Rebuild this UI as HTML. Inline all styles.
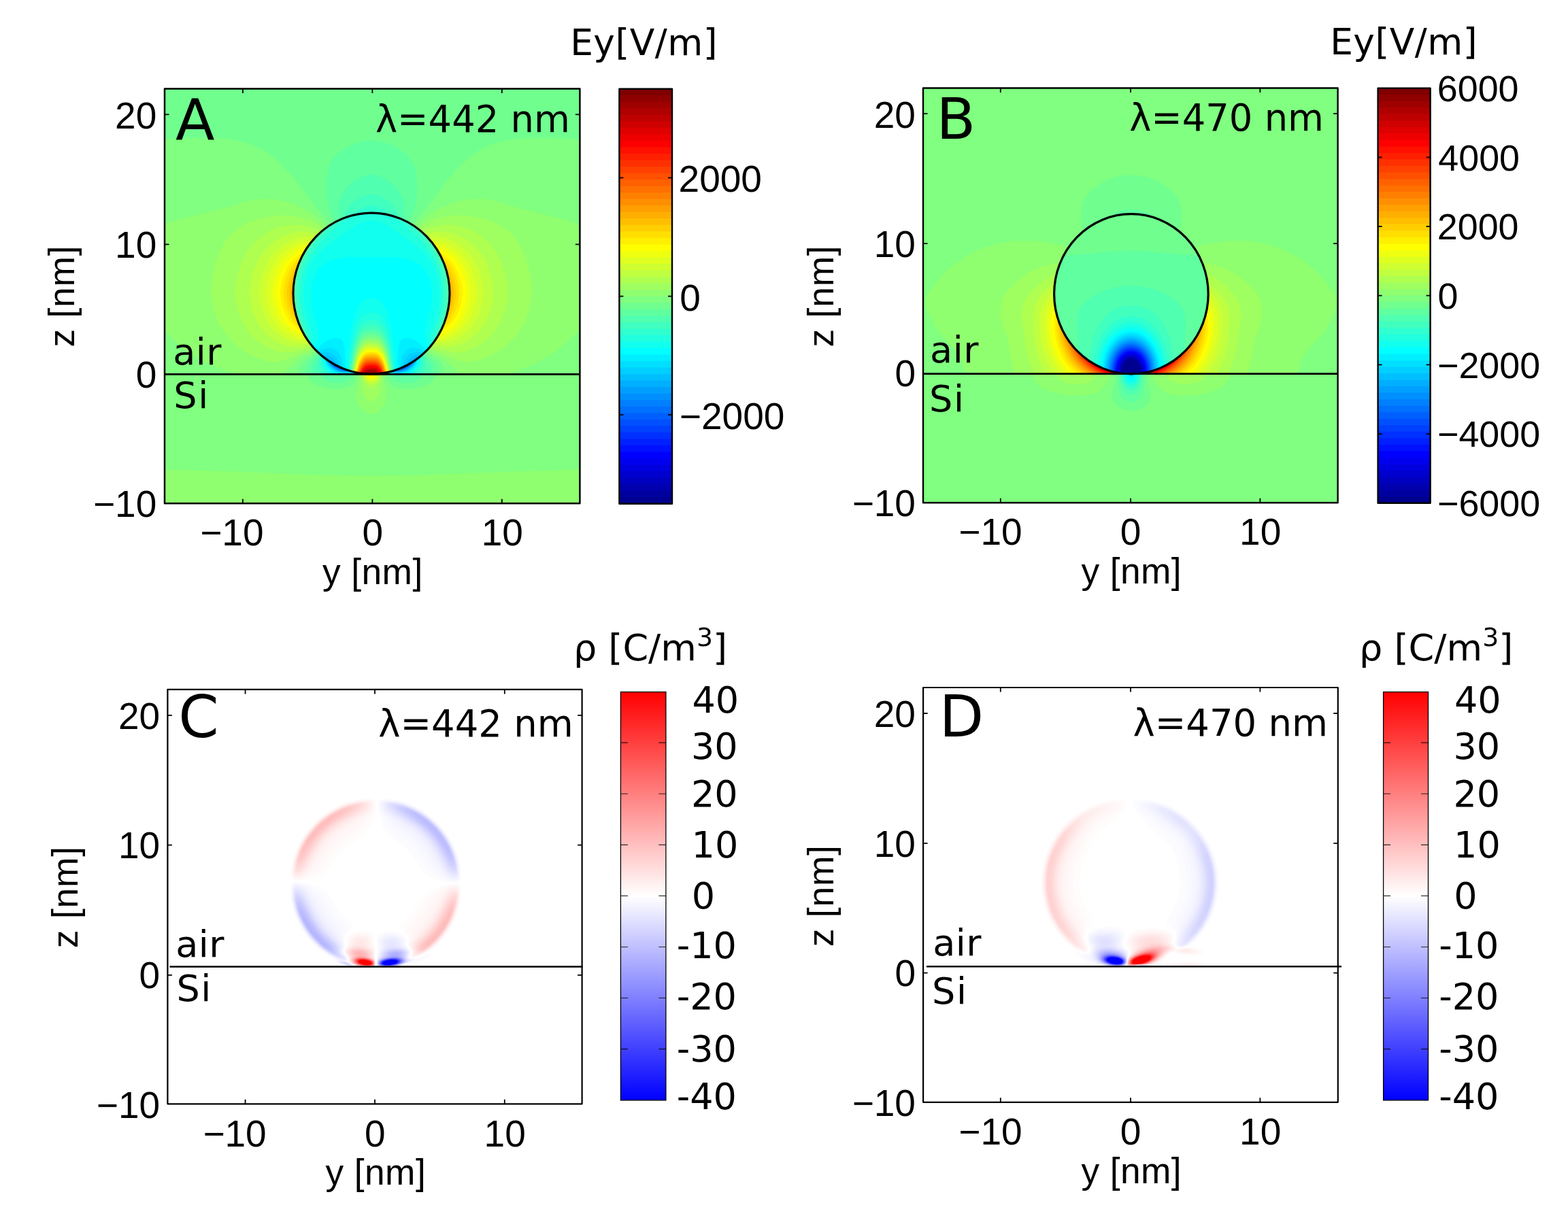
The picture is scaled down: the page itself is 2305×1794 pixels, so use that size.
<!DOCTYPE html>
<html lang="en"><head><meta charset="utf-8"><title>Ey field and charge density maps</title>
<style>html,body{margin:0;padding:0;background:#fff}body{width:2305px;height:1794px;overflow:hidden}svg{display:block}text{fill:#000}</style>
</head><body>
<svg width="2305" height="1794" viewBox="0 0 2305 1794">
<rect width="2305" height="1794" fill="#fff"/>
<g id="panelA">
<clipPath id="clip242"><rect x="242" y="130.5" width="610.4" height="609.7"/></clipPath>
<g clip-path="url(#clip242)" shape-rendering="geometricPrecision">
<rect x="241" y="129.5" width="612.4" height="611.7" fill="#0020ff"/>
<path fill="#0030ff" d="M241 129h613v613h-613z"/>
<path fill="#0040ff" d="M241 129h613v613h-613z"/>
<path fill="#0050ff" d="M241 129h613v613h-613zM491.5 537l4.5 3l5 2v-1h-1l-1 -1h-1l-1 -1.5l-1 0.5l-1 -1h-1l-1 -1zM600.5 537h-1.5l-1 1h-1l-1 1l-1 -0.5l-1 1.5h-1l-1 1h-1v1l5 -2z"/>
<path fill="#0060ff" d="M241 129h613v613h-613zM490 536l3 2.5l4 2.5l4 1.5l5 1l-2 -1.5h-2l-1 -1.5l-1 0.5l-1 -1.5h-1l-1 -1h-1l-1 -1h-1l-1 -1l-1 0.5l-1 -1zM602 536h-1l-1 1l-1 -0.5l-1 1h-1l-1 1h-1l-1 1h-1l-1 1.5l-1 -0.5l-1 1.5h-2l-2 1.5l5 -1l4 -1.5l4 -2.5z"/>
<path fill="#0070ff" d="M241 129h613v613h-613zM489 536l4 3l4 2.5l4 1.5l5 1v-1h-1l-1 -1.5l-2 0.5l-1 -1.5h-1l-1 -1h-1l-1 -1h-1l-1 -1h-1l-1 -1h-1l-1 -1zM603 536l-2 -0.5l-1 1h-1l-1 1h-1l-1 1h-1l-1 1h-1l-1 1h-1l-1 1.5l-2 -0.5l-1 1.5h-1v1l5 -1l4 -1.5l4 -2.5z"/>
<path fill="#0080ff" d="M241 129h613v613h-613zM486.5 534l4.5 4.5l5 3l6 2l7 1v-0.5h-2l-3 -2.5h-2l-1 -1h-1l-1 -1h-1l-1 -1h-1l-1 -1h-1l-1 -1h-1l-1 -1h-1l-2 -2zM605.5 534l-1.5 -0.5l-2 2h-1l-1 1h-1l-1 1h-1l-1 1h-1l-1 1h-1l-1 1h-1l-1 1h-2l-3 2.5h-2v0.5l7 -1l6 -2l5 -3z"/>
<path fill="#008fff" d="M241 129h613v613h-613zM485 533l4.5 5l5.5 4l7 2.5l7 0.5v-1h-2l-3 -2.5h-2l-1 -1h-1l-3 -2h-1l-1 -1h-1l-3 -2h-1l-2 -2h-1l-1 -1zM607 533l-1 -0.5l-1 1h-1l-2 2h-1l-3 2h-1l-1 1h-1l-3 2h-1l-1 1h-2l-3 2.5h-2v1l7 -0.5l7 -2.5l5.5 -4z"/>
<path fill="#009fff" d="M241 129h613v613h-613zM484.5 533l4.5 5.5l7 4.5l8 2.5h8v-0.5h-2l-1 -1.5h-2l-3 -2h-2l-1 -1h-1l-3 -2h-1l-1 -1h-1l-3 -2h-1l-2 -2h-1l-1 -1zM607.5 533l-1.5 -0.5l-1 1h-1l-2 2h-1l-3 2h-1l-1 1h-1l-3 2h-1l-1 1h-2l-3 2h-2l-1 1.5h-2v0.5h8l8 -2.5l7 -4.5z"/>
<path fill="#00afff" d="M241 129h613v613h-613zM482.5 531l2.5 4l2.5 3l3.5 3l4 2.5l8 2.5h9v-1h-2l-1 -1.5h-2l-3 -2h-2l-3 -2.5h-1l-1 -1h-1l-1 -1h-1l-1 -1l-3 -1l-2 -2l-3 -1l-2 -1.5zM609.5 531l-0.5 -0.5l-2 1.5l-3 1l-2 2l-3 1l-1 1h-1l-1 1h-1l-1 1h-1l-3 2.5h-2l-3 2h-2l-1 1.5h-2v1h9l8 -2.5l4 -2.5l3.5 -3l2.5 -3z"/>
<path fill="#00bfff" d="M241 129h613v613h-613zM477 525.5v0.5l1 1h1l1.5 2l3 5l2.5 3.5l4 3.5l4 2.5l5 2l5 1.5h6l6 -1h-3l-1 -1.5h-2l-1 -1h-2l-3 -2h-2l-1 -1.5h-1l-1 -1h-1l-1 -1h-1l-1 -1l-3 -1l-4 -5l-3 -2.5l-4 -2zM615 525.5l-4 1l-4 2l-3 2.5l-4 5l-3 1l-1 1h-1l-1 1h-1l-1 1h-1l-1 1.5h-2l-3 2h-2l-1 1h-2l-1 1.5h-3l6 1h6l5 -1.5l5 -2l4 -2.5l4 -3.5l2.5 -3.5l3 -5l1.5 -2h1l1 -1z"/>
<path fill="#00cfff" d="M241 129h613v613h-613zM473 522v1l1 1h1l3 3.5l1.5 0.5l3 6l3 4l6.5 5.5l6 3l6 1h6l6 -0.5v-1h-3l-1 -1.5h-2l-1 -1h-2l-3 -2.5h-2l-1 -1h-1l-1 -1l-3 -1l-4 -8l-3 -3l-3 -2.5l-6 -2zM619 522l-7 0.5l-6 2l-3 2.5l-3 3l-4 8l-3 1l-1 1h-1l-1 1h-2l-3 2.5h-2l-1 1h-2l-1 1.5h-3v1l6 0.5h6l6 -1l6 -3l6.5 -5.5l3 -4l3 -6l1.5 -0.5l3 -3.5h1l1 -1z"/>
<path fill="#00dfff" d="M241 129h613v613h-613zM470 519.5l4 5h1l3 3l1 0.5l2.5 6l3.5 5l7 5.5l6 2.5l7 1.5h7l6.5 -1.5h-1.5l-1 -1l-3 -0.5l-1 -1h-2l-1 -1l-2 -0.5l-3 -2h-2l-1 -1h-1l-1.5 -6l-2.5 -6l-4 -5l-4 -3l-4 -1.5l-5 -1l-5 0.5zM622 519.5l-4 -1.5l-5 -0.5l-5 1l-4 1.5l-4 3l-4 5l-2.5 6l-1.5 6h-1l-1 1h-2l-3 2l-2 0.5l-1 1h-2l-1 1l-3 0.5l-1 1h-1.5l6.5 1.5h7l7 -1.5l6 -2.5l7 -5.5l3.5 -5l2.5 -6l1 -0.5l3 -3h1z"/>
<path fill="#00efff" d="M241 129h613v613h-613zM467.5 517l6.5 7.5h1l3 3.5l2 6l3.5 5l3.5 3.5l4 3l7 3l6 1h8l7 -1.5v-1h-2l-1 -1.5h-3l-1 -1h-2l-1 -1.5h-2l-3 -2l-1 -9l-2 -8l-3.5 -6l-4.5 -4l-6 -2.5h-6l-7 2zM624.5 517l-6.5 -3.5l-7 -2h-6l-6 2.5l-4.5 4l-3.5 6l-2 8l-1 9l-3 2h-2l-1 1.5h-2l-1 1h-3l-1 1.5h-2v1l7 1.5h8l6 -1l7 -3l4 -3l3.5 -3.5l3.5 -5l2 -6l3 -3.5h1z"/>
<path fill="#00ffff" d="M241 129h613v613h-613zM465 514.5v0.5l9 9.5h1l2 2.5l2 7l3 5.5l3.5 3.5l4.5 3l5 2.5l4.5 1.5h16.5l6 -2h-2l-1 -1h-2l-1 -1.5h-3l-1 -1l-2 -0.5l-1 -1h-2l0.5 -16l-1 -15l-2 -9l-1.5 -2.5l-2 -2l-3 -1l-4 -0.5l-5 0.5l-5 2l-5 2.5l-5 3.5zM627 514.5l-9 -9l-5 -3.5l-5 -2.5l-5 -2l-5 -0.5l-4 0.5l-3 1l-2 2l-1.5 2.5l-2 9l-1 15l0.5 16h-2l-1 1l-2 0.5l-1 1h-3l-1 1.5h-2l-1 1h-2l6 2h16.5l4.5 -1.5l5 -2.5l4.5 -3l3.5 -3.5l3 -5.5l2 -7l2 -2.5h1l9 -9.5z"/>
<path fill="#10ffef" d="M241 129h613v613h-613zM474.5 390l-4.5 4l-3.5 5l-3.5 6l-2 5l-2 7l-1 6.5l-0.5 14.5l1 9l1.5 10l6.5 23l2 9l-0.5 5l-0.5 5l-5 13l11.5 12.5l1 0.5l1 1l1.5 8l1.5 4l2.5 3l5.5 5l7.5 4h26.5l3 -1.5v-0.5h-4l-1 -1l-2 -0.5l-1 -1h-3l-1 -1.5h-2l-0.5 -1l4 -41l4 -24l5 -19l3 -7l3.5 -5.5l3 -3.5l4 -2.5l4 -1.5h7l6 0.5l4 1.5l4 3l3 3.5l3.5 6.5l3 8l5 20l3 21l4 40l-0.5 1h-2l-1 1.5h-3l-1 1l-2 0.5l-1 1h-4v0.5l3 1.5h26.5l5.5 -2.5l5 -4l3.5 -3.5l2.5 -4l1.5 -5l0.5 -5l1 -1l1 -0.5l11.5 -12.5l-5 -13l-0.5 -5l-0.5 -5l1 -7l6 -19l2.5 -11l1.5 -12v-12l-1.5 -10.5l-2.5 -8.5l-3.5 -8l-5 -7l-4 -4l-4 -2.5l-10 -5l-12 -3l-15 -1.5h-59l-14 1l-9 1.5l-8 2.5l-7 3z"/>
<path fill="#20ffdf" d="M241 129h613v613h-613zM534 326l-7 3l-7 4l-31 22l-12 9.5l-8 7.5l-6 7l-6 9.5l-4 8l-3 9.5l-2.5 11l-1 11v12l1.5 11l2 10.5l10 32.5l0.5 7l-1 8l0.5 1l14 15h0.5l1 8l2 6l4 5l6.5 5l2.5 1l13.5 0.5l21.5 -0.5l2 -1h-2.5l-1 -1h-4l-1 -1.5h-2l-1 -1l-3 -0.5l-1 -1h-1l5.5 -37l5 -22l2.5 -7.5l3 -6.5l3 -4.5l4 -4l4 -2l4 -0.5l7 -0.5l5 1l5 2.5l4 4.5l4 7.5l3.5 9l5 22l5.5 38h-1l-1 1l-3 0.5l-1 1h-2l-1 1.5h-4l-1 1h-2.5l2 1h7.5h27.5l6.5 -4l5 -5l2 -3l1.5 -4l1 -9h0.5l14 -15l0.5 -1l-1 -8l0.5 -7l10 -32l2 -10l1 -9l0.5 -11l-0.5 -10l-1.5 -9l-2 -9l-2.5 -7.5l-3 -6.5l-8 -12l-11 -12l-14 -11l-31 -22l-11 -6l-7 -2l-7 -1l-6 0.5z"/>
<path fill="#30ffcf" d="M241 129h613v613h-613zM521.5 316l-11.5 6l-10 7l-11.5 10l-13.5 14l-9 10l-8 11l-6 10.5l-5 11.5l-3 10.5l-2 12.5l-1 12l0.5 13l1.5 10l2 9.5l3 10.5l7 20l2 12l2 2v1l14 15v9l1.5 6l4.5 6l6.5 5l20.5 0.5l26 -0.5h-1l-1 -1h-5l-1 -1l-4 -0.5l-1 -1h-2l-1 -1l-3 -0.5v-1l4.5 -30l4 -17l2.5 -8l3 -7l3 -4.5l4 -4l3 -2l4 -1h8l5 1l4 2l4 4l3.5 5.5l3.5 8l2.5 9l2.5 12l5 32v1l-3 0.5l-1 1h-2l-1 1l-4 0.5l-1 1h-5l-1 1h-1l26 0.5l20.5 -0.5l6.5 -5l4.5 -6l1.5 -6v-9l14 -15v-1l2 -2l2 -12l7 -20l3 -10.5l3 -16.5l1 -18l-2 -18l-4 -15l-4 -9.5l-4 -7.5l-6 -9.5l-7 -9l-10 -11l-12 -11.5l-10 -9l-8.5 -6l-6.5 -4l-6.5 -3h-3.5l-1 -1l-5 -0.5l-1 -1l-14 -0.5l-14 0.5l-1 1l-5 0.5l-1 1z"/>
<path fill="#40ffbf" d="M241 129h613v613h-613zM539 303l-5 2l-5 3l-9 8h-3l-1 1l-2 0.5l-1 1h-2l-1 1h-2l-1 1h-2l-3 2.5h-2l-1 1h-1l-5 3l-11 10l-11 12l-10 12.5l-8 12l-6 12l-4 10.5l-3 11.5l-2 11.5l-0.5 12l0.5 13l2 13.5l3 12.5l8.5 24l1.5 7l2 2v1l4 4v1l13 14l-1.5 10l0.5 6l1 3l2 3l6 5l24 0.5l37 -0.5h-10l-1 -1h-5l-1 -1l-4 -0.5l-1 -1h-2l-1 -1.5h-2l5.5 -33l3.5 -12l3.5 -9l4.5 -7l4 -4l5 -2h6h6l5 2l4 4l4.5 7l3.5 9l3.5 12l5.5 33h-2l-1 1.5h-2l-1 1l-4 0.5l-1 1h-5l-1 1h-10l37 0.5l24 -0.5l6 -5l2 -3l1 -3l0.5 -6l-1.5 -10l13 -14v-1l4 -4v-1l2 -2l11 -35l3.5 -17l1 -17l-1 -17l-3.5 -16l-3 -8.5l-4 -9.5l-5 -9l-5 -7.5l-7 -9.5l-8 -9.5l-8 -8.5l-12 -11l-3 -1l-1 -1h-1l-1 -1h-2l-3 -2.5h-2l-1 -1h-2l-1 -1h-2l-1 -1l-2 -0.5l-1 -1h-3l-8 -7.5l-8 -4.5l-8 -2h-5z"/>
<path fill="#50ffaf" d="M241 129h613v613h-613zM556 287.5l-5 -1l-5 -0.5l-9 1.5l-10 4l-10 7.5l-3.5 4l-2.5 4l-2.5 6l-1.5 7h-2l-3 2.5h-2l-3 2h-1l-3 2h-1l-2 2l-3 1.5l-2 2h-1l-2 2h-1l-8 7l-6 7l-9 12l-7 11l-6 11.5l-4 10.5l-4 15.5l-2 16.5v16l2.5 17l3.5 15l8 22l4 5v1l2 2v1l3.5 4v1l12 13l-4 11l-1 6l0.5 3l1.5 3l4.5 5l29 1l40 -1h-10l-1 -1h-5l-1 -1l-4 -0.5l-1 -1l-2 -0.5l-1 -1h-1l5.5 -30l3 -11l3.5 -8l4 -6.5l4 -3.5l5 -2l6 -0.5l6 0.5l5 2l4 3.5l4 6.5l3.5 8l3 11l5.5 30h-1l-1 1l-2 0.5l-1 1l-4 0.5l-1 1h-5l-1 1h-10l40 1l29 -1l4.5 -5l1.5 -3l0.5 -3l-1 -6l-4 -11l12 -13v-1l3.5 -4v-1l2 -2v-1l4 -5l7 -19l4 -14l2 -12l1 -12v-12.5l-1 -12.5l-3 -13l-3 -10l-5 -11.5l-5 -9.5l-6 -9l-7 -9.5l-8 -9.5l-8 -7h-1l-2 -2h-1l-2 -2l-3 -1.5l-2 -2h-1l-3 -2h-1l-3 -2h-2l-3 -2.5h-2l-3 -11l-4 -7l-6 -5.5l-5 -3.5l-6 -3.5z"/>
<path fill="#60ff9f" d="M241 129h613v613h-613zM534 259l-8 4l-7 4.5l-7 6.5l-7 8.5l-4.5 8.5l-3 11l1 21l-1.5 1h-1l-1 1h-1l-1 1.5h-1l-2 2l-3 1l-2 2h-1l-2 2h-1l-3 3l-1 0.5l-4 4h-1l-12 12v1l-4 4v1l-3 3.5l-7 12.5l-5 11l-4 12.5l-3 15.5l-1.5 18l1.5 18l3 17l3 10l2 3v2l3 5v1l1 1v1l2 2l1 3l4 5v1l1.5 2v1l4 4v1l10.5 11v1l-10 15l-1 4l0.5 5l3 5l33.5 1l46 -1h-10l-1 -1h-5l-1 -1.5h-4l-1 -1l-2 -0.5l-1 -1l5.5 -28l3 -10l3.5 -8l4 -5.5l4 -3.5l5 -1.5h7l6 1l4 2l4 4.5l3 5l3 7.5l3 9.5l5 27l-1 1l-2 0.5l-1 1h-4l-1 1.5h-5l-1 1h-10l46 1l33.5 -1l3 -6l0.5 -3v-3l-2.5 -5l-8.5 -12v-1l10.5 -11v-1l4 -4v-1l1.5 -2v-1l4 -5l1 -3l2 -2v-1l1 -1v-1l3 -5v-2l1 -1l2 -5.5l3 -11.5l2 -11l1.5 -15l-0.5 -15l-2 -14l-4 -15l-4 -10.5l-5 -10.5l-6 -10l-2 -2v-1l-4 -4v-1l-12 -12h-1l-4 -4l-1 -0.5l-3 -3h-1l-2 -2h-1l-2 -2l-3 -1l-2 -2h-1l-1 -1.5h-1l-1 -1h-1l-1.5 -1l1 -20l-1 -5l-1.5 -6l-3 -6.5l-3 -4.5l-4 -4.5l-6 -6l-6 -5l-6 -3.5l-6 -3l-6 -1.5l-6 -0.5l-6 0.5z"/>
<path fill="#70ff8f" d="M241 129h613v613h-613zM533 207.5l-14 4.5l-7 3l-7 4l-6 4.5l-6.5 5.5l-3.5 4.5l-3.5 5.5l-3.5 9l-2 11l-1 12v15l2.5 17l9.5 24l-1 1l-3 1l-2 2.5h-1l-2 2h-1l-3 3h-1l-4 4h-1l-12 12.5v1l-4 4v1l-3 3v1l-4 5l-1 3l-1 1v1l-2 2v1l-2 3v2l-3 5v2l-2 3v2l-1 1v3l-1 1v2l-1 1v3l-1 1v4l-1 1v6l-1 1v30l1 1v5l1 1v4l1 1v3l1 1v3l1 1v2l1 1v2l1 1v2l3 5v2l3 5v1l1 1v1l2 2l1 3l3.5 5v1l2 2v1l4 4v1l9 10l-3.5 4l-9.5 8l-3 4l-2.5 6l0.5 6l0.5 3l23.5 1l-1 2l0.5 2l1 2l3 2.5l7 2.5l10 1.5l10 -0.5l7 -2.5l3 -2.5l1.5 -2l0.5 -3l-0.5 -2l25.5 -0.5v-0.5h-10l-1 -1l-5 -0.5l-1 -1h-4l-1 -1l-2 -0.5v-1l2.5 -15l3 -12l3 -9l3.5 -7.5l4 -5l4 -3l5 -1h8l4 1l4 2l4 4.5l3 5.5l2.5 6.5l3 9l4.5 24v1l-2 0.5l-1 1h-4l-1 1l-5 0.5l-1 1h-10v0.5l25.5 0.5l-0.5 3l1.5 3l2.5 2.5l4 2l5 1.5l5 0.5h6l6 -1l6 -1.5l5 -3l2 -3l0.5 -2l-1 -2l23.5 -1l1 -8l-1.5 -6l-4 -5l-9.5 -8l-3.5 -4l9 -10v-1l4 -4v-1l2 -2v-1l3.5 -5l1 -3l2 -2v-1l1 -1v-1l3 -5v-2l3 -5v-2l1 -1v-2l1 -1v-2l1 -1v-3l1 -1v-3l1 -1v-4l1 -1v-5l1 -1v-30l-1 -1v-6l-1 -1v-4l-1 -1v-3l-1 -1v-2l-1 -1v-3l-1 -1v-2l-2 -3v-2l-3 -5v-2l-2 -3v-1l-2 -2v-1l-1 -1l-1 -3l-4 -5v-1l-3 -3v-1l-4 -4v-1l-12 -12.5h-1l-4 -4h-1l-3 -3h-1l-2 -2h-1l-2 -2.5l-3 -1l-1 -1l10 -25l1.5 -11l0.5 -11v-14l-1.5 -12l-3 -10l-4.5 -9l-5 -6.5l-8 -6.5l-9 -6l-10 -4.5l-10 -3l-11 -2h-9z"/>
<path fill="#80ff80" d="M241 205l25 -1.5l22 -1h21l19 1l16 2l12 2.5l13 4l12 5.5l10 5.5l9 6.5l10 8.5l10 10.5l17 20l25 33.5l10 11.5l9 11.5l3.5 6h-0.5l-2 2h-1l-3 3.5h-1l-4 4h-1l-12.5 12.5v1l-3.5 4v1l-3 3v1l-4 5l-1 3l-1 1v1l-2 2v1l-1 1v1l-1 1v2l-3 5v2l-1 1v1l-1 1v2l-1 1v3l-1 1v2l-1 1v3l-1 1v4l-1 1v6l-1 1v30l1 1v5l1 1v4l1 1v3l1 1v3l1 1v2l1 1v2l1 1v2l3 5v2l3 5l1 3l1.5 2l1 3l4 5v1l2 2v1l4 4v1l7.5 8l-4 3.5l-12.5 7.5l-6 5l-2 3l-2 4l-1 4l-0.5 6l16 1l-0.5 3l0.5 2l2 4l5 4l7 3.5l12 3.5l15 1h7l6 -1.5l5 -1.5l4 -2.5l3 -3l2 -3.5l1 -4v-5l18 -0.5v-0.5h-10l-1 -1l-5 -0.5l-1 -1h-4l-1 -1.5h-1.5l4.5 -22l5 -15l3 -5.5l3 -3.5l4 -2.5l4 -1.5h7l5 0.5l4 2l4 4l3.5 5.5l3 8l3 10l4 20h-1.5l-1 1.5h-4l-1 1l-5 0.5l-1 1h-10v0.5l18 0.5v6l2 5l3 3.5l5 3.5l7 2l9 1l11 -0.5l11 -1.5l10 -3.5l7 -4.5l4 -5l0.5 -3l-0.5 -3l16 -1l-0.5 -6l-1 -4l-2 -4l-2 -3l-6 -5l-12.5 -7.5l-4 -3.5l7.5 -8v-1l4 -4v-1l2 -2v-1l4 -5l1 -3l1.5 -2l1 -3l3 -5v-2l3 -5v-2l1 -1v-2l1 -1v-2l1 -1v-3l1 -1v-3l1 -1v-4l1 -1v-5l1 -1v-30l-1 -1v-6l-1 -1v-4l-1 -1v-3l-1 -1v-2l-1 -1v-3l-1 -1v-2l-2 -3v-2l-3 -5v-2l-2 -3v-1l-2 -2v-1l-1 -1l-1 -3l-4 -5v-1l-3 -3v-1l-3.5 -4v-1l-12.5 -12.5h-1l-4 -4h-1l-3 -3.5h-1l-2 -2h-0.5l7.5 -11.5l15 -17.5l24 -32.5l11 -13.5l11 -12l15 -13.5l14 -10l17 -8l18 -5.5l23 -3l27 -1.5l30 0.5l34 2.5v536.5h-613z"/>
<path fill="#8fff70" d="M241 331l9.5 -5l90 -23l12.5 -4.5l10 -3l11 -2l10 -1h11l10 0.5l10 2l9 2.5l24 10l8 4.5l8 6l8 7l8 9l-2 2h-1l-4 4.5h-1l-12.5 12.5v1l-4 4v1l-3 3v1l-4 5l-1 3l-1 1v1l-1.5 2v1l-2 3v2l-3 5v2l-2 3v2l-1 1v3l-1 1v2l-1 1v3l-1 1v4l-1 1v6l-1 1v30l1 1v5l1 1v4l1 1v3l1 1v3l1 1v2l1 1v2l1 1v2l2.5 5v2l3 5l1 3l2 2l1 3l4 5v1l2 2v1l9.5 11l-5 3l-13.5 6l-6.5 4l-7 6l-11 11.5l-6 4.5h-46h-23l-17 -6l-18 -7l-18.5 -9l-10.5 -6l-10.5 -8l-30.5 -27.5zM671 296.5l13 -3l13 -1h13l14 2l12 3l15.5 5.5l90 23l12.5 6.5v151l-28.5 26.5l-15.5 12l-16 8.5l-15.5 7.5l-16.5 6.5l-16 5.5h-68l-3 -1.5l-4 -3l-11 -11.5l-7 -6l-6.5 -4l-13.5 -6l-5 -3l9.5 -11v-1l2 -2v-1l4 -5l1 -3l2 -2l1 -3l3 -5v-2l2.5 -5v-2l1 -1v-2l1 -1v-2l1 -1v-3l1 -1v-3l1 -1v-4l1 -1v-5l1 -1v-30l-1 -1v-6l-1 -1v-4l-1 -1v-3l-1 -1v-2l-1 -1v-3l-1 -1v-2l-2 -3v-2l-3 -5v-2l-2 -3v-1l-1.5 -2v-1l-1 -1l-1 -3l-4 -5v-1l-3 -3v-1l-4 -4v-1l-12.5 -12.5h-1l-4 -4.5h-1l-2 -2l11 -11.5l7 -6l7 -5l12 -6.5l13 -5.5zM544 499l7 0.5l4 1l4 3l3 3.5l3 6l3.5 9l3 11l2.5 13h-1l-1 1l-4 0.5l-1 1l-5 0.5l-1 1h-10v0.5l14 0.5v13l3.5 12l0.5 6l-1 4l-1.5 6l-2.5 5l-3 4l-3 3.5l-4 2.5l-4 1.5l-4 0.5l-4 -0.5l-4 -1.5l-4 -2.5l-3 -3.5l-3 -4l-2.5 -5l-1.5 -6l-1 -4l0.5 -6l3.5 -12v-13l14 -0.5v-0.5h-10l-1 -1l-5 -0.5l-1 -1l-4 -0.5l-1 -1h-1l5 -23l3 -8l3 -6l3 -4.5l3 -3l4 -2zM241 690.5l88 2.5l144 5.5l73 1l72 -1l146 -5.5l90 -2.5v51.5h-613z"/>
<path fill="#9fff60" d="M433 317.5l13 3l11 4l9 5l10 7l-3 3.5h-1l-12.5 13v1l-4 4v1l-3 3v1l-4 5l-1 3l-1 1v1l-2 2v1l-2 3v2l-3 5v2l-2 3v2l-1 1v3l-0.5 1l-0.5 2l-0.5 1l-0.5 3l-0.5 1v4l-1 1v6l-1 1v30l1 1v5l0.5 1l0.5 4l0.5 1v3l1 1v3l1 1v2l1 1v2l1 1v2l3 5v2l3 5l1 3l2 2l1 3l4 5v1l2 2v1l3.5 4v1l3.5 4l-20.5 7.5l-18 7.5l-7 2.5l-10 1.5l-11 -0.5l-9 -2.5l-12 -4.5l-9 -4.5l-9.5 -6l-9 -7l-7 -7l-6 -7l-7.5 -10l-5.5 -9l-6 -17l-2.5 -12l-1.5 -10v-8l0.5 -10l1.5 -11l4.5 -20l8 -20l4 -7l4.5 -7l6 -7l5 -5l11.5 -7.5l12.5 -6.5l15.5 -5l13 -2.5l12 -1.5l12 -0.5zM654 318.5l11 -1.5l12 -0.5l12 1l13 2l12 3l9.5 3.5l11.5 6l14 9l6.5 7l5 7l5 8l3.5 7l4 11l6 20l1.5 10l1 10v10l-0.5 7l-1.5 10l-3 11l-4 12l-3 6l-8 12l-6 8l-7 7l-8 7l-8.5 6l-9 5l-14 6l-10 3l-11 1l-6 -0.5l-5 -0.5l-7 -2.5l-20 -8.5l-19.5 -7l3.5 -4v-1l3.5 -4v-1l2 -2v-1l4 -5l1 -3l2 -2l1 -3l3 -5v-2l3 -5v-2l1 -1v-2l1 -1v-2l1 -1v-3l1 -1v-3l0.5 -1l0.5 -4l0.5 -1v-5l1 -1v-30l-1 -1v-6l-1 -1v-4l-0.5 -1l-0.5 -3l-0.5 -1l-0.5 -2l-0.5 -1v-3l-1 -1v-2l-2 -3v-2l-3 -5v-2l-2 -3v-1l-2 -2v-1l-1 -1l-1 -3l-4 -5v-1l-3 -3v-1l-4 -4v-1l-12.5 -13h-1l-3 -3.5l8 -6l9.5 -5.5l9.5 -4zM544 502h7l4 1.5l4 2.5l3 4l3 5.5l3 8.5l5 22l-1 1l-4 0.5l-1 1h-5l-1 1.5h-10v0.5l11 0.5v4l-3 13l-1 9l-1.5 5l-2 3l-2.5 3l-3 1.5l-3 0.5l-3 -0.5l-3 -1.5l-2.5 -3l-2 -3l-1.5 -5l-1 -9l-3 -13v-4l11 -0.5v-0.5h-10l-1 -1.5h-5l-1 -1l-4 -0.5l-1 -1l4.5 -21l2.5 -7l3 -6.5l3 -4l3 -3l4 -2z"/>
<path fill="#afff50" d="M447 331.5l13 3.5l11.5 5l-12 13v1l-4 4v1l-3 3v1l-2 2v1l-2 2v1l-2 3v1l-2 2v1l-2 3v2l-3 5v2l-2 3v2l-1 1v3l-1 1v2l-1 1v3l-1 1v4l-1 1v6l-1 1v30l1 1v5l1 1v4l1 1v3l1 1v3l1 1v2l1 1v2l1 1v2l3 5v2l3 5l1 3l2 2l1 3l4 5v1l1.5 2v1l4 4v1l1 1.5l-12 3l-19 4l-9 0.5l-8 -0.5l-7 -2l-8 -3.5l-8 -4.5l-7 -4.5l-7 -6l-6 -6l-4.5 -6l-4.5 -7l-3.5 -7l-4 -10l-2.5 -9l-2 -9l-1 -8v-7l0.5 -9l1.5 -9l2.5 -10l3 -9l3.5 -10l3.5 -7l4.5 -7l5 -6l5.5 -6l7 -6l13 -9l8.5 -4l8 -2.5l8 -1.5l9 -1l9 -0.5zM641 332.5l8 -1.5l9 -0.5l9 0.5l8 1.5l9 2.5l8 3l6 3l7.5 5l7.5 6l6.5 6l5 6l5 7l4 7l3.5 9l3.5 10l2.5 9l2 9l0.5 9l0.5 8l-0.5 7l-1.5 9l-2.5 9l-3 9l-4 9l-4.5 8l-4.5 6l-5.5 6l-6.5 6l-7.5 5.5l-8 4.5l-8 3.5l-7 2.5l-9 1l-9 -0.5l-17 -3l-15 -4l1 -1.5v-1l4 -4v-1l1.5 -2v-1l4 -5l1 -3l2 -2l1 -3l3 -5v-2l3 -5v-2l1 -1v-2l1 -1v-2l1 -1v-3l1 -1v-3l1 -1v-4l1 -1v-5l1 -1v-30l-1 -1v-6l-1 -1v-4l-1 -1v-3l-1 -1v-2l-1 -1v-3l-1 -1v-2l-2 -3v-2l-3 -5v-2l-2 -3v-1l-2 -2v-1l-2 -3v-1l-2 -2v-1l-2 -2v-1l-3 -3v-1l-4 -4v-1l-12 -13l9.5 -4.5zM543 504.5h7l4 1l4 2.5l3 3l3.5 6l3 8l5 21l-0.5 1l-4 0.5l-1 1h-5l-1 1l-10 0.5v0.5l9 0.5l-0.5 5l-2 5l-3.5 5l-4 3.5l-4 1l-4 -1l-4 -3.5l-3.5 -5l-2 -5l-0.5 -5l9 -0.5v-0.5l-10 -0.5l-1 -1h-5l-1 -1l-4 -0.5l-0.5 -1l4.5 -19l2.5 -7l2.5 -5.5l3 -4.5l3 -3l4 -2z"/>
<path fill="#bfff40" d="M456 341.5l11 2.5v1l-8 8l0.5 1l-4 4v1l-3 3v1l-2 2v1l-2 2v1l-2 3v1l-2 2v1l-2 3v2l-1 1v1l-2 3v2l-2 3v2l-1 1v3l-1 1v2l-1 1v3l-1 1v4l-1 1v6l-1 1v30l1 1v5l1 1v4l1 1v3l1 1v3l1 1v2l1 1v2l1 1v2l3 5v2l3 5l1 3l2 2l1 3l2 2v1l1.5 2v1l2 2v1l3 3v0.5l-9 1.5l-10 1h-7l-7 -1l-6 -1.5l-7 -3l-6.5 -3.5l-6 -4l-6 -5l-5 -5l-4 -5l-4 -6l-4 -8l-3 -8l-3 -9l-1.5 -8l-1 -13l0.5 -8l1 -9l4.5 -16l6.5 -16l4 -6l4.5 -6l10.5 -10l6.5 -5l8 -5l6 -3l7 -2.5l7 -1.5l8 -1l8 -0.5zM631 342.5l8 -1.5l8 -0.5l8 0.5l7 1.5l7 2l7 3l13 8l7 5.5l5.5 5l5 6l4 6l3.5 6l3 8l5.5 17l1.5 9l1 8v6l-0.5 8l-1.5 9l-2.5 8l-7 17l-7 11l-4.5 5l-6 5l-6 4.5l-7 4l-7 3l-6 2l-7 1l-8 0.5l-10 -1l-10 -1.5v-0.5l3 -3v-1l2 -2v-1l1.5 -2v-1l2 -2l1 -3l2 -2l1 -3l3 -5v-2l3 -5v-2l1 -1v-2l1 -1v-2l1 -1v-3l1 -1v-3l1 -1v-4l1 -1v-5l1 -1v-30l-1 -1v-6l-1 -1v-4l-1 -1v-3l-1 -1v-2l-1 -1v-3l-1 -1v-2l-1 -1v-1l-1 -1v-2l-3 -5v-2l-2 -3v-1l-2 -2v-1l-2 -3v-1l-4 -5v-1l-3 -3v-1l-4 -4l0.5 -1l-8 -8v-1zM543 507h7l4 1l4 2.5l3 3.5l3 5l3 7.5l2.5 9.5l2.5 11l-4 0.5l-1 1h-5l-1 1l-10 0.5v0.5l7 0.5l-0.5 4l-1 3l-2.5 3.5l-3 2.5l-4 1l-4 -0.5l-3 -1.5l-3 -2.5l-2 -3.5l-1 -3v-3l7 -0.5v-0.5l-10 -0.5l-1 -1h-5l-1 -1l-4 -0.5l4 -18l5 -12l3 -4.5l3 -3l4 -2z"/>
<path fill="#cfff30" d="M463 348.5v0.5l-4 4v1l-4 4v1l-2.5 3v1l-4 5v1l-2 3v1l-2 2v1l-2 3v2l-3 5v2l-1 1v1l-1 1v2l-1 1v3l-1 1v2l-1 1v3l-1 1v4l-1 1v6l-1 1v30l1 1v5l1 1v4l1 1v3l1 1v3l1 1v2l1 1v2l1 1v2l3 5v2l3 5l1 3l2 2l0.5 3l2 2v1l4 5v1.5h-11l-7 -0.5l-6 -1.5l-6 -2l-12 -6.5l-9.5 -8l-4.5 -5l-3.5 -5l-7.5 -15l-4.5 -15l-1.5 -14l1 -14l3.5 -15l6.5 -16l6 -10l9.5 -10l6.5 -5l7 -5l6 -3l6 -2.5l7 -2l7 -1.5h7zM629 348.5l7 -0.5h7l7 1l7 1.5l12 5.5l7 4.5l7 5.5l9 9l4 5l3.5 6l6 15l4 15l1.5 15l-1.5 13l-4 15l-7.5 16l-7.5 10l-9.5 8l-12 7l-6 2.5l-6 1.5l-7 0.5h-12v-1.5l4 -5v-1l2 -2l0.5 -3l2 -2l1 -3l3 -5v-2l3 -5v-2l1 -1v-2l1 -1v-2l1 -1v-3l1 -1v-3l1 -1v-4l1 -1v-5l1 -1v-30l-1 -1v-6l-1 -1v-4l-1 -1v-3l-1 -1v-2l-1 -1v-3l-1 -1v-2l-2 -3v-2l-3 -5v-2l-2 -3v-1l-2 -2v-1l-2 -3v-1l-2 -2v-1l-2 -2v-1l-2.5 -3v-1l-4 -4v-1zM541 509.5h7l5 0.5l4 2l3 3l3 4.5l3.5 7.5l2.5 9l2.5 11l-3.5 0.5l-1 1h-5l-1 1h-10v1.5h5v4l-1.5 3l-2 2l-2.5 1.5l-3 1l-3 -0.5l-3 -1l-2.5 -2l-2 -3l-0.5 -5h5v-1.5h-10l-1 -1h-5l-1 -1l-3.5 -0.5l4 -16l4.5 -11.5l2 -3.5l3 -3.5l3 -2z"/>
<path fill="#dfff20" d="M459 353v1l-4 4v1l-3 3v1l-2 2v1l-1.5 2v1l-2 3v1l-2 2v1l-2 3v2l-3 5v2l-2 3v2l-1 1v3l-1 1v2l-1 1v3l-1 1v4l-1 1v6l-1 1v30l1 1v5l1 1v4l1 1v3l1 1v3l1 1v2l1 1v2l1 1v2l3 5v2l3 5l0.5 3l2 2l1 3l4 5v1l-14 -2l-11 -5l-11 -7l-8.5 -9l-3 -4l-3.5 -6l-6 -15l-3 -14l-0.5 -12l2 -14l5 -15l5 -11l7.5 -10.5l10.5 -9.5l12.5 -8l6 -2.5l6 -1.5l6 -1zM633 353l7 1l6 1l6 1.5l6 2.5l12.5 8l10.5 9.5l7.5 10.5l5 11l5 15l2 14l-0.5 12l-3 14l-6 15l-3.5 6l-3 4l-8.5 9l-11 7l-11 5l-14 2v-1l4 -5l1 -3l2 -2l0.5 -3l3 -5v-2l3 -5v-2l1 -1v-2l1 -1v-2l1 -1v-3l1 -1v-3l1 -1v-4l1 -1v-5l1 -1v-30l-1 -1v-6l-1 -1v-4l-1 -1v-3l-1 -1v-2l-1 -1v-3l-1 -1v-2l-2 -3v-2l-3 -5v-2l-2 -3v-1l-2 -2v-1l-2 -3v-1l-1.5 -2v-1l-2 -2v-1l-3 -3v-1l-4 -4zM542 511.5h7l4 0.5l4 2l3 3l3 4.5l3 7l2.5 8.5l2.5 10l-3 0.5l-1 1h-5l-1 1h-10v1.5h3.5l-0.5 4l-3 3.5l-4 2l-3 -0.5l-2 -0.5l-3.5 -3.5l-1 -2v-3h3.5v-1.5h-10l-1 -1h-5l-1 -1l-3 -0.5l4 -16l5 -11l2 -3l3 -3l3 -1.5z"/>
<path fill="#efff10" d="M455 358.5v0.5l-3 3v1l-2 2v1l-2 2v1l-1 1l-1 3l-2 2v1l-1.5 3v2l-3 5v2l-2 3v2l-1 1v3l-1 1v2l-1 1v3l-1 1v4l-1 1v6l-1 1v30l1 1v5l1 1v4l1 1v3l1 1v3l1 1v2l1 1v2l1 1v2l3 5l-0.5 2l3 5l1 3l2 2v1l1 1l1 3l-9 -3l-11 -5.5l-8.5 -6.5l-7 -8l-5.5 -10l-4.5 -12l-3 -12l-0.5 -11l1.5 -12l3 -12l5 -13l6 -9l8.5 -9l11 -8l10 -5zM637 358.5l10 2.5l10 5l11 8l8.5 9l6 9l5 13l3 12l1.5 12l-0.5 11l-3 12l-4.5 12l-5.5 10l-7 8l-8.5 6.5l-11 5.5l-9 3l1 -3l1 -1v-1l2 -2l1 -3l3 -5l-0.5 -2l3 -5v-2l1 -1v-2l1 -1v-2l1 -1v-3l1 -1v-3l1 -1v-4l1 -1v-5l1 -1v-30l-1 -1v-6l-1 -1v-4l-1 -1v-3l-1 -1v-2l-1 -1v-3l-1 -1v-2l-2 -3v-2l-3 -5v-2l-1.5 -3v-1l-2 -2l-1 -3l-1 -1v-1l-2 -2v-1l-2 -2v-1l-3 -3zM522 547l4 -16l2.5 -6l2.5 -4.5l3 -3.5l3 -2l4 -1.5h5h5l4 1.5l3 2l3 3.5l2.5 4.5l2.5 6l4 16h-2l-1 1.5h-5l-1 1h-10v1.5h1.5v2l-0.5 2l-3 2.5l-3 1l-3 -1l-3 -2.5l-0.5 -2v-2h1.5v-1.5h-10l-1 -1h-5l-1 -1.5z"/>
<path fill="#ffff00" d="M450 364v2l-2 2v1l-1 1l-1 3l-2 2v1l-2 3v2l-3 5l0.5 2l-2 3v2l-1 1v3l-1 1v2l-1 1v3l-1 1v4l-1 1v6l-1 1v30l1 1v5l1 1v4l1 1v3l1 1v3l1 1v2l1 1l-0.5 2l1 1v2l3 5v2l1 1v1l1 1v1l1 1v1l1 1l1 3l-8 -4l-8 -5l-6.5 -6l-4.5 -6l-5.5 -10l-4 -11l-2 -10l-1 -10l1 -10l2.5 -11l4.5 -12l4.5 -8l5.5 -7l7.5 -7l10 -7zM642 364l8 4l10 7l7.5 7l5.5 7l4.5 8l4.5 12l2.5 11l1 10l-1 10l-2 10l-4 11l-5.5 10l-4.5 6l-6.5 6l-8 5l-8 4l1 -3l1 -1v-1l1 -1v-1l1 -1v-1l1 -1v-2l3 -5v-2l1 -1l-0.5 -2l1 -1v-2l1 -1v-3l1 -1v-3l1 -1v-4l1 -1v-5l1 -1v-30l-1 -1v-6l-1 -1v-4l-1 -1v-3l-1 -1v-2l-1 -1v-3l-1 -1v-2l-2 -3l0.5 -2l-3 -5v-2l-2 -3v-1l-2 -2l-1 -3l-1 -1v-1l-2 -2zM522.5 547l4.5 -16l2 -5l3 -5l3 -3l3 -1.5l3 -1l5 -0.5l5 0.5l3 1l3 1.5l3 3l3 5l2 5l4.5 16h-1.5l-1 1.5h-5l-1 1h-10l-1 4.5l-2 2h-2h-2l-2 -2l-1 -4.5h-10l-1 -1h-5l-1 -1.5z"/>
<path fill="#ffef00" d="M447 370l-1 3l-2 2v1l-2 3v2l-3 5v2l-2 3v2l-1 1v3l-1 1l0.5 2l-1 1v3l-1 1v4l-1 1v6l-1 1v30l1 1v5l1 1l-0.5 4l1.5 1l-0.5 3l1 1v3l1 1v2l1 1v2l1 1v2l3 5v2l2 3v1.5l-6 -4l-6 -5l-4.5 -4.5l-4 -6l-5 -10l-3 -9l-1.5 -9l-1 -9l1 -10l2.5 -9l3 -9l4 -9l4 -6l5.5 -6l7 -5.5zM645 370l8 5.5l7 5.5l5.5 6l4 6l4 9l3 9l2.5 9l1 10l-1 9l-1.5 9l-3 9l-5 10l-4 6l-4.5 4.5l-6 5l-6 4v-1.5l2 -3v-2l3 -5v-2l1 -1v-2l1 -1v-2l1 -1v-3l1 -1l-0.5 -3l1.5 -1l-0.5 -4l1 -1v-5l1 -1v-30l-1 -1v-6l-1 -1v-4l-1 -1v-3l-1 -1l0.5 -2l-1 -1v-3l-1 -1v-2l-2 -3v-2l-3 -5v-2l-2 -3v-1l-2 -2zM523 547l4 -14.5l2.5 -5.5l2.5 -4l3 -3l3 -2l3 -0.5l5 -0.5l5 0.5l3 0.5l3 2l3 3l2.5 4l2.5 5.5l4 14.5h-1l-1 1l-5 0.5l-1 1h-10l-1 1.5h-4h-4l-1 -1.5h-10l-1 -1l-5 -0.5l-1 -1z"/>
<path fill="#ffdf00" d="M442 378v3l-3 5v2l-2 3v2l-1 1v3l-1 1v2l-1 1v3l-1 1v4l-1 1v6l-1 1v30l1 1v5l1 1v4l1 1v3l1 1v3l1 1v2l1 1v2l1 1v2l1 1v1l1 1l1 3l-5 -4l-5 -5l-3.5 -5l-2.5 -5l-3.5 -8l-2.5 -8l-1.5 -8l-0.5 -7l0.5 -8l1.5 -8l2.5 -8l3.5 -9l3 -5l4 -5.5l5 -5.5zM650 378l5 4l5 5.5l4 5.5l3 5l3.5 9l2.5 8l1.5 8l0.5 8l-0.5 7l-1.5 8l-2.5 8l-3.5 8l-2.5 5l-3.5 5l-5 5l-5 4l1 -3l1 -1v-1l1 -1v-2l1 -1v-2l1 -1v-2l1 -1v-3l1 -1v-3l1 -1v-4l1 -1v-5l1 -1v-30l-1 -1v-6l-1 -1v-4l-1 -1v-3l-1 -1v-2l-1 -1v-3l-1 -1v-2l-2 -3v-2l-3 -5zM523.5 547l3.5 -13l2.5 -5l2.5 -4l3 -3.5l3 -1.5l3 -1l5 -0.5l5 0.5l3 1l3 1.5l3 3.5l2.5 4l2.5 5l3.5 13l-1.5 1l-5 0.5l-1 1h-10l-1 1.5h-4h-4l-1 -1.5h-10l-1 -1l-5 -0.5z"/>
<path fill="#ffcf00" d="M439 385.5v2.5l-2 3v2l-1 1v3l-1 1v2l-1 1v3l-1 1v4l-1 1v6l-1 1v30l1 1v5l1 1v4l1 1v3l1 1v3l1 1v2l1 1v3l-6 -8l-5.5 -12l-3 -11l-1.5 -11l2 -13l3.5 -13l5.5 -11zM653 385.5l7 8.5l5.5 11l3.5 13l2 13l-1.5 11l-3 11l-5.5 12l-6 8v-3l1 -1v-2l1 -1v-3l1 -1v-3l1 -1v-4l1 -1v-5l1 -1v-30l-1 -1v-6l-1 -1v-4l-1 -1v-3l-1 -1v-2l-1 -1v-3l-1 -1v-2l-2 -3zM524 547l4 -13l2.5 -5l2.5 -4l2 -1.5l3 -2l3 -1h5h5l3 1l3 2l2 1.5l2.5 4l2.5 5l4 13l-1 1l-5 0.5l-1 1h-10l-1 1.5h-4h-4l-1 -1.5h-10l-1 -1l-5 -0.5z"/>
<path fill="#ffbf00" d="M436 394v3l-1 1v2l-1 1v3l-1 1v4l-1 1v6l-1 1v30l1 1v5l1 1v4l1 1v3l1 1v2l-4 -8l-3.5 -9l-2 -9l-0.5 -8l0.5 -9l2.5 -10l4 -11zM656 394l4 7l4 11l2.5 10l0.5 9l-0.5 8l-2 9l-3.5 9l-4 8v-2l1 -1v-3l1 -1v-4l1 -1v-5l1 -1v-30l-1 -1v-6l-1 -1v-4l-1 -1v-3l-1 -1v-2l-1 -1zM524.5 547l4 -12l4.5 -8l2 -2l3 -2l3 -1h5h5l3 1l3 2l2 2l4.5 8l4 12l-0.5 1l-5 0.5l-1 1h-10l-1 1.5h-4h-4l-1 -1.5h-10l-1 -1l-5 -0.5z"/>
<path fill="#ffaf00" d="M432 410.5v5.5l-1 1v30l1 1v3l-3 -10l-1 -10l1 -10zM660 410.5l3 10.5l1 10l-1 10l-3 10v-3l1 -1v-30l-1 -1zM525 548l3 -11l2.5 -5l2.5 -3.5l2 -2l3 -2l3 -0.5l5 -0.5l5 0.5l3 0.5l3 2l2 2l2.5 3.5l2.5 5l3 11l-5 0.5l-1 1h-10l-1 1.5h-4h-4l-1 -1.5h-10l-1 -1z"/>
<path fill="#ff9f00" d="M525.5 548l3.5 -11l4 -7l2 -2l3 -2l3 -0.5l5 -0.5l5 0.5l3 0.5l3 2l2 2l4 7l3.5 11l-4.5 0.5l-1 1h-10l-1 1.5h-4h-4l-1 -1.5h-10l-1 -1z"/>
<path fill="#ff8f00" d="M526 548l3 -10l2.5 -4l2.5 -3.5l2 -2l3 -1.5l7 -0.5l7 0.5l3 1.5l2 2l2.5 3.5l2.5 4l3 10l-4 0.5l-1 1h-10l-1 1h-4h-4l-1 -1h-10l-1 -1z"/>
<path fill="#ff8000" d="M526.5 548l3.5 -10l4 -6l2 -2l3 -1.5l7 -0.5l7 0.5l3 1.5l2 2l4 6l3.5 10h-3.5l-1 1.5h-10l-1 1h-4h-4l-1 -1h-10l-1 -1.5z"/>
<path fill="#ff7000" d="M527 548l3 -8.5l4.5 -6.5l4.5 -3l7 -1l7 1l4.5 3l4.5 6.5l3 8.5h-3l-1 1.5h-10l-1 1h-4h-4l-1 -1h-10l-1 -1.5z"/>
<path fill="#ff6000" d="M527.5 548l3.5 -9l4 -5.5l5 -2.5l6 -0.5l6 0.5l5 2.5l4 5.5l3.5 9h-2.5l-1 1l-10 0.5l-1 1h-4h-4l-1 -1l-10 -0.5l-1 -1z"/>
<path fill="#ff5000" d="M528 548l3 -7.5l4 -5.5l2 -1.5l3 -1l6 -0.5l6 0.5l3 1l2 1.5l4 5.5l3 7.5h-2l-1 1l-10 0.5l-1 1h-4h-4l-1 -1l-10 -0.5l-1 -1z"/>
<path fill="#ff4000" d="M528.5 548l3.5 -8l3.5 -4l4.5 -2.5l6 -0.5l6 0.5l4.5 2.5l3.5 4l3.5 8h-1.5l-1 1l-10 0.5l-1 1h-4h-4l-1 -1l-10 -0.5l-1 -1z"/>
<path fill="#ff3000" d="M529 548l3 -6.5l4 -4.5l4 -2l6 -0.5l6 0.5l4 2l4 4.5l3 6.5h-1l-1 1l-10 0.5l-1 1h-4h-4l-1 -1l-10 -0.5l-1 -1z"/>
<path fill="#ff2000" d="M530 548l2.5 -6l3.5 -4l4 -2l6 -0.5l6 0.5l4 2l3.5 4l2.5 6l-1 1l-10 0.5l-1 1h-4h-4l-1 -1l-10 -0.5z"/>
<path fill="#ff1000" d="M530.5 548l2.5 -5l4 -4.5l4 -1.5l5 -0.5l5 0.5l4 1.5l4 4.5l2.5 5l-0.5 1l-10 0.5l-1 1h-4h-4l-1 -1l-10 -0.5z"/>
<path fill="#ff0000" d="M531 549l2 -5l4 -4l4 -1.5l5 -0.5l5 0.5l4 1.5l4 4l2 5h-10l-1 1.5h-4h-4l-1 -1.5z"/>
<path fill="#ef0000" d="M531.5 549l2.5 -5l3 -3l4 -1.5l5 -0.5l5 0.5l4 1.5l3 3l2.5 5h-9.5l-1 1.5h-4h-4l-1 -1.5z"/>
<path fill="#df0000" d="M532 549l3 -4.5l3 -2.5l3 -1.5h5h5l3 1.5l3 2.5l3 4.5h-9l-1 1.5h-4h-4l-1 -1.5z"/>
<path fill="#cf0000" d="M533 549l2 -3.5l3 -2.5l3 -1l5 -0.5l5 0.5l3 1l3 2.5l2 3.5h-8l-1 1h-4h-4l-1 -1z"/>
<path fill="#bf0000" d="M533.5 549l2.5 -3l3 -2.5l3 -0.5l4 -0.5l4 0.5l3 0.5l3 2.5l2.5 3h-7.5l-1 1h-4h-4l-1 -1z"/>
<path fill="#af0000" d="M534.5 549l2.5 -2.5l2 -1.5l3 -1h4h4l3 1l2 1.5l2.5 2.5h-6.5l-1 1h-4h-4l-1 -1z"/>
<path fill="#9f0000" d="M536 549l2 -2l2 -1l6 -1l6 1l2 1l2 2h-5l-1 1h-4h-4l-1 -1z"/>
<path fill="#8f0000" d="M537 549l4 -2l5 -0.5l5 0.5l4 2h-4l-1 1h-4h-4l-1 -1z"/>
<path fill="#800000" d="M539 549l3 -1l4 -0.5l4 0.5l3 1h-2l-1 1h-4h-4l-1 -1z"/>
</g>
<rect x="910.4" y="130.7" width="77.6" height="610" fill="#800000"/>
<rect x="910.4" y="140.23" width="77.6" height="600.47" fill="#8f0000"/>
<rect x="910.4" y="149.76" width="77.6" height="590.94" fill="#9f0000"/>
<rect x="910.4" y="159.29" width="77.6" height="581.41" fill="#af0000"/>
<rect x="910.4" y="168.83" width="77.6" height="571.88" fill="#bf0000"/>
<rect x="910.4" y="178.36" width="77.6" height="562.34" fill="#cf0000"/>
<rect x="910.4" y="187.89" width="77.6" height="552.81" fill="#df0000"/>
<rect x="910.4" y="197.42" width="77.6" height="543.28" fill="#ef0000"/>
<rect x="910.4" y="206.95" width="77.6" height="533.75" fill="#ff0000"/>
<rect x="910.4" y="216.48" width="77.6" height="524.22" fill="#ff1000"/>
<rect x="910.4" y="226.01" width="77.6" height="514.69" fill="#ff2000"/>
<rect x="910.4" y="235.54" width="77.6" height="505.16" fill="#ff3000"/>
<rect x="910.4" y="245.08" width="77.6" height="495.62" fill="#ff4000"/>
<rect x="910.4" y="254.61" width="77.6" height="486.09" fill="#ff5000"/>
<rect x="910.4" y="264.14" width="77.6" height="476.56" fill="#ff6000"/>
<rect x="910.4" y="273.67" width="77.6" height="467.03" fill="#ff7000"/>
<rect x="910.4" y="283.2" width="77.6" height="457.5" fill="#ff8000"/>
<rect x="910.4" y="292.73" width="77.6" height="447.97" fill="#ff8f00"/>
<rect x="910.4" y="302.26" width="77.6" height="438.44" fill="#ff9f00"/>
<rect x="910.4" y="311.79" width="77.6" height="428.91" fill="#ffaf00"/>
<rect x="910.4" y="321.33" width="77.6" height="419.38" fill="#ffbf00"/>
<rect x="910.4" y="330.86" width="77.6" height="409.84" fill="#ffcf00"/>
<rect x="910.4" y="340.39" width="77.6" height="400.31" fill="#ffdf00"/>
<rect x="910.4" y="349.92" width="77.6" height="390.78" fill="#ffef00"/>
<rect x="910.4" y="359.45" width="77.6" height="381.25" fill="#ffff00"/>
<rect x="910.4" y="368.98" width="77.6" height="371.72" fill="#efff10"/>
<rect x="910.4" y="378.51" width="77.6" height="362.19" fill="#dfff20"/>
<rect x="910.4" y="388.04" width="77.6" height="352.66" fill="#cfff30"/>
<rect x="910.4" y="397.58" width="77.6" height="343.12" fill="#bfff40"/>
<rect x="910.4" y="407.11" width="77.6" height="333.59" fill="#afff50"/>
<rect x="910.4" y="416.64" width="77.6" height="324.06" fill="#9fff60"/>
<rect x="910.4" y="426.17" width="77.6" height="314.53" fill="#8fff70"/>
<rect x="910.4" y="435.7" width="77.6" height="305" fill="#80ff80"/>
<rect x="910.4" y="445.23" width="77.6" height="295.47" fill="#70ff8f"/>
<rect x="910.4" y="454.76" width="77.6" height="285.94" fill="#60ff9f"/>
<rect x="910.4" y="464.29" width="77.6" height="276.41" fill="#50ffaf"/>
<rect x="910.4" y="473.83" width="77.6" height="266.88" fill="#40ffbf"/>
<rect x="910.4" y="483.36" width="77.6" height="257.34" fill="#30ffcf"/>
<rect x="910.4" y="492.89" width="77.6" height="247.81" fill="#20ffdf"/>
<rect x="910.4" y="502.42" width="77.6" height="238.28" fill="#10ffef"/>
<rect x="910.4" y="511.95" width="77.6" height="228.75" fill="#00ffff"/>
<rect x="910.4" y="521.48" width="77.6" height="219.22" fill="#00efff"/>
<rect x="910.4" y="531.01" width="77.6" height="209.69" fill="#00dfff"/>
<rect x="910.4" y="540.54" width="77.6" height="200.16" fill="#00cfff"/>
<rect x="910.4" y="550.08" width="77.6" height="190.62" fill="#00bfff"/>
<rect x="910.4" y="559.61" width="77.6" height="181.09" fill="#00afff"/>
<rect x="910.4" y="569.14" width="77.6" height="171.56" fill="#009fff"/>
<rect x="910.4" y="578.67" width="77.6" height="162.03" fill="#008fff"/>
<rect x="910.4" y="588.2" width="77.6" height="152.5" fill="#0080ff"/>
<rect x="910.4" y="597.73" width="77.6" height="142.97" fill="#0070ff"/>
<rect x="910.4" y="607.26" width="77.6" height="133.44" fill="#0060ff"/>
<rect x="910.4" y="616.79" width="77.6" height="123.91" fill="#0050ff"/>
<rect x="910.4" y="626.33" width="77.6" height="114.38" fill="#0040ff"/>
<rect x="910.4" y="635.86" width="77.6" height="104.84" fill="#0030ff"/>
<rect x="910.4" y="645.39" width="77.6" height="95.31" fill="#0020ff"/>
<rect x="910.4" y="654.92" width="77.6" height="85.78" fill="#0010ff"/>
<rect x="910.4" y="664.45" width="77.6" height="76.25" fill="#0000ff"/>
<rect x="910.4" y="673.98" width="77.6" height="66.72" fill="#0000ef"/>
<rect x="910.4" y="683.51" width="77.6" height="57.19" fill="#0000df"/>
<rect x="910.4" y="693.04" width="77.6" height="47.66" fill="#0000cf"/>
<rect x="910.4" y="702.58" width="77.6" height="38.12" fill="#0000bf"/>
<rect x="910.4" y="712.11" width="77.6" height="28.59" fill="#0000af"/>
<rect x="910.4" y="721.64" width="77.6" height="19.06" fill="#00009f"/>
<rect x="910.4" y="731.17" width="77.6" height="9.53" fill="#00008f"/>
<path d="M910.4 261.3h6M988 261.3h-6M910.4 435.6h6M988 435.6h-6M910.4 609.8h6M988 609.8h-6" stroke="#000" stroke-width="1.8" fill="none"/>
<rect x="910.4" y="130.7" width="77.6" height="610" fill="none" stroke="#000" stroke-width="2.4" stroke-linejoin="round"/>
<text x="997.55" y="282.34" font-size="55" font-family='"Liberation Sans",Arial,Helvetica,sans-serif'>2000</text>
<text x="999.17" y="456.54" font-size="55" font-family='"Liberation Sans",Arial,Helvetica,sans-serif'>0</text>
<text x="998.85" y="630.54" font-size="55" font-family='"Liberation Sans",Arial,Helvetica,sans-serif'>−2000</text>
<path d="M356.9 740.2v-6.5M356.9 130.5v6.5M547.4 740.2v-6.5M547.4 130.5v6.5M737.8 740.2v-6.5M737.8 130.5v6.5M242 168.4h6.5M852.4 168.4h-6.5M242 359.4h6.5M852.4 359.4h-6.5M242 550.1h6.5M852.4 550.1h-6.5" stroke="#000" stroke-width="1.8" fill="none"/>
<rect x="242" y="130.5" width="610.4" height="609.7" fill="none" stroke="#000" stroke-width="2.5" stroke-linejoin="round"/>
<ellipse cx="546" cy="431.6" rx="115" ry="118.5" fill="none" stroke="#000" stroke-width="3.1"/>
<path d="M242 550.3L852.4 550.3" stroke="#000" stroke-width="2.8" fill="none"/>
<text x="258.07" y="206.2" font-size="84" font-family='"DejaVu Sans","Bitstream Vera Sans",Verdana,sans-serif'>A</text>
<text x="551.97" y="194.2" font-size="54.3" font-family='"DejaVu Sans","Bitstream Vera Sans",Verdana,sans-serif'>λ=442 nm</text>
<text x="254.15" y="535.6" font-size="54" font-family='"DejaVu Sans","Bitstream Vera Sans",Verdana,sans-serif' letter-spacing="0.5">air</text>
<text x="255.3" y="600.25" font-size="54" font-family='"DejaVu Sans","Bitstream Vera Sans",Verdana,sans-serif' letter-spacing="1.6">Si</text>
<text x="838.15" y="81.3" font-size="53.4" font-family='"DejaVu Sans","Bitstream Vera Sans",Verdana,sans-serif' letter-spacing="0.5">Ey[V/m]</text>
<text transform="translate(109.2 510.6) rotate(-90)" font-size="53.3" font-family='"Liberation Sans",Arial,Helvetica,sans-serif' letter-spacing="0.8">z [nm]</text>
<text x="474" y="859.4" font-size="53.3" font-family='"Liberation Sans",Arial,Helvetica,sans-serif' letter-spacing="0.42">y [nm]</text>
<text x="169.07" y="188.54" font-size="55" font-family='"Liberation Sans",Arial,Helvetica,sans-serif'>20</text>
<text x="169.07" y="378.54" font-size="55" font-family='"Liberation Sans",Arial,Helvetica,sans-serif'>10</text>
<text x="199.7" y="569.84" font-size="55" font-family='"Liberation Sans",Arial,Helvetica,sans-serif'>0</text>
<text x="136.95" y="760.44" font-size="55" font-family='"Liberation Sans",Arial,Helvetica,sans-serif'>−10</text>
<text x="294.2" y="802" font-size="55" font-family='"Liberation Sans",Arial,Helvetica,sans-serif'>−10</text>
<text x="532.39" y="802" font-size="55" font-family='"Liberation Sans",Arial,Helvetica,sans-serif'>0</text>
<text x="707.67" y="802" font-size="55" font-family='"Liberation Sans",Arial,Helvetica,sans-serif'>10</text>
</g>
<g id="panelB">
<clipPath id="clip1357"><rect x="1357" y="129.5" width="609.6" height="609.7"/></clipPath>
<g clip-path="url(#clip1357)" shape-rendering="geometricPrecision">
<rect x="1356" y="128.5" width="611.6" height="611.7" fill="#00008f"/>
<path fill="#00009f" d="M1356 128h612v613h-612zM1652 535.5l-2.5 6.5l-0.5 7h27l0.5 -1l-0.5 -6l-1.5 -5l-2.5 -4l-4 -3.5l-4 -1.5l-5 1l-4 2.5z"/>
<path fill="#0000af" d="M1356 128h612v613h-612zM1649 539l-1 9l1 1h27l1 -1h1l-0.5 -7l-2.5 -6.5l-4 -5l-5 -2.5l-5 -0.5l-5 2l-4 4.5z"/>
<path fill="#0000bf" d="M1356 128h612v613h-612zM1648 538l-1 5l-0.5 5h1.5l1 1h27l1 -1h2l-0.5 -8l-2.5 -6.5l-4 -5l-5 -3l-3 -0.5h-3l-5 2l-5 5z"/>
<path fill="#0000cf" d="M1356 128h612v613h-612zM1646.5 538l-1 5v5h2.5l1 1h27l1 -1h3.5l-1 -8l-2.5 -7l-4.5 -6l-5.5 -3l-3 -1l-3 0.5l-3 0.5l-3 1.5l-5 5.5z"/>
<path fill="#0000df" d="M1356 128h612v613h-612zM1645.5 538l-1 5v5h3.5l1 1h27l1 -1h4.5l-0.5 -8l-3 -8l-2 -3l-3 -3.5l-3 -2l-3 -1.5l-3 -0.5l-4 0.5l-3 1l-3 1.5l-5 5.5z"/>
<path fill="#0000ef" d="M1356 128h612v613h-612zM1644.5 537l-1 5l-0.5 6h5l1 1h27l1 -1h5.5v-5l-1 -5l-3 -8l-2.5 -3l-3 -3l-6 -3.5l-3 -0.5l-4 0.5l-6 2.5l-3 2.5l-3 3.5z"/>
<path fill="#0000ff" d="M1356 128h612v613h-612zM1643.5 536l-1.5 11l1 1h5l1 1h27l1 -1h6l1 -1l-1.5 -10l-3.5 -8l-5 -6l-3 -2.5l-4 -1.5l-3 -0.5l-4 0.5l-4 1l-3 2l-3 2.5l-2.5 3.5z"/>
<path fill="#0010ff" d="M1356 128h612v613h-612zM1684 539l-1.5 -5l-2 -5l-2.5 -4l-3 -3l-4 -3l-5 -1.5l-4 -0.5l-4 0.5l-4 2l-4 3l-3 3.5l-2.5 5l-2 5l-1 5l-0.5 6h1l1 1h5l1 1h27l1 -1h6l1 -1h1z"/>
<path fill="#0020ff" d="M1356 128h612v613h-612zM1640 547h2l1 1h5l1 1h27l1 -1h6l1 -1h2l-0.5 -6l-1 -6l-2 -5l-3 -5l-3.5 -4l-4 -3l-4 -2l-4 -0.5l-5 0.5l-4 1.5l-4 2.5l-3 3l-3 4l-2.5 5l-2 6z"/>
<path fill="#0030ff" d="M1356 128h612v613h-612zM1638.5 547h3.5l1 1h5l1 1h27l1 -1h6l1 -1h3l-0.5 -7l-1.5 -6l-2 -5l-2.5 -5l-3.5 -4l-4 -3l-4 -2l-5 -1l-5 0.5l-4 1l-4 2.5l-4 4l-3.5 5l-2 5l-2 6z"/>
<path fill="#0040ff" d="M1356 128h612v613h-612zM1637.5 546l0.5 1h4l1 1h5l1 1h27l1 -1h6l1 -1h3l1 -1l-0.5 -7l-1.5 -6l-2.5 -6l-3 -5l-3.5 -4l-5 -3.5l-4 -1.5l-5 -0.5l-5 0.5l-5 2l-4 3l-3.5 4l-3.5 5l-2.5 6l-1.5 6z"/>
<path fill="#0050ff" d="M1356 128h612v613h-612zM1636.5 546l1.5 1h4l1 1h5l1 1h27l1 -1h6l1 -1h3l1 -1h1.5l-1 -7l-1.5 -7l-2.5 -6l-3 -5l-3.5 -4l-5 -3.5l-5 -2l-5 -0.5l-5 0.5l-5 2l-5 3.5l-3.5 4l-3 5l-2.5 6l-2 7z"/>
<path fill="#0060ff" d="M1356 128h612v613h-612zM1635.5 546h1.5l1 1h4l1 1h5l1 1h27l1 -1h6l1 -1h3l1 -1h2.5l-0.5 -7l-1.5 -7l-2.5 -6l-3.5 -6l-4.5 -4.5l-5 -3.5l-5 -2l-5 -1l-5 1l-5.5 2l-4.5 3l-4.5 5l-3.5 5.5l-2.5 6.5l-1.5 7z"/>
<path fill="#0070ff" d="M1356 128h612v613h-612zM1634 546h3l1 1h4l1 1h5l1 1h27l1 -1h6l1 -1h3l1 -1h3l0.5 -1l-0.5 -7l-1.5 -7l-3 -7l-3.5 -5.5l-4 -4.5l-5 -3.5l-5 -2l-6 -1l-6 1l-5 2l-5 3.5l-4.5 5l-3.5 6l-2.5 6l-1.5 7z"/>
<path fill="#0080ff" d="M1356 128h612v613h-612zM1633 545l1 1h3l1 1h4l1 1h5l1 1h27l1 -1h6l1 -1h3l1 -1h3l1 -1h1l-1 -8l-1.5 -7l-3 -7l-4 -6l-4.5 -5l-5 -3.5l-5 -2l-6 -0.5l-6 0.5l-5 2l-5 3.5l-5 5.5l-3.5 5.5l-3 7l-2 7z"/>
<path fill="#008fff" d="M1356 128h612v613h-612zM1631.5 545h1.5l1 1h3l1 1h4l1 1h5l1 1.5h27l1 -1.5h6l1 -1h3l1 -1h3l1 -1h2l-0.5 -8l-2 -8l-3 -7l-4 -6l-4.5 -5l-5 -3.5l-6 -2.5l-6 -1l-6 1l-6 2l-5 4l-5 5l-3.5 6l-3 7l-2 8z"/>
<path fill="#009fff" d="M1356 128h612v613h-612zM1630.5 544l0.5 1h2l1 1h3l1 1h4l1 1l5 0.5l1 1h27l1 -1l6 -0.5l1 -1h3l1 -1h3l1 -1h3l0.5 -1l-1 -8l-2 -8l-3 -7l-4.5 -7l-4.5 -5l-5.5 -3.5l-6 -2.5l-6 -1l-6 1l-6 2l-5.5 4l-5 5l-4 6l-3.5 8l-2 8z"/>
<path fill="#00afff" d="M1356 128h612v613h-612zM1629 544h1l1 1h2l1 1h3l1 1h4l1 1l5 0.5l1 1h27l1 -1l6 -0.5l1 -1h3l1 -1h3l1 -1h3l1 -1h1l-1 -9l-2 -8l-3 -7l-4.5 -7l-4.5 -5l-6 -4l-6 -3l-7 -1l-7 1l-6 2.5l-6 4.5l-4.5 5l-4 6l-3.5 8l-2 8z"/>
<path fill="#00bfff" d="M1356 128h612v613h-612zM1627.5 543l0.5 1h2l1 1h2l1 1h3l1 1h4l1 1l5 0.5l1 1h27l1 -1l6 -0.5l1 -1h3l1 -1h3l1 -1h3l1 -1h2l0.5 -1l-1.5 -9l-2.5 -9l-3 -7l-4.5 -7l-5 -5.5l-6 -4l-6 -2.5l-7 -1l-7 1l-6 2.5l-6 4l-5 5.5l-5 7l-3.5 8l-2 8z"/>
<path fill="#00cfff" d="M1356 128h612v613h-612zM1626 543h1l1 1h2l1 1h2l1 1h3l1 1h4l1 1.5h5l1 1h27l1 -1h6l1 -1.5h3l1 -1h3l1 -1h3l1 -1h2l1 -1h1l-1 -9l-2.5 -9l-4 -9l-4.5 -7l-6 -6l-6 -4l-6 -2l-7 -1l-7 0.5l-7 3l-6 4l-5 5.5l-4.5 7l-4 8l-2.5 9z"/>
<path fill="#00dfff" d="M1356 128h612v613h-612zM1624 542l1 1h2l1 1h2l1 1h2l1 1h3l1 1l4 0.5l1 1h5l1 1h27l1 -1h6l1 -1l3 -0.5l1 -1h3l1 -1h3l1 -1h2l1 -1h2l0.5 -1l-1 -10l-3 -9l-3.5 -8.5l-5 -7.5l-6 -6l-6 -4l-7 -2.5l-7 -1l-7 0.5l-7 3l-6 4l-6 6l-5 7.5l-4 8.5l-2.5 9z"/>
<path fill="#00efff" d="M1356 128h612v613h-612zM1622.5 541l0.5 1h1l1 1h2l1 1h2l1 1h2l1 1h3l1 1l4 0.5l1 1h5l1 1h27l1 -1h6l1 -1l3 -0.5l1 -1h3l1 -1h3l1 -1h2l1 -1h2l1 -1h1l0.5 -1l-1.5 -11l-3 -9l-3.5 -8l-5.5 -8l-5.5 -6l-6.5 -4.5l-7 -3l-8 -1l-8 1l-7 3l-6.5 4.5l-6 6l-4.5 7l-4.5 9l-2.5 10z"/>
<path fill="#00ffff" d="M1356 128h612v613h-612zM1620.5 541h1.5l3 2h2l1 1h2l1 1h2l1 1h3l1 1.5h4l1 1h5l1 1h27l1 -1h6l1 -1h3l1 -1.5h3l1 -1h3l1 -1h2l1 -1h2l3 -2h1.5l-1.5 -10l-3 -11l-4 -9l-5 -8l-7 -7l-7 -4.5l-7 -3l-8 -1l-8 1l-8 3l-7 5l-6 6.5l-5.5 8l-4 9l-2.5 10zM1660 551v3l1 1.5l2 0.5l2 -1l1 -2v-2z"/>
<path fill="#10ffef" d="M1356 128h612v613h-612zM1618 540h1l1 1h2l3 2h2l1 1h2l1 1h2l1 1l3 0.5l1 1h4l1 1h5l1 1h27l1 -1h6l1 -1h3l1 -1l3 -0.5l1 -1h3l1 -1h2l1 -1h2l3 -2h2l1 -1h1l-1.5 -11l-3.5 -11l-4.5 -10l-5 -8l-7 -7l-7.5 -5l-8 -3l-8 -1l-8 1l-8 3l-8 5.5l-6.5 6.5l-5.5 8l-4.5 10l-3 11zM1657 551l0.5 5l1.5 2.5l2 1.5h2l2 -0.5l2 -1.5l1.5 -2l0.5 -5z"/>
<path fill="#20ffdf" d="M1356 128h612v613h-612zM1615.5 538l0.5 1l3 1l1 1h2l3 2h2l1 1h2l1 1h2l1 1l3 0.5l1 1h4l1 1h5l1 1h27l1 -1h6l1 -1h3l1 -1l3 -0.5l1 -1h3l1 -1h2l1 -1h2l3 -2h2l1 -1l3 -1l0.5 -1l-2 -12l-3 -11l-4.5 -10l-6.5 -9l-6.5 -7l-8 -5.5l-8 -3l-9 -1l-9 1l-8 3l-8 5.5l-7 7l-6 9l-4.5 10l-3.5 11zM1654.5 551v4l1.5 3.5l2 2.5l3 2h3l2.5 -1l2.5 -2l1.5 -3l0.5 -3v-3z"/>
<path fill="#30ffcf" d="M1356 128h612v613h-612zM1612 537h1l3 2h1l3 2h2l3 2h2l1 1h2l1 1h2l1 1.5h3l1 1h4l1 1h5l1 1h27l1 -1h6l1 -1h3l1 -1h3l1 -1l3 -0.5l1 -1h2l1 -1h2l3 -2h2l1 -1h1l1 -1h1l1 -1l3 -1l-2 -12l-3.5 -13l-5 -11l-6.5 -9.5l-8 -8l-8 -5.5l-9 -3.5l-9 -1l-9 1l-9 3.5l-8 5l-8 8l-6 9l-5.5 11l-3.5 12zM1652.5 551l0.5 5l1 4l3 4l3 1.5l4 0.5l3 -1l3 -2.5l2 -3.5l1 -4v-4z"/>
<path fill="#40ffbf" d="M1356 128h612v613h-612zM1607.5 534l0.5 1h1l5 3h1l5 3h2l3 2h2l1 1h2l1 1l2 0.5l1 1h3l1 1h4l1 1h5l1 1h27l1 -1h6l1 -1h3l1 -1h3l1 -1l3 -0.5l1 -1h2l1 -1h2l3 -2h2l5 -3h1l5 -3h1l0.5 -1l-2.5 -14l-3.5 -13l-5.5 -12l-7 -11l-8 -8l-9 -6l-10 -4l-10 -1l-10 1l-10 3.5l-9 6l-8 8.5l-7 10l-5.5 12l-4 14zM1650.5 551l0.5 6l1.5 5l3 4l3.5 2.5l4 1l4 -1l3.5 -2.5l3 -4l1.5 -5v-6z"/>
<path fill="#50ffaf" d="M1356 128h612v613h-612zM1600.5 530h0.5l2 2l3 1l2 2h1l5 3h1l5 3h2l3 2h2l1 1h2l1 1.5h2l1 1h3l1 1h4l1 1h5l1 1h27l1 -1h6l1 -1h3l1 -1h3l1 -1h3l1 -1.5h2l1 -1h2l3 -2h2l5 -3h1l5 -3h1l2 -2h1l2 -2h1l1.5 -2l-2.5 -18l-4.5 -16l-6 -14l-7 -11l-8.5 -9l-5 -3.5l-6 -3.5l-6 -2.5l-6 -1.5l-12 -1l-12 1.5l-6 2l-6 2.5l-10 7l-8.5 9l-7.5 12l-5.5 14l-4 16zM1648.5 551v6l1.5 6l3 5l4 4l4 2l4 -0.5l4 -1.5l4 -4l2 -3.5l1.5 -4.5l1 -5l-0.5 -4z"/>
<path fill="#60ff9f" d="M1356 128h612v613h-612zM1587 455l-3 8l-1 10l2 44l7 7h1l3 3h1l3 3h1l2 2l3 1l2 2h1l5 3h1l5 3h2l3 2h2l1 1.5h2l1 1h2l1 1h3l1 1h4l1 1h5l1 1h27l1 -1h6l1 -1h3l1 -1h3l1 -1h3l1 -1h2l1 -1.5h2l3 -2h2l5 -3h1l5 -3h1l5 -4h1l5 -4h1l4 -4h1l5.5 -6l2.5 -43l-1 -9l-2 -8l-5 -8l-8 -8l-10.5 -7l-12.5 -6l-16 -5l-17 -2.5h-17l-16 2.5l-9 2.5l-8 2.5l-8 4l-7.5 4l-5.5 4l-5.5 5l-4.5 5zM1646.5 551v7l1 7l3 7l3.5 5l4 3l4 1l5 -1l4 -2.5l4 -5l3 -6.5l1.5 -8v-7z"/>
<path fill="#70ff8f" d="M1356 128h612v613h-612zM1629.5 319h2.5l1 -1l3 0.5l1 -1h3l1 -1h5l1 -1h7l1 -1h15l1 1h8l1 1h5l1 1h3l1 1l3 -0.5l1 1h2.5l-8.5 -5.5l-8 -3l-8 -2l-9 -1l-9 1l-8 2l-9 3.5zM1564 376l-2 3v1l-1 1v2l-3 5v2l-1 1v2l-1 1v2l-1 1v2l-1 1v3l-1 1v4l-1 1v4l-1 1v8l-1 1v19l1 1v7l1 1v5l1 1v3l1 1v3l1 1v3l1 1v2l1 1v2l2 3v2l1 1v1l3 5v1l3 5v1l2 2l1 3l2 2v1l3 3v1l4 4v1l14 14h1l3 3h1l3 3h1l2 2l3 1l2 2h1l5 3h1l5 3h2l3 2l2 0.5l1 1h2l1 1h2l1 1h3l1 1h4l1 1h5l1 1h27l1 -1h6l1 -1h3l1 -1h3l1 -1h3l1 -1h2l1 -1l2 -0.5l3 -2h2l5 -3h1l5 -3h1l5 -4h1l5 -4h1l4 -4h1l12 -12v-1l4 -4v-1l3 -3v-1l2 -2v-1l2 -2l1 -3l2 -2v-1l2 -3v-1l3 -5v-2l2 -3v-2l1 -1v-2l1 -1v-2l1 -1v-2l1 -1v-3l1 -1v-4l1 -1v-5l1 -1v-9l1 -1v-13l-1 -1v-9l-1 -1v-5l-1 -1v-4l-1 -1v-3l-1 -1v-2l-1 -1v-3l-2 -3v-2l-1 -1v-2l-1 -1v-1l-1 -1v-1l-1 -1v-1l-1 -1l-1 -3l-27 -2l-45 -4l-27 -1.5l-26 1l-48 4.5zM1643.5 551v10l1 13l1.5 6l3 5l5 4l3 1.5l4 1l7 -1l4 -1.5l3 -2l3.5 -5l2 -6l2 -14l-0.5 -11z"/>
<path fill="#80ff80" d="M1356 128h612v613h-612zM1655 257.5l-9 1l-8 2l-8 3l-8 4l-8 5l-7.5 5.5l-7.5 7.5l-4 5.5l-2.5 5l-1.5 5l-2 13v13l3 13l-4 4h-1l-5.5 6v1l-6 6v1l-3 3v1l-3 3l-1 3l-2 2v1l-1 1v1l-2 2l-1 3l-2 3v2l-3 5v2l-1 1v2l-1 1v2l-1 1v2l-1 1v3l-1 1v4l-1 1v4l-1 1l0.5 8l-1 1v19l1 1v7l1 1v5l1 1v3l1 1v3l1 1v3l1 1v2l1 1v2l2 3v2l1 1v1l3 5v1l3 5v1l2 2l1 3l2 2v1l3 3v1l4 4v1l14 14h1l7 6h1l2 2l3 1l2 2h1l5 3h1l5 3h2l3 2.5h2l1 1h2l1 1h2l1 1h3l1 1h4l1 1h5l1 1h27l1 -1h6l1 -1h3l1 -1h3l1 -1h3l1 -1h2l1 -1h2l3 -2.5h2l5 -3h1l5 -3h1l5 -4h1l5 -4h1l4 -4h1l12 -12v-1l4 -4v-1l3 -3v-1l2 -2v-1l2 -2l1 -3l2 -2v-1l2 -3v-1l3 -5v-2l2 -3v-2l1 -1v-2l1 -1v-2l1 -1v-2l1 -1v-3l1 -1v-4l1 -1v-5l1 -1v-9l1 -1v-13l-1 -1l0.5 -9l-1 -1v-5l-1 -1v-4l-1 -1v-3l-1 -1v-2l-1 -1v-3l-2 -3v-2l-1 -1v-2l-3 -5v-1l-2 -3v-1l-1 -1l-1 -3l-2 -2l-1 -3l-2 -2v-1l-2 -2v-1l-4 -4v-1l-15.5 -16l3 -14v-14l-1 -7l-1.5 -6l-2 -5l-3 -5l-7 -8l-8.5 -7l-9 -6l-9 -4.5l-9 -3l-10 -2.5l-9 -0.5zM1640 551l-2 13.5l-3 12.5l-0.5 5l0.5 4l1.5 4l4.5 6l5 4l5 2l6 1.5l7 0.5l6 -0.5l6 -2l5 -2.5l5 -4l4 -6l1.5 -7l-0.5 -5l-3 -13l-2 -13z"/>
<path fill="#8fff70" d="M1360.5 444v-4l1.5 -4l5.5 -10l11 -14l12.5 -13l12 -10l14 -10l15 -8.5l14 -6l14 -4.5l14 -3.5l15 -2l16 -0.5l17 0.5l17 2l17 3l14 4l-1 1.5v1l-1 1v1l-2 2l-1 3l-2 2l-1 3l-1.5 3v2l-3 5v2l-1 1v2l-1 1v2l-1 1v2l-1 1v3l-1 1v4l-1 1v4l-1 1v8l-1 1v19l1 1v7l1 1v5l1 1v3l1.5 1v3l1 1v3l1 1v2l1 1v2l2 3v2l1 1v1l3 5v1l3 5v1l2 2l1 3l2 2v1l3 3v1l4 4v1l14 14h1l7 6h1l2 2l3 1l2 2h1l5 3h1l5 3.5h2l3 2h2l1 1h2l1 1h2l1 1h3l1 1h4l1 1h5l1 1h27l1 -1h6l1 -1h3l1 -1h3l1 -1h3l1 -1h2l1 -1h2l3 -2l2 -0.5l5 -3h1l5 -3h1l5 -4h1l5 -4h1l4 -4h1l12 -12v-1l4 -4v-1l3 -3v-1l2 -2v-1l2 -2l1 -3l2 -2v-1l2 -3v-1l3 -5v-2l2 -3v-2l1 -1v-2l1 -1v-2l1 -1v-2l1 -1v-3l1.5 -1v-4l1 -1v-5l1 -1v-9l1 -1v-13l-1 -1v-9l-1 -1v-5l-1 -1v-4l-1 -1v-3l-1 -1v-2l-1 -1v-3l-2 -3v-2l-1 -1v-2l-3 -5l0.5 -1l-1 -1v-1l-3 -5v-1l-2 -2l-1 -3l-2 -2v-1.5l14 -4l17 -3l17 -2l17 -0.5l16 0.5l15 2l14 3.5l14 4.5l14.5 6.5l14.5 8l13 9l13 11l12.5 13l10.5 14l6 10l1 4l0.5 4l-0.5 6l-2 6l-11.5 25l-7.5 10l-21 22.5l-4.5 5.5l-3.5 6l-4 9l-3.5 16l-99.5 1l-1 6l-3.5 6l-5.5 5l-8 4.5l-10 4l-11 3l-13 2l-13 0.5l-10 -0.5l-9 -1l-7 -2l-6 -3l-6 -4.5l-6 -7l-3.5 -6l-2.5 -7h-60.5l-2 7l-3.5 6l-6 7l-6 4.5l-6 3l-7 2l-9 1l-11 0.5l-13 -0.5l-12 -2l-11 -3l-10 -4l-8 -4.5l-5.5 -5l-3.5 -6l-1 -6l-100 -1l-3.5 -16l-3.5 -9l-8 -11.5l-21 -22.5l-7.5 -10l-11.5 -25l-2 -6z"/>
<path fill="#9fff60" d="M1472.5 443l2 -5l2.5 -4l8 -10l10 -10l12 -9l12 -7l13 -6l13 -3.5l13 -2.5v1l-1 1v2l-1 1v2l-1 1v2l-1 1v2l-1 1v3l-0.5 1v4l-1 1v4l-1 1v8l-1 1v19l1 1v7l1 1v5l1 1v3l1 1v3l1 1v3l1 1v2l1 1v2l2 3v2l1 1v1l3.5 5v1l3 5v1l2 2l1 3l2 2v1l3 3v1l4 4v1l14 14h1l3 3h1l3 3h1l2 2l3 1l2 2h1l5 3h1l5 3.5h2l3 2h2l1 1h2l1 1h2l1 1h3l1 1h4l1 1h5l1 1h27l1 -1h6l1 -1h3l1 -1h3l1 -1h3l1 -1h2l1 -1h2l3 -2h2l5 -3.5h1l5 -3h1l5 -4h1l5 -4h1l4 -4h1l12 -12v-1l4 -4v-1l3 -3v-1l2 -2v-1l2 -2l1 -3l2 -2v-1l2 -3v-1l3.5 -5v-2l2 -3v-2l1 -1v-2l1 -1v-2l1 -1v-2l1 -1v-3l1 -1v-4l1 -1v-5l1 -1v-9l1 -1v-13l-1 -1v-9l-1 -1v-5l-1 -1v-4l-1 -1l0.5 -3l-1 -1v-2l-1 -1v-3l-2 -3v-2l-1 -1v-1.5l17 3l15 5l9 4.5l8 5l7.5 5l7.5 6l11.5 12l5 6l2.5 5l2 5l1 5l1 15l-2 11l-9 26l-5 29l-2.5 10l-4 11l-61 1v3l-1 2l-3 3l-3.5 2l-9 3l-12 1.5l-12 -1.5l-8.5 -3l-3.5 -2l-2.5 -3l-1.5 -3v-2h-104l-0.5 3l-1.5 3l-3 2.5l-4 2l-10 3l-12 0.5l-10 -1l-9 -3.5l-3 -2l-2.5 -2.5l-1 -2l-0.5 -3l-61 -1l-3.5 -11l-3 -11l-5 -29l-8 -23l-2 -8l-1 -6l0.5 -7z"/>
<path fill="#afff50" d="M1505 446l2.5 -6l4 -6l5 -6l6.5 -6.5l7 -6l7 -5l8 -4.5l8 -4v1l-1 1v4l-1 1v4l-1 1l0.5 8l-1 1v19l1 1v7l1 1v5l1 1v3l1 1v3l1 1v3l1 1v2l1 1v2l2 3v2l1 1v1l3 5v1l3 5v1l2 2l1 3l2 2v1l3 3v1l4.5 4v1l14 14h1l3 3h1l3 3h1l2 2l3 1l2 2h1l5 3.5h1l5 3h2l3 2h2l1 1h2l1 1h2l1 1h3l1 1h4l1 1h5l1 1h27l1 -1h6l1 -1h3l1 -1h3l1 -1h3l1 -1h2l1 -1h2l3 -2h2l5 -3h1l5 -3.5h1l5 -4h1l5 -4h1l4 -4h1l12 -12v-1l4.5 -4v-1l3 -3v-1l2 -2v-1l2 -2l1 -3l2 -2v-1l2 -3v-1l3 -5v-2l2 -3v-2l1 -1v-2l1 -1v-2l1 -1v-2l1 -1v-3l1 -1v-4l1 -1v-5l1 -1v-9l1 -1v-13l-1 -1l0.5 -9l-1 -1v-5l-1 -1v-4l-1 -1v-2l11.5 6l10.5 7l10 8.5l8.5 9.5l5 7l3 8l2.5 10v9l-4 25.5l-2 15.5l-2 11l-4.5 16l-6.5 15l-74 1h-155l-55 -1l-4.5 -10l-4 -10l-3 -11l-2 -11l-1.5 -15l-3.5 -19l-1 -9l0.5 -8z"/>
<path fill="#bfff40" d="M1520.5 452l4 -10l5.5 -8l9.5 -10l10.5 -8.5v6.5l-1 1l0.5 19l1 1v7l1 1v5l1 1v3l1 1v3l1 1v3l1 1v2l1 1v2l2 3v2l1 1v1l3 5v1l3 5v1l2 2l1 3l2 2v1l3 3v1l4 4v1l14.5 14.5h1l3 3h1l3 3h1l2 2l3 1l2 2h1l5 3h1l5 3h2l3 2h2l1 1h2l1 1h2l1 1h3l1 1h4l1 1h5l1 1h27l1 -1h6l1 -1h3l1 -1h3l1 -1h3l1 -1h2l1 -1h2l3 -2h2l5 -3h1l5 -3h1l5 -4h1l5 -4h1l4 -4h1l12.5 -12.5v-1l4 -4v-1l3 -3v-1l2 -2v-1l2 -2l1 -3l2 -2v-1l2 -3v-1l3 -5v-2l2 -3v-2l1 -1v-2l1 -1v-2l1 -1v-2l1 -1v-3l1 -1v-4l1 -1v-5l1 -1v-9l1 -1l0.5 -13l-1 -1v-9l10.5 8l9 10l6 9l4.5 11l1.5 8l0.5 10l-2.5 26l-2 12l-2.5 11l-4 11l-4.5 10l-4.5 8l-37 0.5l-166 0.5l-47 -1l-5 -8l-4.5 -11l-4 -12l-3 -12l-1.5 -10l-2 -28l0.5 -9z"/>
<path fill="#cfff30" d="M1530.5 455l2.5 -7l4 -7l5.5 -7l6.5 -7v15l1 1l0.5 7l1 1v5l1 1v3l1 1v3l1 1v3l1 1v2l1 1v2l2 3v2l1 1v1l3 5v1l3 5v1l2 2l1 3l2 2v1l3 3v1l4 4v1l14.5 14.5h1l3 3h1l3 3h1l2 2l3 1l2 2h1l5 3h1l5 3h2l3 2h2l1 1h2l1 1h2l1 1h3l1 1h4l1 1h5l1 1h27l1 -1h6l1 -1h3l1 -1h3l1 -1h3l1 -1h2l1 -1h2l3 -2h2l5 -3h1l5 -3h1l5 -4h1l5 -4h1l4 -4h1l12.5 -12.5v-1l4 -4v-1l3 -3v-1l2 -2v-1l2 -2l1 -3l2 -2v-1l2 -3v-1l3 -5v-2l2 -3v-2l1 -1v-2l1 -1v-2l1 -1v-2l1 -1v-3l1 -1v-4l1 -1v-5l1 -1l0.5 -9l1 -1v-12l7 8l5.5 7l4 8l2.5 7l1 8l0.5 9l-1 18l-1.5 11l-3 14l-5.5 14l-5 10l-6.5 9l-81 1l-98 -0.5l-45 -0.5l-6 -8l-5.5 -10l-5 -13l-3 -12l-2 -13l-1 -20v-10z"/>
<path fill="#dfff20" d="M1537.5 459l1.5 -6l2.5 -5l3.5 -6l4 -5.5v5.5l1 1v7l1 1v5l1.5 1v3l1 1v3l1 1v3l1 1v2l1 1v2l2 3v2l1 1v1l3 5v1l3 5v1l2 2l1 3l2 2v1l3 3v1l4 4v1l14.5 14.5h1l7 6h1l2 2l3 1l2 2h1l5 3h1l5 3h2l3 2h2l1 1h2l1 1h2l1 1h3l1 1h4l1 1h5l1 1h27l1 -1h6l1 -1h3l1 -1h3l1 -1h3l1 -1h2l1 -1h2l3 -2h2l5 -3h1l5 -3h1l5 -4h1l5 -4h1l4 -4h1l12.5 -12.5v-1l4 -4v-1l3 -3v-1l2 -2v-1l2 -2l1 -3l2 -2v-1l2 -3v-1l3 -5v-2l2 -3v-2l1 -1v-2l1 -1v-2l1 -1v-2l1 -1v-3l1 -1v-4l1.5 -1v-5l1 -1v-9l1 -1v-2l4.5 6l3.5 6l2.5 6l1.5 6l1 7v8v13l-1 9l-3.5 15l-6 16l-6.5 11l-8.5 10l-44.5 0.5l-86 0.5l-73 -1l-7 -8l-5 -8l-5.5 -12l-4 -13l-2.5 -12l-1 -11v-16z"/>
<path fill="#efff10" d="M1542 464l3.5 -11l4.5 -9v6l1 1v5l1 1v3l1 1v3l1.5 1v3l1 1v2l1 1v2l2 3v2l1 1v1l3 5v1l3 5v1l2 2l1 3l2 2v1l3 3v1l4 4v1l14.5 14.5h1l7 6h1l2 2l3 1l2 2h1l5 3h1l5 3h2l3 2h2l1 1h2l1 1h2l1 1h3l1 1h4l1 1h5l1 1h27l1 -1h6l1 -1h3l1 -1h3l1 -1h3l1 -1h2l1 -1h2l3 -2h2l5 -3h1l5 -3h1l5 -4h1l5 -4h1l4 -4h1l12.5 -12.5v-1l4 -4v-1l3 -3v-1l2 -2v-1l2 -2l1 -3l2 -2v-1l2 -3v-1l3 -5v-2l2 -3v-2l1 -1v-2l1 -1v-2l1 -1v-2l1.5 -1v-3l1 -1v-4l1 -1v-5l1 -1v-4.5l4.5 8.5l3 11l1 12l-0.5 16l-1.5 8l-2 9l-3 9l-4 9l-3 6l-4 6l-5 6l-5 5l-66.5 0.5h-77l-43.5 -0.5l-8 -8l-5.5 -8l-5 -10l-4.5 -12l-3.5 -12l-1.5 -11l-0.5 -14z"/>
<path fill="#ffff00" d="M1546.5 468l1.5 -9l3 -7.5v4.5l1 1v3l1 1v3l1 1v3l1 1v2l1 1v2l2.5 3v2l1 1v1l3 5v1l3 5v1l2 2l1 3l2 2v1l3 3v1l4 4v1l14.5 14.5h1l7 6h1l2 2l3 1l2 2h1l5 3h1l5 3h2l3 2h2l1 1h2l1 1h2l1 1h3l1 1h4l1 1h5l1 1h27l1 -1h6l1 -1h3l1 -1h3l1 -1h3l1 -1h2l1 -1h2l3 -2h2l5 -3h1l5 -3h1l5 -4h1l5 -4h1l4 -4h1l12.5 -12.5v-1l4 -4v-1l3 -3v-1l2 -2v-1l2 -2l1 -3l2 -2v-1l2 -3v-1l3 -5v-2l2 -3v-2l1.5 -1v-2l1 -1v-2l1 -1v-2l1 -1v-3l1 -1v-4l1 -1v-3l3 8l1.5 8l0.5 9v11l-1.5 9l-2 9l-4 11l-4 9l-4 7l-4 6l-5.5 6l-5.5 5l-60.5 0.5h-70l-42.5 -0.5l-7.5 -7l-6.5 -8l-5.5 -9l-4.5 -11l-4 -12l-2 -12l-1 -12z"/>
<path fill="#ffef00" d="M1549.5 472l1 -7l1.5 -5.5l1 1.5v3l1 1v3l1 1v2l1 1v2l2 3v2l1 1v1l1.5 1v1l2 3v1l3 5v1l2 2l1 3l2 2v1l3 3v1l4 4v1l14.5 14.5h1l3 3h1l3 3h1l2 2l3 1l2 2h1l5 3h1l5 3h2l3 2h2l1 1h2l1 1h2l1 1h3l1 1h4l1 1h5l1 1h27l1 -1h6l1 -1h3l1 -1h3l1 -1h3l1 -1h2l1 -1h2l3 -2h2l5 -3h1l5 -3h1l5 -4h1l5 -4h1l4 -4h1l12.5 -12.5v-1l4 -4v-1l3 -3v-1l2 -2v-1l2 -2l1 -3l2 -2v-1l2 -3v-1l2 -3v-1l1.5 -1v-2l2 -3v-2l1 -1v-2l1 -1v-2l1 -1v-2l1 -1v-3l1 -1l2 11l0.5 12l-1 9l-2 10l-3.5 11l-4.5 10l-4 7l-4.5 7l-6.5 7l-7 6l-105.5 0.5l-56 -0.5l-7.5 -7l-7 -8l-5 -8l-5 -10l-4 -12l-2.5 -11l-1.5 -11z"/>
<path fill="#ffdf00" d="M1553 474l1 -9v3l1 1v2l1 1v2l2 3v2l1 1v1l1 1v1l2 3v1l1 1v1l2.5 3v1l2 2l1 3l2 2v1l3 3v1l4 4v1l14.5 14.5h1l3 3h1l3 3h1l2 2l3 1l2 2h1l5 3h1l5 3h2l3 2h2l1 1h2l1 1h2l1 1h3l1 1h4l1 1h5l1 1h27l1 -1h6l1 -1h3l1 -1h3l1 -1h3l1 -1h2l1 -1h2l3 -2h2l5 -3h1l5 -3h1l5 -4h1l5 -4h1l4 -4h1l12.5 -12.5v-1l4 -4v-1l3 -3v-1l2 -2v-1l2 -2l1 -3l2 -2v-1l2.5 -3v-1l2 -3v-1l1 -1v-2l2 -3v-2l1 -1v-2l1 -1v-2l1 -1v-1.5l1 7.5v8l-1 10l-2.5 11l-3 10l-5 11l-4.5 8l-5.5 7l-6 6l-7 6l-99.5 0.5l-51.5 -0.5l-8.5 -7l-6.5 -7l-5.5 -8l-4.5 -9l-5 -12l-3 -12l-1.5 -11z"/>
<path fill="#ffcf00" d="M1770.5 476l-1 14l-4 15l-6 15l-7 12l-8.5 9.5l-10.5 8.5l-18.5 0.5h-79l-44 -0.5l-7.5 -6l-7 -7l-5.5 -7l-5 -8l-4.5 -11l-4 -11l-2 -11l-1 -10l0.5 -7v2l2 3v2l1 1v1l1 1v1l2 3v1l1 1v1l2 3v1l2 2l1 3l2.5 2v1l3 3v1l4 4v1l14.5 14.5h1l7 6h1l2 2l3 1l2 2h1l5 3h1l5 3h2l3 2h2l1 1h2l1 1h2l1 1h3l1 1h4l1 1h5l1 1h27l1 -1h6l1 -1h3l1 -1h3l1 -1h3l1 -1h2l1 -1h2l3 -2h2l5 -3h1l5 -3h1l5 -4h1l5 -4h1l4 -4h1l12.5 -12.5v-1l4 -4v-1l3 -3v-1l2 -2v-1l2.5 -2l1 -3l2 -2v-1l2 -3v-1l2 -3v-1l1 -1v-2l2 -3v-2l1 -1v-2z"/>
<path fill="#ffbf00" d="M1768 479l-1 8l-1.5 9l-3 9l-3 9l-4 8l-4 7l-5 6l-5.5 6l-11.5 9l-38.5 0.5l-94.5 -0.5l-7.5 -5.5l-7 -6.5l-6 -7l-5 -8l-5.5 -11l-3.5 -11l-3 -11l-1 -10h1v1l1 1v1l1 1v1l1 1v1l1 1v1l2 3v1l2 2l1 3l2 2v1l3.5 3l-0.5 1l4.5 4v1l14.5 14.5h1l7 6h1l2 2l3 1l2 2h1l3 2h1l1 1h1l3 2h1l1 1h2l3 2h2l1 1h2l1 1h2l1 1h3l1 1h4l1 1h5l1 1h27l1 -1h6l1 -1h3l1 -1h3l1 -1h3l1 -1h2l1 -1h2l3 -2h2l1 -1h1l3 -2h1l1 -1h1l3 -2h1l5 -4h1l5 -4h1l4 -4h1l12.5 -12.5v-1l4 -4v-1l3.5 -3v-1l2 -2v-1l2 -2l1 -3l2 -2v-1l2 -3v-1l2 -3v-1l1 -1v-2z"/>
<path fill="#ffaf00" d="M1560.5 484l1.5 2v1l1 1v1l1 1v1l1 1v1l2 2l1 3l2 2v1l3 3v1l4 4v1l15 14.5h1l3 3h1l3 3h1l2 2l3 1l2 2h1l3 2h1l1 1h1l3 2h1l1 1h2l3 2h2l1 1h2l1 1h2l1 1h3l1 1h4l1 1h5l1 1h27l1 -1h6l1 -1h3l1 -1h3l1 -1h3l1 -1h2l1 -1h2l3 -2h2l1 -1h1l3 -2h1l1 -1h1l3 -2h1l5 -4h1l5 -4h1l4 -4h1l13 -12.5l-0.5 -1l4.5 -4v-1l3 -3v-1l2 -2v-1l2 -2l1 -3l2 -2v-1l2 -3v-1h1l-2 10l-3 10l-4.5 10l-4.5 9l-5 7l-6 7l-7 6l-7.5 5l-98.5 0.5l-26.5 -0.5l-8.5 -6l-7 -6l-8 -10l-7.5 -13l-6 -16z"/>
<path fill="#ff9f00" d="M1564 492h1v1l2 2l1 3l2 2v1l3 3v1l4 4v1l15 14.5h1l3 3h1l3 3h1l2 2l3 1l2 2h1l3 2h1l1 1h1l3 2h1l1 1h2l3 2h2l1 1h2l1 1h2l1 1h3l1 1h4l1 1h5l1 1h27l1 -1h6l1 -1h3l1 -1h3l1 -1h3l1 -1h2l1 -1h2l3 -2h2l1 -1h1l3 -2h1l1 -1h1l3 -2h1l5 -4h1l5 -4h1l4 -4h1l13 -12.5v-1l4 -4v-1l3 -3v-1l2 -2v-1l2 -2l1 -3l1 -1h0.5l-5 17l-7.5 15l-8 11l-11 9.5l-8 5.5l-39 0.5l-79 -0.5l-7 -4.5l-7 -5.5l-6 -6l-5.5 -7l-4 -7l-4 -9l-4 -10z"/>
<path fill="#ff8f00" d="M1758.5 497l-5 14l-6 12l-6.5 9l-8 8l-7 5.5l-7.5 4.5l-21.5 0.5l-89.5 -0.5l-7.5 -4.5l-6 -4.5l-5.5 -5l-5 -6l-4.5 -6l-4 -7l-3.5 -9l-3.5 -9h1l1 1v1l3 3v1l4 4v1l15 14.5h1l3 3h1l3 3h1l2 2l3 1l2 2h1l3 2h1l1 1h1l3 2h1l1 1h2l3 2h2l1 1h2l1 1h2l1 1h3l1 1h4l1 1h5l1 1.5h27l1 -1.5h6l1 -1h3l1 -1h3l1 -1h3l1 -1h2l1 -1h2l3 -2h2l1 -1h1l3 -2h1l1 -1h1l3 -2h1l5 -4h1l5 -4h1l4 -4h1l13 -12.5v-1l4 -4v-1l3 -3v-1l2 -2v-1z"/>
<path fill="#ff8000" d="M1571.5 503l1.5 1v1l4 4v1l15 15l1 -0.5l7 6h1l2 2l3 1l2 2h1l3 2h1l1 1h1l3 2h1l1 1h2l3 2h2l1 1h2l1 1h2l1 1h3l1 1h4l1 1.5h5l1 1h27l1 -1h6l1 -1.5h3l1 -1h3l1 -1h3l1 -1h2l1 -1h2l3 -2h2l1 -1h1l3 -2h1l1 -1h1l3 -2h1l5 -4h1l5 -4h1l4 -4l1 0.5l13 -13v-1l4 -4v-1l2.5 -2l-6 14l-6.5 11l-9 9.5l-11 8.5l-7 4l-34 0.5l-70.5 -0.5l-7 -4l-6.5 -4.5l-6 -5.5l-4.5 -5l-4.5 -6l-3.5 -6z"/>
<path fill="#ff7000" d="M1575 508h1l1 1v1l15 15h1l7 5.5h1l2 2l3 1l2 2h1l3 2h1l1 1h1l3 2h1l1 1h2l3 2h2l1 1h2l1 1h2l1 1h3l1 1.5h4l1 1h5l1 1h27l1 -1h6l1 -1h3l1 -1.5h3l1 -1h3l1 -1h2l1 -1h2l3 -2h2l1 -1h1l3 -2h1l1 -1h1l3 -2h1l5 -4h1l5 -4l1 0.5l4 -4h1l13 -13v-1l2 -2h0.5l-6 13l-6.5 9l-9 9l-10 7.5l-7 3.5l-32 0.5l-66.5 -0.5l-12.5 -7.5l-11 -10l-8 -10.5z"/>
<path fill="#ff6000" d="M1578.5 512l13.5 13h1l7 6h1l2 2l3 0.5l2 2h1l3 2h1l1 1h1l3 2h1l1 1h2l3 2h2l1 1h2l1 1.5l2 -0.5l1 1.5h3l1 1h4l1 1h5l1 1h27l1 -1h6l1 -1h3l1 -1h3l1 -1.5l3 0.5l1 -1.5h2l1 -1h2l3 -2h2l1 -1h1l3 -2h1l1 -1h1l3 -2h1l5 -4l1 0.5l5 -4h1l4 -4h1l11 -11h1l-6 11l-8.5 10l-11 9l-12 7l-70.5 0.5l-22.5 -0.5l-9.5 -5l-9 -6.5l-8 -8l-6 -8.5z"/>
<path fill="#ff5000" d="M1582 516h1l9 9h1l7 6h1l2 2l3 1l2 2h1l3 2l1 -0.5l1 1.5l1 -0.5l3 2.5l1 -0.5l1 1.5l2 -0.5l3 2.5h2l1 1h2l1 1h2l1 1h3l1 1h4l1 1h5l1 1h27l1 -1h6l1 -1h3l1 -1h3l1 -1h3l1 -1h2l1 -1h2l3 -2.5l2 0.5l1 -1.5l1 0.5l3 -2.5l1 0.5l1 -1.5l1 0.5l3 -2h1l5 -4h1l5 -4h1l4 -4h1l8 -8h1l-6.5 10l-8.5 9.5l-10 8l-12.5 6.5l-58.5 0.5l-28.5 -0.5l-5.5 -2.5l-10 -6l-9 -7.5l-7 -8z"/>
<path fill="#ff4000" d="M1585 519h1l6 6h1l3 3h1l3 3h1l2 2l3 1l2 2h1l3 2h1l1 1h1l3 2h1l1 1h2l3 2h2l1 1h2l1 1h2l1 1h3l1 1h4l1 1h5l1 1h27l1 -1h6l1 -1h3l1 -1h3l1 -1h3l1 -1h2l1 -1h2l3 -2h2l1 -1h1l3 -2h1l1 -1h1l3 -2h1l5 -4h1l5 -4h1l4 -4h1l5 -5h0.5l-5.5 8.5l-7.5 7.5l-8.5 7l-10 5.5l-5 2.5l-28 0.5l-54 -0.5l-11 -5.5l-10.5 -7.5l-8.5 -8.5z"/>
<path fill="#ff3000" d="M1589 523h1l2 2h1l3 3h1l3 3h1l2 2l3 1l2 2h1l3 2h1l1 1h1l3 2h1l1 1h2l3 2h2l1 1h2l1 1h2l1 1h3l1 1h4l1 1h5l1 1h27l1 -1h6l1 -1h3l1 -1h3l1 -1h3l1 -1h2l1 -1h2l3 -2h2l1 -1h1l3 -2h1l1 -1h1l3 -2h1l5 -4h1l5 -4h1l4 -4h2l-7 8l-8 7l-9 6l-11 5h-60h-16.5l-9.5 -4.5l-7 -4l-7 -5.5l-6.5 -6z"/>
<path fill="#ff2000" d="M1592 525h1l3 3h1l3 3h1l2 2l3 1l2 2h1l3 2h1l1 1h1l3 2h1l1 1h2l3 2h2l1 1h2l1 1h2l1 1h3l1 1h4l1 1h5l1 1h27l1 -1h6l1 -1h3l1 -1h3l1 -1h3l1 -1h2l1 -1h2l3 -2h2l1 -1h1l3 -2h1l1 -1h1l3 -2h1l2 -2h1l2 -2h1l2 -2h1l2 -2h1l3 -3h1l-7 7.5l-8 7l-8 5l-12.5 5.5h-26.5h-45l-11 -5l-9 -5.5l-8 -6.5z"/>
<path fill="#ff1000" d="M1596 528h1l3 3h1l2 2l3 1l2 2h1l3 2h1l1 1h1l3 2h1l1 1h2l3 2h2l1 1h2l1 1h2l1 1h3l1 1h4l1 1h5l1 1h27l1 -1h6l1 -1h3l1 -1h3l1 -1h3l1 -1h2l1 -1h2l3 -2h2l1 -1h1l3 -2h1l1 -1h1l3 -2h1l2 -2h1l2 -2h1l2 -2h1l2 -2h1l-7 7l-8 6l-8 4.5l-10 4l-28 0.5h-39.5l-10.5 -4.5l-8 -4.5l-8 -6z"/>
<path fill="#ff0000" d="M1724.5 532l-10 8l-11.5 6.5l-9.5 3.5h-9.5h-51.5l-8.5 -3l-9 -4.5l-6.5 -4.5l-6.5 -5h2l1 1h1l2 2h1l3 2h1l1 1h1l3 2h1l1 1h2l3 2h2l1 1h2l1 1h2l1 1h3l1 1h4l1 1h5l1 1h27l1 -1h6l1 -1h3l1 -1h3l1 -1h3l1 -1h2l1 -1h2l3 -2h2l1 -1h1l3 -2h1l1 -1h1l3 -2h1l5 -4z"/>
<path fill="#ef0000" d="M1604.5 534h1.5l1 1v1zM1607 536h2l3 2h1l1 1h1l1 1h1l1 1h1l1 1h2l3 2h2l1 1h2l1 1h2l1 1h3l1 1h4l1 1h5l1 1h27l1 -1h6l1 -1h3l1 -1h3l1 -1h3l1 -1h2l1 -1h2l3 -2h2l1 -1h1l1 -1h1l1 -1h1l1 -1h1l3 -2h1.5l-11.5 7.5l-9 4l-7 2.5h-28h-28l-8 -3l-8 -3.5l-6 -3.5z"/>
<path fill="#df0000" d="M1611 538h2l3 2h1l1 1h1l1 1h2l3 2h2l1 1h2l1 1h2l1 1h3l1 1h4l1 1h5l1 1h27l1 -1h6l1 -1h3l1 -1h3l1 -1h3l1 -1h2l1 -1h2l3 -2h2l1 -1h1l1 -1h1l3 -2h1.5l-5.5 3.5l-8 4l-13 4.5h-25h-25l-14 -5l-7 -3.5z"/>
<path fill="#cf0000" d="M1619.5 542h2.5l3 2h2l1 1h2l1 1h2l1 1h3l1 1h4l1 1h5l1 1h27l1 -1h6l1 -1h3l1 -1h3l1 -1h3l1 -1h2l1 -1h2l3 -2h2.5l-10.5 4.5l-11 3.5h-22h-22l-11 -3z"/>
<path fill="#bf0000" d="M1627.5 545h2.5l1 1h2l1 1h3l1 1h4l1 1h5l1 1h27l1 -1h6l1 -1h3l1 -1h3l1 -1h4l-8 2.5l-7 1.5h-36l-9 -2z"/>
<path fill="#af0000" d="M1638 548h4v1zM1684 549v-1h3.5zM1642.5 549h5.5v1zM1677 550v-1h6z"/>
</g>
<rect x="2025.6" y="129.6" width="77" height="610.1" fill="#800000"/>
<rect x="2025.6" y="139.13" width="77" height="600.57" fill="#8f0000"/>
<rect x="2025.6" y="148.67" width="77" height="591.03" fill="#9f0000"/>
<rect x="2025.6" y="158.2" width="77" height="581.5" fill="#af0000"/>
<rect x="2025.6" y="167.73" width="77" height="571.97" fill="#bf0000"/>
<rect x="2025.6" y="177.26" width="77" height="562.44" fill="#cf0000"/>
<rect x="2025.6" y="186.8" width="77" height="552.9" fill="#df0000"/>
<rect x="2025.6" y="196.33" width="77" height="543.37" fill="#ef0000"/>
<rect x="2025.6" y="205.86" width="77" height="533.84" fill="#ff0000"/>
<rect x="2025.6" y="215.4" width="77" height="524.3" fill="#ff1000"/>
<rect x="2025.6" y="224.93" width="77" height="514.77" fill="#ff2000"/>
<rect x="2025.6" y="234.46" width="77" height="505.24" fill="#ff3000"/>
<rect x="2025.6" y="243.99" width="77" height="495.71" fill="#ff4000"/>
<rect x="2025.6" y="253.53" width="77" height="486.17" fill="#ff5000"/>
<rect x="2025.6" y="263.06" width="77" height="476.64" fill="#ff6000"/>
<rect x="2025.6" y="272.59" width="77" height="467.11" fill="#ff7000"/>
<rect x="2025.6" y="282.12" width="77" height="457.58" fill="#ff8000"/>
<rect x="2025.6" y="291.66" width="77" height="448.04" fill="#ff8f00"/>
<rect x="2025.6" y="301.19" width="77" height="438.51" fill="#ff9f00"/>
<rect x="2025.6" y="310.72" width="77" height="428.98" fill="#ffaf00"/>
<rect x="2025.6" y="320.26" width="77" height="419.44" fill="#ffbf00"/>
<rect x="2025.6" y="329.79" width="77" height="409.91" fill="#ffcf00"/>
<rect x="2025.6" y="339.32" width="77" height="400.38" fill="#ffdf00"/>
<rect x="2025.6" y="348.85" width="77" height="390.85" fill="#ffef00"/>
<rect x="2025.6" y="358.39" width="77" height="381.31" fill="#ffff00"/>
<rect x="2025.6" y="367.92" width="77" height="371.78" fill="#efff10"/>
<rect x="2025.6" y="377.45" width="77" height="362.25" fill="#dfff20"/>
<rect x="2025.6" y="386.99" width="77" height="352.71" fill="#cfff30"/>
<rect x="2025.6" y="396.52" width="77" height="343.18" fill="#bfff40"/>
<rect x="2025.6" y="406.05" width="77" height="333.65" fill="#afff50"/>
<rect x="2025.6" y="415.58" width="77" height="324.12" fill="#9fff60"/>
<rect x="2025.6" y="425.12" width="77" height="314.58" fill="#8fff70"/>
<rect x="2025.6" y="434.65" width="77" height="305.05" fill="#80ff80"/>
<rect x="2025.6" y="444.18" width="77" height="295.52" fill="#70ff8f"/>
<rect x="2025.6" y="453.72" width="77" height="285.98" fill="#60ff9f"/>
<rect x="2025.6" y="463.25" width="77" height="276.45" fill="#50ffaf"/>
<rect x="2025.6" y="472.78" width="77" height="266.92" fill="#40ffbf"/>
<rect x="2025.6" y="482.31" width="77" height="257.39" fill="#30ffcf"/>
<rect x="2025.6" y="491.85" width="77" height="247.85" fill="#20ffdf"/>
<rect x="2025.6" y="501.38" width="77" height="238.32" fill="#10ffef"/>
<rect x="2025.6" y="510.91" width="77" height="228.79" fill="#00ffff"/>
<rect x="2025.6" y="520.45" width="77" height="219.25" fill="#00efff"/>
<rect x="2025.6" y="529.98" width="77" height="209.72" fill="#00dfff"/>
<rect x="2025.6" y="539.51" width="77" height="200.19" fill="#00cfff"/>
<rect x="2025.6" y="549.04" width="77" height="190.66" fill="#00bfff"/>
<rect x="2025.6" y="558.58" width="77" height="181.12" fill="#00afff"/>
<rect x="2025.6" y="568.11" width="77" height="171.59" fill="#009fff"/>
<rect x="2025.6" y="577.64" width="77" height="162.06" fill="#008fff"/>
<rect x="2025.6" y="587.18" width="77" height="152.52" fill="#0080ff"/>
<rect x="2025.6" y="596.71" width="77" height="142.99" fill="#0070ff"/>
<rect x="2025.6" y="606.24" width="77" height="133.46" fill="#0060ff"/>
<rect x="2025.6" y="615.77" width="77" height="123.93" fill="#0050ff"/>
<rect x="2025.6" y="625.31" width="77" height="114.39" fill="#0040ff"/>
<rect x="2025.6" y="634.84" width="77" height="104.86" fill="#0030ff"/>
<rect x="2025.6" y="644.37" width="77" height="95.33" fill="#0020ff"/>
<rect x="2025.6" y="653.9" width="77" height="85.8" fill="#0010ff"/>
<rect x="2025.6" y="663.44" width="77" height="76.26" fill="#0000ff"/>
<rect x="2025.6" y="672.97" width="77" height="66.73" fill="#0000ef"/>
<rect x="2025.6" y="682.5" width="77" height="57.2" fill="#0000df"/>
<rect x="2025.6" y="692.04" width="77" height="47.66" fill="#0000cf"/>
<rect x="2025.6" y="701.57" width="77" height="38.13" fill="#0000bf"/>
<rect x="2025.6" y="711.1" width="77" height="28.6" fill="#0000af"/>
<rect x="2025.6" y="720.63" width="77" height="19.07" fill="#00009f"/>
<rect x="2025.6" y="730.17" width="77" height="9.53" fill="#00008f"/>
<path d="M2025.6 231.3h6M2102.6 231.3h-6M2025.6 333h6M2102.6 333h-6M2025.6 434.7h6M2102.6 434.7h-6M2025.6 536.4h6M2102.6 536.4h-6M2025.6 638.1h6M2102.6 638.1h-6" stroke="#000" stroke-width="1.8" fill="none"/>
<rect x="2025.6" y="129.6" width="77" height="610.1" fill="none" stroke="#000" stroke-width="2.4" stroke-linejoin="round"/>
<text x="2112.85" y="149.22" font-size="53.8" font-family='"Liberation Sans",Arial,Helvetica,sans-serif'>6000</text>
<text x="2114.35" y="250.92" font-size="53.8" font-family='"Liberation Sans",Arial,Helvetica,sans-serif'>4000</text>
<text x="2112.85" y="352.12" font-size="53.8" font-family='"Liberation Sans",Arial,Helvetica,sans-serif'>2000</text>
<text x="2113.47" y="453.82" font-size="53.8" font-family='"Liberation Sans",Arial,Helvetica,sans-serif'>0</text>
<text x="2112.97" y="555.52" font-size="53.8" font-family='"Liberation Sans",Arial,Helvetica,sans-serif'>−2000</text>
<text x="2112.97" y="657.22" font-size="53.8" font-family='"Liberation Sans",Arial,Helvetica,sans-serif'>−4000</text>
<text x="2112.97" y="758.92" font-size="53.8" font-family='"Liberation Sans",Arial,Helvetica,sans-serif'>−6000</text>
<path d="M1470.8 739.2v-6.5M1470.8 129.5v6.5M1662 739.2v-6.5M1662 129.5v6.5M1852.4 739.2v-6.5M1852.4 129.5v6.5M1357 167.2h6.5M1966.6 167.2h-6.5M1357 358.1h6.5M1966.6 358.1h-6.5M1357 549.6h6.5M1966.6 549.6h-6.5" stroke="#000" stroke-width="1.8" fill="none"/>
<rect x="1357" y="129.5" width="609.6" height="609.7" fill="none" stroke="#000" stroke-width="2.4" stroke-linejoin="round"/>
<ellipse cx="1662.9" cy="432.3" rx="113.3" ry="117.6" fill="none" stroke="#000" stroke-width="3.2"/>
<path d="M1357 549.7L1966.6 549.7" stroke="#000" stroke-width="2.8" fill="none"/>
<text x="1376.55" y="204.3" font-size="84" font-family='"DejaVu Sans","Bitstream Vera Sans",Verdana,sans-serif'>B</text>
<text x="1660.17" y="192" font-size="54.3" font-family='"DejaVu Sans","Bitstream Vera Sans",Verdana,sans-serif'>λ=470 nm</text>
<text x="1367.05" y="532.6" font-size="54" font-family='"DejaVu Sans","Bitstream Vera Sans",Verdana,sans-serif' letter-spacing="0.5">air</text>
<text x="1366" y="604.65" font-size="54" font-family='"DejaVu Sans","Bitstream Vera Sans",Verdana,sans-serif' letter-spacing="1.6">Si</text>
<text x="1955.15" y="80.3" font-size="53.4" font-family='"DejaVu Sans","Bitstream Vera Sans",Verdana,sans-serif' letter-spacing="0.5">Ey[V/m]</text>
<text transform="translate(1224.5 510.45) rotate(-90)" font-size="53.3" font-family='"Liberation Sans",Arial,Helvetica,sans-serif' letter-spacing="0.8">z [nm]</text>
<text x="1589.4" y="857.8" font-size="53.3" font-family='"Liberation Sans",Arial,Helvetica,sans-serif' letter-spacing="0.42">y [nm]</text>
<text x="1284.78" y="187.79" font-size="55" font-family='"Liberation Sans",Arial,Helvetica,sans-serif'>20</text>
<text x="1284.78" y="377.79" font-size="55" font-family='"Liberation Sans",Arial,Helvetica,sans-serif'>10</text>
<text x="1315.4" y="568.24" font-size="55" font-family='"Liberation Sans",Arial,Helvetica,sans-serif'>0</text>
<text x="1252.65" y="759.24" font-size="55" font-family='"Liberation Sans",Arial,Helvetica,sans-serif'>−10</text>
<text x="1409.3" y="801.2" font-size="55" font-family='"Liberation Sans",Arial,Helvetica,sans-serif'>−10</text>
<text x="1646.69" y="801.2" font-size="55" font-family='"Liberation Sans",Arial,Helvetica,sans-serif'>0</text>
<text x="1822.08" y="801.2" font-size="55" font-family='"Liberation Sans",Arial,Helvetica,sans-serif'>10</text>
</g>
<g id="panelC">
<clipPath id="clip1260"><rect x="246.4" y="1013.9" width="609.2" height="609.4"/></clipPath>
<g clip-path="url(#clip1260)">
<path fill="#fffcfc" d="M551 1176.5l1.5 1.5l0.5 3l-0.5 7l-0.5 6l-1.5 6l-4 11l-4.5 9l-4 5l-4 4l-20.5 14l-9.5 8l-7 8l-12 18l-5 6l-4 3l-5.5 3l-6.5 2l-12 3l-8 1h-9l-3 -0.5l-3 -1.5l-1 -2l-0.5 -4v-11l3 -14l4 -12l6 -13l7 -11l8 -10l8.5 -9l11 -9.5l10 -7l11 -6l12 -5l14 -4l11 -1.5h6h6l4 1zM675 1300.5l1.5 1.5l1 2l1 6v9l-2 11l-3 11l-4 11l-5 10l-5 8l-5 7l-6.5 8l-6 6l-6 5l-8 4.5l-13 6l-7 2l-4 -0.5l-0.5 -1l1 -4l0.5 -3l-1.5 -3l-3.5 -5l-0.5 -2l1 -8v-3l-2.5 -4.5l-9 -9.5l-1 -3l1.5 -3l11.5 -11.5l5 -5.5l5 -7l10 -17l4 -5l4 -3l4 -2.5l5 -2l17 -4.5l6 -1l8 -0.5h4zM514 1374.5l3 -2l5 -2l4 -1.5l6 -0.5h5l5 1l3 1l3 2.5l1.5 2l1 4l-0.5 2v8l1.5 10v10l0.5 2.5l1 -0.5l1 9l-1 1.5l-1 -1l-2 2l-5 0.5l-12 -0.5l-7 -0.5l-3 -1.5l-10 -5.5l-1 -1v-3l-0.5 -3l-4.5 -6l-1 -3l0.5 -3l3.5 -7l-0.5 -6l0.5 -3l1.5 -3zM553 1398.5l0.5 2.5l-0.5 3z"/>
<path fill="#fcfcff" d="M557 1177l2 -1.5l4 -1h10l13 2l13 4l12 5l12 7l11 8l9 8l8.5 9.5l8 11l7 12l5 11l4 13l2.5 12v11l-0.5 4l-1.5 3l-2 1.5l-4 1l-9 -0.5l-8 -1l-11 -3l-7 -2l-5.5 -3l-5 -4l-5 -6l-10.5 -17l-6.5 -8l-8.5 -8l-20.5 -15l-4.5 -4.5l-3.5 -4.5l-4 -9l-5 -17l-1 -6v-7l0.5 -3zM430 1298l2 -0.5l4 -0.5l8 1l6 1l17.5 5l4.5 2l4 2.5l4.5 3.5l4 5l10.5 17.5l5 7l5 6l11 10.5l1.5 3l-0.5 3l-8 9.5l-2 4.5l-0.5 4l1.5 7l-0.5 2l-2 5l-0.5 3l1 3l4 5l1 2l0.5 2v3l2.5 2l7.5 4l1.5 1l-1 0.5h-7l-7 -1l-9 -3l-6 -3l-3 -2.5l-0.5 -2l-1 -1l-15.5 -9.5l-8 -6.5l-7.5 -7l-8 -10l-6 -9l-6 -11l-5 -11l-3 -10l-3 -14l-0.5 -10l0.5 -5l1 -4l0.5 -2zM556 1375l2 -2.5l3 -1.5l4 -1.5l5 -0.5l5 0.5l10 2l5 2l3 2l2.5 2.5l1.5 2l0.5 3v7l1 2l4 5l1.5 3v3l-2 4l1 1.5l4 1l5 -1l18 -6.5h3v1v1l-3 3l-6 4l-16 7.5l-6 1.5l-9 1.5l-19 1.5l-14 -0.5l-5 -1l-1 -1.5l-0.5 -8l1.5 -14l-1.5 -10l0.5 -8zM595 1418h3l4.5 -1l-1.5 -0.5l-3 0.5z"/>
<path fill="#fff9f9" d="M550 1178l1.5 2v2l-0.5 6l-1 5l-3 6.5l-8 11.5l-4 4.5l-5 5l-22 15.5l-10.5 9l-7.5 8.5l-12.5 18.5l-5.5 7l-4 3.5l-5 3l-8.5 4.5l-5.5 2.5l-5 1l-6 0.5h-4l-3 -1.5l-1.5 -2.5l-1 -3v-10l3 -14l4 -13l6 -12l6 -10l9.5 -12l8 -8.5l9 -8l12 -8l11 -6l12 -5l14 -4l11 -1.5l10 0.5l4 1zM674 1301.5l1 1.5l1.5 3l0.5 6v9l-1.5 9l-3 11l-3 8l-4 9l-6 10l-6.5 9l-5.5 7l-6.5 6.5l-6 5l-8 5l-11 5l-7 2.5l-4 -0.5l-1 -0.5v-1l1 -3l0.5 -3l-1.5 -3l-3 -5l-0.5 -2l2 -10l-1 -4l-3.5 -9v-2l1.5 -3l14.5 -16l5 -7l10 -17l3 -4l4 -4l9.5 -6l6.5 -3.5l5 -2l5 -1.5l6 -0.5h4zM514.5 1376l3.5 -2l4 -2l4 -1l5 -0.5l5 0.5l4 0.5l3.5 1.5l2.5 2l1.5 2l1 3l0.5 9l2 9v11l1 5l1 -1.5l0.5 6.5l-0.5 2l-1 -1.5l-0.5 1.5l-1.5 1l-5 0.5h-8l-10 -1l-4 -1l-10 -5.5l-0.5 -1v-3l-1 -3l-4 -6l-1 -3l0.5 -3l4 -7v-6l0.5 -3l1 -2z"/>
<path fill="#f9f9ff" d="M558.5 1178l2.5 -1.5l4 -0.5h9l12 1.5l13 4l11 5l11 6l11 8l11 10l8.5 9.5l8 11l7 12l5 12l3 11l2.5 13l-0.5 10l-1 4l-1.5 2l-3 1h-4l-6 -0.5l-5 -1l-5.5 -2.5l-9 -5l-4.5 -3l-4 -3.5l-5.5 -6.5l-11.5 -18.5l-7 -8.5l-10 -9l-21 -16l-5 -5l-4 -5l-8 -12.5l-3 -6.5l-1 -5v-6v-2zM431 1299.5l3 -1.5l6 0.5l6 1l5 2l8.5 4.5l7.5 5l4 3l4.5 5l15.5 25l5.5 7l9 9l2 3l1 2v2l-3 8l-0.5 3v4l2 7l-0.5 2l-2 6v3l1.5 3l3.5 4l1 2l0.5 2v3l2.5 2l8 4l0.5 1l-4 0.5l-8 -1l-7 -2l-7.5 -3.5l-3 -2l-1 -3l-15.5 -9.5l-9 -7l-8 -7.5l-7.5 -9l-7 -10l-6 -11l-4 -9l-4 -12l-2 -11l-1 -12l1 -8l1 -3zM556 1380l1.5 -3l2.5 -2.5l3 -1.5l4 -1l5 -0.5h5l5 1l5 1.5l5.5 3l2 2l1 2l0.5 2l0.5 7l1 2l4.5 5l1.5 3v3l-2 4l0.5 1l3 1.5l4 0.5l6 -1.5l8 -2.5h1v1l-4 3l-7 3.5l-4 1l-8.5 1.5l-6.5 2l-1 1l1 0.5l7 -0.5l-3 1l-13 1.5l-12 1h-10l-7 -1l-1.5 -1.5l-0.5 -7l2 -16l-1 -10v-4z"/>
<path fill="#fff7f7" d="M549 1179l1 1l0.5 2l-1 7l-2 5l-3.5 5l-7 7l-8 7.5l-25 17.5l-10.5 9l-8 9l-15 22l-7 8l-9.5 8l-6.5 4l-4.5 1.5l-5 0.5h-4l-2 -1l-1.5 -2l-1 -4v-9l2 -12l4 -13l5 -11l7 -12l7.5 -10l10 -10.5l9 -8l11 -8l11 -6l12 -5l14 -4l11 -1.5l10 0.5l4 1zM673 1302.5l1.5 1.5l1 2l1 6l-0.5 8l-1.5 11l-3 10l-3 9l-5 10l-5 8l-6 9l-6 7l-6.5 6.5l-6 5l-8 5l-11 5l-6 2h-2l-2 -0.5l-0.5 -1l1.5 -3v-3l-1 -2.5l-3 -5.5l-0.5 -2l2.5 -11v-10l1.5 -4l14 -16l4.5 -6.5l10.5 -17.5l3.5 -5l5 -5l8 -7l7 -4l4 -1.5l4 -0.5l5 -0.5zM516 1377l3 -2l4 -1.5l4 -1h5h4l4 1l3 1.5l2 2l2 4l0.5 8l3 9v10l1 5l0.5 5l-0.5 2l-1.5 2l-9 0.5l-14 -1l-6 -2l-7.5 -4.5l-0.5 -1l-1 -6l-4 -6l-1 -3l0.5 -3l4.5 -7l1 -8l1 -2zM553 1414l0.5 5l-0.5 1.5l-1 -1.5v-2z"/>
<path fill="#f7f7ff" d="M559.5 1179l2.5 -1.5l3 -0.5l10 -0.5l12 2l13 4l11 5l12 7l9 7l10.5 9.5l9 10l8 11l6 11l5 12l4 13l1.5 11l-0.5 10l-1 3l-1 2l-2.5 1h-4l-5 -0.5l-4.5 -1.5l-3.5 -2l-4.5 -3l-9 -8l-6.5 -8l-14 -21l-7 -8.5l-10 -9.5l-23 -17.5l-7 -6.5l-8 -8.5l-4 -6l-2 -5l-1 -7.5l0.5 -2zM432 1300l2 -0.5h6l5 1.5l4.5 2l5.5 4l7 6l4 4l4 5l16 25.5l5 6l8.5 9.5l2.5 3l1 4v10l3 9l-0.5 3l-1.5 5l0.5 4l5.5 8l1 2l-1 3l11 6v1h-8l-5 -1.5l-7 -2l-5 -2.5l-2 -2v-2l-1 -1l-16 -9.5l-10 -8l-8.5 -8.5l-8.5 -10l-6.5 -10l-5 -10l-5 -12l-3 -10l-2 -12v-9l1 -7l1 -2zM558 1380l2 -2.5l3 -2l3 -1l5 -1h5l5 0.5l5 1.5l3.5 1.5l3 2l2 3l0.5 7l0.5 2l5.5 5.5l1.5 2.5l0.5 3l-2 5v1l1 1l2 1l8 1l-0.5 1l-4.5 2l-13.5 4l-1.5 1v1l-4 1l-7 1l-12 0.5l-13 -1l-1.5 -1.5l-0.5 -7l3 -17l-0.5 -10v-3z"/>
<path fill="#fff5f5" d="M548 1179.5l1 2.5l-1 6l-2 4.5l-3 4l-10 8.5l-30 21l-12 10l-9 10l-17.5 26l-5 6l-5.5 6l-5 4l-6 3l-4 0.5l-4 0.5l-2 -1l-1 -1l-1 -2l-1 -4l0.5 -10l2 -11l5 -14l6 -12l6 -10l8 -10l8.5 -9l10 -8.5l12 -8l12 -6l10 -4l12 -3l12 -1.5l9 0.5l3 0.5zM672 1303l1 1l1.5 2l1 6v8l-1 9l-3 10l-3 9l-4 9l-6 10l-6 9l-6 7l-6.5 7l-6 5l-7 4.5l-10 5l-7 2l-2 0.5l-2 -0.5l-0.5 -0.5l1 -4v-2l-4 -8v-3l3.5 -9l1.5 -8l2 -4l14.5 -17l16.5 -27l10 -12l5.5 -5l5 -3l6 -1l3 -0.5zM517 1378l3 -2l4 -1.5l8 -0.5l4 0.5l4 1l2.5 1.5l2 2l1.5 4l0.5 7l2.5 4.5l1.5 4.5v9l1 6l0.5 3l-0.5 3l-1.5 1.5l-11 0.5l-11 -0.5l-6 -2l-8 -4.5l-0.5 -1l-1 -6l-4.5 -6l-0.5 -3l1 -3l4 -6l1 -2l0.5 -6l1 -2zM553 1415v4.5l-0.5 -1.5z"/>
<path fill="#f5f5ff" d="M560.5 1180l1.5 -1.5l4 -1h10l12 2l12 4l11 4.5l11 6.5l11 8.5l9 8l9.5 11l7 10l6 10l5 12l4 13l1.5 11v9l-0.5 3l-1.5 3l-1 0.5l-2 0.5h-4l-4 -1l-6 -3l-6 -5l-9.5 -11l-14.5 -23l-5 -6.5l-5 -6l-12 -10.5l-29 -22l-10 -9l-3 -4.5l-2 -4.5l-0.5 -5v-2zM432.5 1301l2.5 -0.5l5 0.5l4 1l3.5 2l4 3l4 4l9 11l17.5 28l5 6l9 10l2 3l7 20v3l-1.5 5l0.5 3l1.5 3l3 4l1.5 2.5l0.5 1.5l-1 2v1l11 6l-0.5 1l-6 -0.5l-6 -1l-6 -2l-5 -2.5l-2 -2l1 -2l-1.5 -1l-16.5 -9.5l-10 -7.5l-9 -9l-7.5 -9l-6 -9l-6 -11l-4 -9l-4 -12l-2 -11l-0.5 -10l1 -8l1 -2.5zM560 1380l2 -2l3 -1.5l4 -1.5l4 -0.5l9 1l4 1l3 2l2 1.5l1.5 2l1 2v5l1 2l5.5 5l2 3l0.5 3l-2 6l1.5 1.5l6 2.5l-1 1l-2 1l-12 4l-3 2l-3 1l-8 1h-12l-9 -0.5l-3 -1l-1 -2.5v-6l4.5 -18l-0.5 -7v-2.5z"/>
<path fill="#fff3f3" d="M547 1180l0.5 1v2l-1 5l-2 4l-3.5 4l-10 7.5l-30 19.5l-9 7l-7 7l-9 11l-16.5 26l-8 10l-4.5 3.5l-5 2.5l-6 0.5h-2l-1 -0.5l-1 -2l-1 -4v-9l2.5 -13l4 -12l6 -12l6 -10l7 -9l8.5 -9l11 -10l10 -6.5l11 -6l11 -5l11 -3l13 -2h9l4 1zM672 1304l1.5 2l1 2l0.5 6v8l-1.5 9l-3 10l-3 8l-4 9l-6 10l-5 7l-6.5 8l-6 6.5l-6 5l-8 5l-8 4l-8 3h-2l-1.5 -0.5l0.5 -6l-3.5 -8v-3l6 -14l2.5 -4l11 -13l5 -6.5l5 -8l11 -19.5l4 -6l5 -6l4 -4l5 -3l6 -1h3zM519 1378l6 -2.5l7 -0.5l4 0.5l3 1.5l2 1l2 2l1.5 3l0.5 7l4 6l1 3v9l1.5 6l0.5 3l-0.5 3l-1.5 1.5l-10 0.5l-12 -0.5l-6 -2l-5 -2.5l-3 -2l-0.5 -1l-1 -7l-4 -5l-0.5 -3l1 -3l5.5 -7l0.5 -6l1 -2z"/>
<path fill="#f3f3ff" d="M562 1180l2 -1l4 -1h10l12 2.5l12 4l12 6l10 6l9 7l9 8l8.5 9.5l7 10l6 10l5.5 12l3.5 12l2 12v10l-1 3l-1 2l-1.5 1h-2l-6 -1l-4.5 -2l-5 -4l-4 -5l-5 -7l-16.5 -26.5l-9.5 -11.5l-5.5 -5.5l-7 -5.5l-31 -22l-9 -7.5l-3 -4.5l-1.5 -4l-0.5 -5zM433 1302l2 -0.5l4 0.5l6 2l5 4l7 8l6.5 10l14.5 24.5l6 8l9.5 10.5l3.5 5l6.5 14l0.5 3l-1 6l0.5 3l1.5 3l3 4l2 3v1l-1.5 2l0.5 1l10 5l1.5 1l-0.5 0.5h-5l-6 -1l-6 -2l-5.5 -2.5l-1 -1l-0.5 -1l1.5 -1l-0.5 -1l-15 -8.5l-10 -7l-10.5 -9.5l-10 -12l-6 -9l-5 -9l-5 -11l-3 -10l-2 -10l-1 -11l1 -8l1.5 -3zM561 1381.5l2 -2.5l3 -1.5l7 -1.5l8 0.5l4 1l3 1.5l2 2l1.5 2l1 6l1 2l5.5 5l2.5 3l0.5 3l-1.5 6l1.5 2l4 2l-0.5 1l-4 2l-9 3l-3.5 2l-7 1.5l-7 0.5h-13l-5 -0.5l-2 -1l-1 -3.5l0.5 -5l5 -18l0.5 -2l-0.5 -6l0.5 -3z"/>
<path fill="#fff0f0" d="M545 1180l1 2l-0.5 5l-2 4l-3.5 4l-8 5.5l-22 13.5l-9.5 6l-9 7l-8.5 8l-5 6l-5 7l-16.5 27l-4 5l-3.5 4l-4 3l-4 2l-6 0.5l-2 -1l-1 -2.5l-0.5 -3v-10l3 -13l4 -11l4.5 -10l6.5 -10l8.5 -11l8 -8.5l9 -8l10 -7l10 -6l12 -5l13 -4l10 -1.5h10l3 1zM672 1305.5l2 3.5l0.5 7v7l-2 10l-3 10l-3 8l-4 8l-5 8l-6 9l-6 7l-6.5 6.5l-6 5l-7 5l-9 4l-7 2.5h-2l-1 -0.5l0.5 -5.5l-3 -7l-0.5 -3l1.5 -4l6.5 -11l4 -5l9 -10l6 -8l5 -8.5l11.5 -20.5l6.5 -10l4 -4l5 -3l5 -1h3zM520 1379l5 -2l7 -0.5l6 1.5l2 1l1.5 2l1.5 3l0.5 6l1 2l4 4l1 3v8l2 10v2l-1.5 2.5l-3 0.5h-10l-11 -1l-6 -2.5l-5.5 -3.5l-2 -8l-3.5 -5l-0.5 -3l1 -3l6 -7l1.5 -6.5l1 -1.5z"/>
<path fill="#f0f0ff" d="M563 1180.5l2 -1l3 -1h10l11 2.5l12 3.5l11 5l10 6l11 8.5l9 8l8.5 10l7 10l6 10l5 11l4 13l1.5 11v9l-1 3l-1 2l-1 0.5l-2 0.5l-5 -1l-4 -1.5l-4 -3.5l-3.5 -4l-4.5 -6l-16 -27.5l-9 -11.5l-8 -8l-8.5 -7l-29.5 -19.5l-8 -6.5l-3.5 -4l-2.5 -4l-1 -5zM433 1303l1 -0.5h3l6 2l5 3.5l4.5 5l6 9l11.5 21l5 8l6 8l13 14.5l7.5 12.5l1.5 3l0.5 2l-1 6l0.5 3l1.5 3l3.5 4.5l1.5 2.5l-0.5 1.5l-1.5 1.5l1 1l8.5 4l3 2l-1 0.5h-3l-7 -1l-6 -2l-5 -2.5l-1 -1v-1l2.5 -1l-1 -1l-14.5 -7.5l-12 -8.5l-10 -9l-9.5 -11l-6 -9l-5 -9l-5 -11l-3 -9l-3 -12l-0.5 -9l0.5 -8l1 -3zM562.5 1382l2 -2l2.5 -1.5l6 -1l8 0.5l3 0.5l3 1.5l2.5 3l2 7l2 2l5.5 4.5l2 2.5l0.5 3l-1.5 6l1 1.5l3.5 2.5v1l-3.5 2l-9 3l-3 1.5l-4 1.5l-7 0.5l-9 0.5l-9 -0.5l-4 -0.5l-1 -1l-0.5 -1v-7l2 -5l2 -7l3 -7l-0.5 -7l0.5 -2z"/>
<path fill="#ffeeee" d="M544.5 1181v3l-1 4l-2 3l-3.5 3.5l-7 5l-22 12.5l-9.5 6l-9 7l-8.5 8l-6 7l-5 7l-16 27l-3.5 5l-3.5 4l-3.5 3l-3.5 1.5l-4 1l-3 -0.5l-1.5 -2l-0.5 -3l-0.5 -5l0.5 -5l2.5 -12l4 -11l5 -11l7 -11l7 -9l8.5 -9l10 -9l10 -7l10 -5.5l12 -5l11 -3l12 -2l9 0.5l3 1zM671 1306l1 1l1 2l1 6v8l-1.5 9l-3 10l-3 8l-4 8l-5 9l-6 8l-5.5 7l-7 7l-6 5.5l-6 4l-8 4l-7 2.5l-2 0.5l-2 -0.5v-5l-2.5 -7l-0.5 -2l0.5 -3l2 -3l6.5 -9.5l13 -14.5l6 -8l6 -10l10.5 -20l6 -9l4 -4l3.5 -2.5l4 -1.5zM521.5 1380l4.5 -2h6l5 1.5l3 2.5l1 2l0.5 6l1.5 2l5 4.5l1 2.5l0.5 3v5l2 9v3l-1.5 2l-3 0.5l-9 0.5l-12 -1.5l-7 -2.5l-4 -3l-0.5 -1l-1.5 -7l-3.5 -5l-0.5 -3l1 -3l7 -7l2 -6z"/>
<path fill="#eeeeff" d="M564.5 1181l1.5 -1l4 -1l9 0.5l11 2l12 4l11 5l10 6.5l9 6.5l9 8.5l8.5 9l7 10l6 10l5 11l4 12l2 11v10l-1 3l-1 2l-2.5 0.5l-5 -0.5l-3.5 -2l-3.5 -3l-3.5 -4l-3 -5l-15.5 -27l-5 -7l-5 -6.5l-7.5 -7.5l-10 -8l-10 -7l-20.5 -13l-7 -5l-3 -3.5l-2 -3.5l-1 -4v-2zM433 1304.5l1 -0.5h3l5 1.5l4 2.5l4.5 5l5 8l11.5 21.5l7 11.5l7 9l12 13l8 11l1.5 4l-0.5 6l0.5 3l1.5 3l4 5l1 2l-1 1.5l-3 1.5l11 4.5l3.5 2.5l-3.5 0.5l-6 -1l-7 -2.5l-4 -2l-1 -1.5l1 -0.5l3.5 -1l-15.5 -7.5l-7 -4l-6 -4l-11.5 -10.5l-10 -12l-6 -9l-5.5 -9l-4.5 -11l-3 -9l-2 -10l-1 -10l0.5 -7l1 -3zM564 1383l2 -2l2 -1l6 -1.5l7 0.5l5 2.5l2 2.5l2 6l2 2l6 4l2.5 3l0.5 3l-1.5 6l0.5 1.5l3.5 2.5v1l-3.5 2l-15 5.5l-7 1l-9 0.5l-9 -0.5l-4 -1l-1 -0.5l-0.5 -2v-6l2.5 -5l2 -7l4 -7l0.5 -2l-0.5 -5z"/>
<path fill="#ffebeb" d="M542.5 1181l0.5 1v2l-1 3l-2.5 4l-3.5 3l-7 5l-28 16l-9.5 7l-7.5 6.5l-7 7.5l-7 9l-6 10l-10.5 18l-5.5 8l-3.5 3l-3.5 2l-4 1h-2l-1 -0.5l-1 -2l-0.5 -3.5v-9l3 -12l3.5 -11l5.5 -11l6 -9l7.5 -10l8 -8.5l9 -8l10 -7l10 -6l11 -5l11 -3.5l11 -1.5l9 -0.5l4 1zM671 1307.5l1 1l1 2.5l0.5 5v8l-2 9l-2 8l-3 8l-4 8l-5 9l-6.5 9l-5.5 7l-6.5 6.5l-6 5.5l-7 4.5l-7 3.5l-6 2.5h-3l-1.5 -0.5v-4l-2.5 -8l0.5 -3l1.5 -3l7 -9l13 -14.5l6 -8l6 -10l12 -22.5l5 -7.5l3 -3.5l4 -2.5l4 -1zM523 1381l4 -1.5h4l4 1l3 2l1 2.5l1 5l1.5 2l6 5l1.5 2.5v7.5l1.5 5l1 4l-0.5 3l-1 2l-3 0.5h-8l-13 -1l-6.5 -2.5l-4.5 -3l-0.5 -2l-1 -6l-3.5 -5l-0.5 -3l1.5 -3l8 -7l2 -6z"/>
<path fill="#ebebff" d="M566.5 1181l2 -1l3.5 -0.5l10 0.5l10 2.5l11 4l11 5l9 5.5l10 8l8.5 8l9 10l7 10l5 9l5 11l4 12l1.5 11v8l-0.5 3l-1.5 2l-1 0.5l-3 -0.5l-4 -1l-3 -2l-4 -4l-4.5 -7l-15.5 -27.5l-6 -8.5l-7 -8l-7.5 -7l-9 -7l-27.5 -17.5l-8 -5.5l-3 -3.5l-2 -3.5l-0.5 -4v-1zM434 1305l4 0.5l4 1.5l4 3l3.5 4l4.5 8l12 22.5l6 10l6 7.5l15 16l7 9l1.5 4v9l1.5 3l5 6v1l-0.5 1l-2.5 0.5l-5 -1l-11 -5l-11 -6.5l-7 -5.5l-7 -6.5l-6.5 -7l-7 -9l-5 -8l-5 -9l-4 -10l-3 -10l-2 -10l-0.5 -9l1 -7l1 -2zM554.5 1417l0.5 -5l3 -5l1.5 -6l1.5 -3l4.5 -6v-7l1.5 -2l3 -2l3 -1h4l4 1l2.5 1l2 2l2.5 6l10 7l2.5 3v2l-1.5 6l1 2l2.5 2v1l-3 2l-11.5 4.5l-4 1l-7 1h-16l-5 -1l-1 -1zM498.5 1414l2.5 -1l4 0.5l9 3.5l4 2l1 1l-4 0.5l-6 -1.5l-8 -3l-1.5 -1z"/>
<path fill="#ffe9e9" d="M540.5 1181l1 2l-1 4l-2 3l-3.5 3l-6 4l-19 11l-10 6l-9.5 7l-8 7l-6.5 7l-7 9l-6 9.5l-11 19.5l-5 7l-3 3l-4 2l-4 0.5h-1l-1 -1l-1 -2.5l-0.5 -3l1 -9l2 -10l4 -11l5 -10l6 -10l7 -9l8.5 -9l9 -8l10 -7.5l9 -5l11 -5l11 -3.5l10 -2l9 -0.5l3.5 0.5zM671 1309l1.5 3l0.5 6l-0.5 8l-1.5 9l-2.5 8l-4 9l-4 8l-4 7l-5 7l-5.5 7l-7 7l-6 5.5l-6 4l-7 4l-6 2l-4 0.5l-0.5 -1l-0.5 -4l-2 -7v-2l1.5 -3l6.5 -8l13 -14l7 -9.5l7 -11.5l11.5 -22l4.5 -7l3 -3l3 -2l4 -1.5zM525 1382l4 -1h3l2 1l2 2l1 4l0.5 2l8.5 6.5l2 2.5l1 3l-0.5 5l2 5l0.5 4v4l-1 1l-3 0.5h-7l-13 -1l-7 -2.5l-4.5 -3l-1 -2l-0.5 -6l-4 -6v-3l3 -3.5l8 -5.5l2 -5z"/>
<path fill="#e9e9ff" d="M567 1182l1.5 -1l3.5 -1l9 0.5l10 2l12 4l10 5l10 6l9 7l9 8l7.5 8.5l7.5 10l5.5 10l5 10l4 12l2 10v9l-0.5 3.5l-1 2l-1 0.5h-2l-4 -1l-3 -2l-4 -4l-4.5 -7l-10.5 -19.5l-5 -8l-6 -8.5l-7 -8l-7.5 -7l-9 -7l-9 -6l-18.5 -11l-6.5 -5l-3.5 -3l-2 -3l-1 -3zM434 1306.5h4l3.5 1.5l3.5 3l3.5 4l5 8l10.5 21l7 11.5l7 9l15 15.5l6 7.5l1.5 3.5l0.5 7l0.5 3l1 2l5 6v1l-0.5 0.5l-2 0.5h-2l-7 -2.5l-10 -5l-9 -6l-7 -5.5l-7 -6.5l-6.5 -7.5l-6 -8l-6 -9l-4 -8l-4 -10l-3 -9l-1.5 -10l-0.5 -8l0.5 -6l1 -2.5zM554.5 1417l0.5 -5l3.5 -5l1.5 -6l2 -3l5.5 -6l0.5 -2v-3l0.5 -2l1.5 -1.5l2 -1l5 -1l4.5 1.5l2 2l2.5 5l10 6l2.5 2l1.5 2v2l-1.5 4v2l0.5 1l3 3v1l-3 2l-11 4.5l-4 1l-8 1h-15l-5 -1l-1 -1zM499.5 1414l3.5 -0.5l5 1l10 4.5l0.5 1h-4.5l-7 -1.5l-5.5 -2.5l-1.5 -1z"/>
<path fill="#ffe6e6" d="M539 1181.5l0.5 0.5v1l-0.5 3l-1.5 3l-3.5 3.5l-6 4l-19 10.5l-9.5 6l-10 7l-8.5 7.5l-7 8l-7 9.5l-5 8l-10.5 19l-4.5 6l-3 3.5l-3 2l-3 0.5h-3l-1 -1l-0.5 -3v-9l2 -10l4 -11l5 -10l6 -10l7.5 -10l8 -9l9 -7.5l9 -7l9 -5l10 -5l11 -3.5l10 -2.5l9.5 -0.5l3.5 0.5zM671 1310.5l1.5 3.5l0.5 6l-1 7l-1.5 8l-2 7l-3 8l-4 8l-5 8l-5.5 8l-4.5 6l-6.5 7l-6 5.5l-6 4l-7 4l-6 2.5l-4 0.5l-0.5 -0.5l-0.5 -4l-2 -6v-3l1.5 -3l5.5 -6.5l14 -15l7 -9l7 -11.5l11 -22l5 -7l3 -3.5l3 -1.5l4 -1zM511 1397.5l3 -3l9.5 -5.5l3.5 -4.5l2 -1l2 0.5l1.5 1l1 3l1.5 2l10 6.5l3 3.5l0.5 2l-0.5 5l2 3.5l1 2.5v4l-0.5 3l-0.5 1l-3 0.5h-14l-8 -1.5l-7 -3l-1.5 -1l-1.5 -2l-0.5 -7l-4 -6v-2z"/>
<path fill="#e6e6ff" d="M569 1182l2 -1l3 -0.5l9 0.5l10 2.5l11 4l10 5l10 6l9 7l8 7.5l8 9l6.5 9l6 10l4 9l4 11l2 10l1 9l-0.5 3l-1 3l-1 0.5l-1 0.5l-4 -1l-3.5 -2l-3.5 -3.5l-5 -7.5l-10 -19l-5 -8.5l-6 -8.5l-7 -8l-7.5 -7l-9 -7l-9.5 -6l-18 -11l-6 -4l-3 -3l-2 -3l-1.5 -3zM434 1308l3 -0.5l4 1.5l3.5 3l3.5 4l4.5 8l10.5 21l7 11.5l8 10l15 15l5.5 6.5l1.5 4v6l1 3l1.5 3l4 5v1l-1.5 0.5h-2l-6 -2l-10 -5l-10 -6l-6 -5l-7 -6.5l-6.5 -7l-6 -8l-6 -9l-4 -8l-4 -9l-3 -9l-2 -9l-0.5 -9v-6l1 -3zM554.5 1417l0.5 -5l4 -5l1 -5l1 -2l3 -3l7 -6l0.5 -1l0.5 -4l2 -1.5l3 -0.5l2.5 1l3.5 5l12 6l3 2l1 2l0.5 2l-1.5 4v2l1 2l2 2l0.5 1l-3 2l-11.5 4.5l-4 1l-8 1h-14l-5 -1l-1 -1.5zM500.5 1415l0.5 -1h1l5 0.5l9 3.5l1.5 1l0.5 1h-3l-5 -1l-6 -2z"/>
<path fill="#ffe4e4" d="M538 1182v2l-1 3l-2.5 3l-2.5 2.5l-6 4l-27 15.5l-10 7l-8 7l-7 7.5l-7 9.5l-6 9.5l-10.5 18.5l-4 6l-2.5 2.5l-3 2.5l-3 1l-3 -0.5l-1 -2l-0.5 -2.5l1 -9l2 -10l4 -11l5 -10l6 -9l7 -9l7.5 -8.5l9 -8l10 -7l10 -6l9 -4l11 -3.5l10 -2l8 -0.5l3 0.5zM670 1311.5l1 0.5l1 2l0.5 5l-0.5 7l-1.5 8l-3 9l-3 8l-4 8l-4 7l-5 7l-5.5 7l-6 6.5l-6 5.5l-6 4.5l-6 3.5l-6 2.5l-4 0.5l-1 -1l-2.5 -9v-2l1.5 -3l4 -5l15 -16l7 -9l7 -11l11.5 -22l4.5 -7.5l2 -2.5l3 -2l3 -1.5zM511.5 1398l1.5 -2l4 -2.5l7 -3l4 -1l4 1l9 4l4.5 3.5l2 3v6l2.5 4l0.5 2l0.5 4l-0.5 3l-1.5 1l-3 0.5l-13 -0.5l-7 -0.5l-3 -1l-6 -3.5l-1.5 -2l-0.5 -3v-4l-4 -6z"/>
<path fill="#e4e4ff" d="M571 1182l3 -1h3l9 1l10 2.5l10 4l9 5l10 6l9 7.5l7.5 7l8 9l6.5 9l5.5 10l4 9l4 11l2 10v9l-0.5 3l-1 1.5h-3l-3 -1.5l-3 -2l-2.5 -3l-4 -6l-10.5 -19.5l-5 -8.5l-6 -8.5l-7 -8l-8 -7.5l-9 -7l-27 -16.5l-6 -4.5l-3 -3l-2 -3l-0.5 -3v-1zM434 1309h1h2l3 1l3 2l3.5 4l5 8l11.5 23l7 11l8 10l16 16l4 5l1 3l0.5 6l1 3l1.5 3l3.5 4l0.5 1l-1 1l-4 -0.5l-8 -3l-9 -5l-8 -5l-6 -5l-6.5 -6.5l-5.5 -6l-6.5 -8l-5 -8l-5 -9l-3 -7l-3 -9l-2 -9l-1.5 -9l0.5 -7zM598.5 1400l0.5 2l-1.5 4l0.5 3l2.5 3l0.5 1l-2.5 2l-12.5 5l-10 1.5h-15l-4 -1l-1.5 -0.5l-0.5 -1l-0.5 -3l0.5 -3l1 -2l3.5 -4l1.5 -5l1 -2l4 -4l8 -4.5l3 -0.5h2l9 2.5l7 3l2 1.5zM501 1415l2 -1l4 1l6 2l4.5 2l-0.5 1h-1l-5 -0.5l-7 -2.5z"/>
<path fill="#ffe1e1" d="M536 1182v2l-1 3l-1.5 2l-3 3l-6 4l-18 10l-9.5 6l-9.5 7l-7.5 7l-7 7.5l-7 9l-6 10l-10 17.5l-4 6l-3 3l-3 2l-4 0.5l-1 -1l-0.5 -2.5l-0.5 -3l1 -8l2.5 -10l4 -10l5 -10l5 -8l7 -9l7.5 -8l8 -7l10 -7.5l8 -5l10 -5l11 -4l9 -2l9 -0.5zM670 1312.5l1.5 2.5l0.5 6l-0.5 7l-2 8l-2 7l-3.5 9l-4.5 8l-4 7l-5 7l-5.5 7l-6 6l-6 5.5l-6 4l-6 3.5l-6 2h-3l-2.5 -9v-2l1.5 -3l4 -5l14 -14.5l8 -10l6 -9.5l12.5 -24l4.5 -7l2 -2l3 -2.5l3 -1zM512 1398l2 -2l4 -2.5l4 -1.5l5 -1l5 0.5l9 4l4 2.5l2 3v6l2.5 3l1 3l0.5 4l-0.5 3l-1.5 1l-4 0.5l-15 -0.5l-6 -1.5l-5.5 -2.5l-1.5 -1l-1.5 -2l-0.5 -3v-4l-3.5 -6z"/>
<path fill="#e1e1ff" d="M572 1183l1.5 -1l2.5 -0.5l9 1l10 2l10 4l10 5l9 6l9 7l8 7.5l7 8l7.5 10l6 10l4 9l3.5 11l2 9l0.5 8l-0.5 3l-1 1.5l-2 0.5l-3 -1l-3 -2l-3 -3l-4.5 -7l-9.5 -18l-5 -8l-7 -10l-7 -8l-8 -7l-9 -7l-25.5 -16l-5.5 -4l-5 -5l-1 -3zM434 1310.5l2 -0.5l4 1.5l3 2l3 3.5l4 7l12 23.5l7 11l8 10l16 16l4 4.5l1.5 3l1 9l2 3l3 4v1h-3.5l-7 -2.5l-9 -4.5l-8 -5.5l-6 -4.5l-6.5 -6l-6.5 -7l-5.5 -7l-5 -8l-5 -9l-4 -9l-3 -8l-1.5 -8l-1.5 -8v-7zM598 1400l0.5 2l-1 4v2l2.5 5l-0.5 1l-1.5 1l-11 4.5l-7 1.5l-9 0.5h-9l-5 -1l-2 -1.5l-0.5 -3l0.5 -3l1 -2l4 -4l2 -6l3 -3.5l6 -3.5l4 -1l3 -0.5l7 0.5l5 1.5l4 2l2.5 1.5zM502 1415l2 -0.5l4 0.5l5 2l4 2l-1 0.5l-5 -0.5l-6.5 -2z"/>
<path fill="#ffdede" d="M534 1183v2l-1 2l-1.5 2l-3.5 3l-31.5 19l-9.5 7l-8 7l-7 8l-7 9l-6 10l-9 16l-4 6l-3 3l-2 1.5l-3 1h-2l-1 -2l-0.5 -2.5l1 -8l2 -9l4.5 -11l4.5 -9l6.5 -10l6 -8l7.5 -8l8.5 -7.5l8 -6l8 -5l10 -5l10 -4l10 -2l9 -1l2.5 0.5zM670 1314.5l1 2.5l0.5 6l-1 7l-2 8l-2 7l-4 9l-8 14l-5 7l-6 7l-6 6l-5.5 5l-5 3.5l-6 3l-5 2h-2h-1l-2 -5.5l-0.5 -3v-2l1.5 -2.5l3.5 -4.5l14.5 -15l8 -10l6 -9.5l11.5 -22.5l4.5 -7l3 -3l2 -1.5l3 -1zM513 1398l2 -2l3 -1.5l5 -1.5l4 -0.5l7 1l8 3.5l3.5 3l1 2v5l2.5 3l1 2l1 4l-0.5 4l-1.5 1l-5 0.5l-14 -0.5l-6 -1.5l-5 -2.5l-2.5 -2l-1 -2v-2v-4l-3 -6v-2z"/>
<path fill="#dedeff" d="M574.5 1183l2.5 -0.5h3l8 1l9 2.5l10 4l9 4.5l9 6l8 6.5l7.5 7l7 8l7 9l5.5 9l4 9l3.5 9l2.5 10l1 8v3l-1 2.5l-2 0.5l-3 -0.5l-3 -2l-2 -2.5l-4.5 -7l-9.5 -17.5l-5 -8l-6.5 -9.5l-7 -8l-7.5 -7l-9 -7l-26 -16.5l-6 -4.5l-2 -2l-2 -3l-1 -2zM435 1312h2l3 1l4.5 4l5 8l11.5 23l7 11l9 11l15 15l3.5 4l2 4l1.5 8l1.5 3l2.5 3v1h-3l-7 -2.5l-8 -4l-8 -5l-6 -5l-7 -6.5l-6 -7l-5.5 -7l-5 -7l-4.5 -9l-3.5 -7l-3 -9l-2.5 -10l-1 -8l0.5 -6l0.5 -2zM597.5 1400l0.5 2l-1.5 5l0.5 2l2.5 3v1l-0.5 1l-3.5 2l-9.5 3.5l-4 1l-7 0.5h-14l-4 -0.5l-1.5 -1.5l-0.5 -4l1 -3.5l5 -4.5l1.5 -5l1 -2l2.5 -2l4 -2.5l7 -2l7 0.5l4 0.5l5 2l2.5 1.5zM503 1415h2l4 0.5l7.5 3.5l-2.5 0.5l-5 -1l-5.5 -2.5z"/>
<path fill="#ffdada" d="M531.5 1183v2l-1 2l-3.5 4l-5.5 4l-17.5 10l-9.5 6l-9 7l-7.5 6.5l-7 8l-7 9.5l-15 25l-4 6l-3 3l-2 1l-2 0.5l-2 -0.5l-0.5 -5l1 -8l2.5 -9l4 -10l4.5 -8l5.5 -9l6.5 -8l7.5 -8l8 -7l8 -6l8 -5l9 -4.5l9 -3.5l10 -3l8 -1zM670 1317l1 4l-0.5 5l-1 7l-2 7l-5 13l-8 14l-9.5 13l-6 6l-6 5.5l-5 4l-6 3.5l-5 1.5l-2 0.5l-1 -0.5l-2.5 -6.5v-2l1.5 -3l3 -4l14.5 -15l7.5 -9l7 -11l11.5 -22l4.5 -7l3 -3l2 -1l3 -1zM513.5 1398l2.5 -2l3 -1.5l7 -1.5l7 1l8 3l3.5 3l1 2v4v1l3.5 3l1 1.5l1 4.5l-0.5 4l-1.5 1l-5 0.5l-14 -1l-6 -1l-5 -2.5l-2 -2l-1 -2l-0.5 -2l1 -4l-1 -2l-2.5 -4v-2z"/>
<path fill="#dadaff" d="M576.5 1184l1.5 -1h2l9 1l9 2.5l10 4l9 5l9 6l8 6.5l7 7l7 8l6.5 9l5 8l5 10l3.5 10l2 9l0.5 8l-0.5 2l-1 1.5h-2l-2 -1l-2 -1.5l-3 -3l-4 -6l-9 -16.5l-6 -10l-6 -8.5l-7 -8l-7.5 -7l-9 -7l-29.5 -19l-4.5 -5l-1 -2zM435 1313.5h2l2 0.5l2.5 2l2.5 2.5l4.5 7.5l12.5 24l7 11l9 10.5l17.5 17.5l2 4l1.5 8l3.5 6h-3l-7.5 -3l-8 -4l-7 -5l-6 -4.5l-6 -6l-6 -6.5l-5.5 -7l-5 -8l-4 -7l-4 -9l-3 -8l-2 -8l-1 -8l0.5 -7.5zM596.5 1400l0.5 2l-1 5l0.5 2l2.5 4l-0.5 1l-3.5 2l-9 3.5l-7 1.5l-8 0.5l-8 -0.5l-5 -0.5l-1.5 -0.5l-1 -1l-0.5 -4l1 -3l5.5 -5l1.5 -5l1.5 -2l5.5 -3.5l7 -2h7l8 2l2.5 1.5zM504 1416l1 -0.5l4 0.5l5.5 2l1.5 1l-2 0.5l-6 -1.5z"/>
<path fill="#ffd7d7" d="M529 1184v2l-1 2l-4.5 4l-29.5 18l-9 7l-7.5 7l-7.5 8l-6 8l-6 9l-9 16l-4 6l-4 3.5l-2 1h-2l-1 -1.5v-2l1 -8.5l2.5 -9.5l4 -9l4 -8l6 -9l6.5 -8l6.5 -7l7.5 -7l8 -6l8 -5l9 -5l9 -3.5l9 -2.5l8 -1h2zM669 1318l1 2v6l-1 7l-1.5 7l-5.5 13l-7.5 14l-10 13l-11.5 11l-5 4l-5 3l-5 2h-3l-1.5 -3l-1 -3v-2l1.5 -3l3.5 -4l13.5 -14l8 -10l7 -11l11 -21l4 -6l4 -4l2 -0.5zM514 1399l1.5 -2l2.5 -1.5l4 -1l4 -0.5l7 0.5l4 1.5l4 1.5l2 1.5l1.5 2l0.5 2l-0.5 3l0.5 1l4 3.5l1 1.5l1 4l-0.5 4l-1.5 1h-5l-14 -0.5l-6 -1l-4.5 -2.5l-2.5 -2l-1 -2v-2l0.5 -5l-3 -5z"/>
<path fill="#d7d7ff" d="M579.5 1184h5.5l7 1l9 3l9 4l8 4.5l8 5.5l8 6.5l7 7l6.5 7.5l6 8l5 8l4.5 9l3.5 9l2.5 9l1 8l-1 4l-2 0.5l-2 -1l-2.5 -1.5l-2.5 -3l-4 -6l-9 -16.5l-5 -8.5l-6 -8l-7 -8l-7 -7l-9 -7l-24.5 -16l-5.5 -4l-2.5 -3l-1.5 -2v-2zM435 1315.5h2l2 0.5l3 2l2 2.5l4 6.5l12 23l7 11l9 11l14.5 14l3.5 4l2 4l1 7l2.5 5h-2.5l-8 -3l-7 -4l-7 -5l-6 -5l-6 -6l-10.5 -13l-4.5 -7l-4.5 -8l-6 -14l-2 -8l-1 -7l-0.5 -6zM596 1400.5l0.5 1.5l-1 5l3 6l-0.5 1l-3.5 2l-9.5 3.5l-7 1.5l-9 0.5l-8 -0.5l-4 -1l-1.5 -1l-0.5 -3l1 -3.5l6 -5.5l1.5 -4l1.5 -2.5l2 -1.5l3 -2l7 -2h8l7 2l3 2zM504.5 1416l1.5 -0.5l2.5 0.5l5.5 2l1.5 1h-2.5l-4 -1z"/>
<path fill="#ffd4d4" d="M526 1184l0.5 1l-0.5 2l-3.5 4l-5.5 4l-24.5 15l-8.5 6.5l-7 6.5l-7 7.5l-6.5 8.5l-18.5 29.5l-4 4l-2 0.5h-2l-0.5 -5l1.5 -7l3 -9l4 -9l4.5 -8l5 -8l6 -7l6.5 -7l7 -6.5l7 -5.5l7.5 -5l7.5 -4l9 -4l9 -3l7 -1zM669 1320.5l1 3.5l-0.5 5l-1.5 7l-1.5 6l-5.5 13l-7.5 13l-9.5 12l-11 11l-5 3.5l-5 3l-4 1.5l-3 0.5l-1.5 -2.5l-1 -3l0.5 -2l1 -3l17 -17.5l8 -10l6.5 -10.5l10.5 -19.5l4 -6.5l4 -4l2 -0.5zM514.5 1399l2.5 -2l2 -1l7 -1.5h4l4 1l6.5 2.5l3 3l0.5 2v3l0.5 1l4.5 3.5l1 1.5l0.5 4l-0.5 4l-1 0.5l-5 0.5l-13 -0.5l-6 -1l-5.5 -2.5l-2 -2l-1 -2l-0.5 -2l1 -5l-2 -4l-0.5 -2z"/>
<path fill="#d4d4ff" d="M581.5 1185l1.5 -0.5h3l7.5 1.5l9 3l8.5 4l8 4.5l8 5.5l7 6l7 6.5l6.5 7.5l6 8l4.5 8l4.5 8l3.5 9l2 8l1 8v3l-0.5 1h-2.5l-2 -1l-4 -4l-17 -29l-6 -8.5l-7 -8l-7 -7l-8.5 -6.5l-28 -19l-4 -4l-1 -2zM436 1317l2 0.5l2 1l2 1.5l3 4l15 28l9 13l7 8l13.5 13l3.5 4l2 4l1.5 7l1 3v1l-4.5 -1l-5 -2l-7 -4l-6 -4l-6 -5.5l-5.5 -5.5l-11 -13l-5 -8l-4 -7l-3 -7l-3 -8l-2 -8l-1 -7l0.5 -6zM595.5 1401l-0.5 6l3 6l-0.5 1l-3 2l-9.5 3.5l-7 1.5h-9h-8l-4 -1l-1.5 -1l-0.5 -3l1 -3.5l2 -2l5 -3.5l2.5 -6l4.5 -3l7 -2h8l7 1.5l2 1.5zM505.5 1416h2l6.5 2l-1 1l-3 -1l-3.5 -1z"/>
<path fill="#ffd1d1" d="M523.5 1185v1l-0.5 2l-4 4l-28 18l-8 6l-7.5 7l-6.5 7l-6 8l-18 28.5l-4 3.5l-3 0.5l-0.5 -3.5l1.5 -8l3 -9l3 -6.5l4 -7.5l5 -7.5l6 -7.5l6.5 -7l6.5 -6.5l7 -5.5l7.5 -5l7.5 -4l8.5 -4l9 -3l6.5 -1.5zM668 1322.5l1 1.5v5l-1 6l-2 7l-5 12l-8 14l-9 11.5l-10.5 10.5l-5 4l-5 3l-4.5 1.5h-2l-1.5 -1.5l-0.5 -3v-2l1.5 -3l14.5 -15l7 -8.5l8.5 -12.5l13.5 -24.5l4 -4.5l2 -1.5zM515.5 1399l1.5 -1.5l2 -1l3 -1l4 -0.5l7 1l4 1l3 1.5l2 1.5l1 2v4l0.5 1l5.5 4l1 1.5l0.5 4.5l-0.5 3l-2 1h-5l-12 -0.5l-6 -1l-5 -2.5l-2.5 -2l-1 -2v-2l1.5 -5l-3 -5z"/>
<path fill="#d1d1ff" d="M584 1186l2 -0.5h2l7 1.5l6.5 2l9 4l8.5 5l7 4.5l7 6l7 6.5l6 7l6 7.5l5 8l4 7.5l3 7l3 9l1.5 8l-0.5 5h-2l-2 -1l-4 -4l-16.5 -28l-6.5 -9l-6 -7l-7 -6.5l-8 -6.5l-27.5 -19l-3.5 -4zM436 1319.5h2l2 1l4 4l4 6.5l11 21l9.5 14l7.5 8.5l13 12.5l3 3.5l2 3.5l2 9l-1 1l-4 -1l-6 -3l-6 -3.5l-5.5 -4.5l-11.5 -11l-9.5 -12l-8 -13l-6 -14l-2 -7l-1 -7l-0.5 -6zM595 1401l-0.5 6l3 6v1l-3.5 2l-9 3.5l-7 1l-9 0.5h-8l-3 -0.5l-2 -1.5l-0.5 -3l0.5 -3l2 -2l5.5 -4l2.5 -5.5l1.5 -1.5l2.5 -1.5l7 -2l7 -0.5l7 2l2 1zM507.5 1417l0.5 -0.5l2 0.5l3 1h-2z"/>
<path fill="#ffcece" d="M520.5 1186v1l-1 2l-3 3l-26.5 17.5l-8 6.5l-7 6.5l-6 6.5l-6.5 8l-17.5 27.5l-3 3l-3 0.5l-0.5 -1v-2l1.5 -8l2 -6l4 -9l4 -7l5 -7.5l6 -7.5l5.5 -6l13 -11l7 -5l7 -4l8.5 -4l8.5 -3l6.5 -1.5zM668 1325l0.5 3l-0.5 4.5l-3 11.5l-6 13l-7 12l-9 11l-10 10l-9 6l-4 2h-2l-1.5 -2l-0.5 -2v-2l2 -3l15 -16l8 -10l6.5 -10l9.5 -17.5l4 -6l4 -4l2 -1zM516.5 1399l1.5 -1.5l3 -1l6 -1l7 1l5.5 2.5l1.5 1l1 2v4l1 1l5 3l1.5 2l1 4l-0.5 4l-1 0.5l-4 0.5l-14 -0.5l-6 -1l-5 -2.5l-2 -2l-1 -2v-2l1.5 -5l-2.5 -5z"/>
<path fill="#ceceff" d="M587 1187l1 -0.5h2l7.5 1.5l8 3l7.5 3.5l7 4.5l7 5l7 6l6.5 6l5.5 6.5l6 8l5 7.5l4 8l4 9.5l2 7.5l1 6l-1 2.5l-3 -0.5l-4 -4.5l-16 -26.5l-6 -8l-6 -7l-7 -7l-8 -6.5l-26 -18.5l-3 -3zM436 1322l1 -1l2 0.5l4 3.5l4 6.5l11 20.5l7 11l9 10.5l14 13.5l3 3.5l2 4.5l1.5 7l-0.5 1l-3 -0.5l-5 -2.5l-5.5 -3l-5.5 -4l-11 -10l-10 -12l-8 -13l-6 -13l-2.5 -7l-1.5 -8l-0.5 -5zM594 1401v6l3.5 6l-0.5 1l-3 2l-9 3.5l-7 1l-17 0.5l-3 -0.5l-2 -1.5l-0.5 -3l0.5 -3l2 -2l6.5 -4l2 -5l2.5 -2l2 -1l6 -2l7 -0.5l6 1.5l2 1z"/>
<path fill="#ffcaca" d="M517 1187v1l-1 2l-3 3l-25 17l-7 5.5l-7 6.5l-6.5 7l-5.5 7l-16 24.5l-4 4l-2 0.5l-0.5 -1v-2l1.5 -7l3 -8l3 -6l4 -7l5 -7l11 -13l6.5 -6l6.5 -5l12.5 -8l6 -3l7.5 -3l7 -2zM667 1327.5l0.5 2.5l-0.5 4l-3 11.5l-5 11l-7 11.5l-9 11.5l-9.5 9.5l-8.5 6.5l-4 1.5h-2l-1.5 -2v-2l0.5 -2l1 -2l14 -14.5l6.5 -7.5l8 -12l12.5 -22l4 -4.5zM517 1399.5l1 -1l2 -1l6 -1.5l7 1l5.5 2l1.5 1l1 2v3l1 2l6 3.5l1.5 1.5l1 4l-0.5 4l-1 0.5l-4 0.5l-13 -0.5l-7 -1l-4.5 -2.5l-2.5 -2l-1 -2l0.5 -3l1.5 -4l-2 -4z"/>
<path fill="#cacaff" d="M590 1188l3 -0.5l6 1.5l8 3l7.5 4l6.5 4l7 5l7 6l6 6l6 7l5 7l8 13.5l4 9.5l2 6.5l1 6.5v1l-1 1l-3 -1.5l-3 -3l-15.5 -25.5l-6 -8l-5.5 -6.5l-6.5 -6.5l-7.5 -6l-24.5 -18l-3 -3zM437 1323.5l3 1l4 4l14.5 25.5l8.5 13l7 8l12.5 12l3.5 4l2 5l1 5l-1 1l-3.5 -1l-5.5 -3l-10 -7l-11 -10.5l-9 -11.5l-7.5 -12l-5.5 -13l-2 -6.5l-1.5 -6.5v-5zM593 1401l0.5 2l-0.5 3l4 7l-0.5 1l-3 2l-8.5 3.5l-8 1h-16l-3.5 -0.5l-1.5 -1.5l-0.5 -3.5l1.5 -3l8 -5l1 -1l1.5 -4l3.5 -2.5l6 -2l7 -0.5l6 1.5l2 1z"/>
<path fill="#ffc7c7" d="M513 1189l-1 2l-3 3l-22 15.5l-7 5.5l-6.5 6l-6.5 7l-5.5 7l-15.5 23l-3 3l-2 0.5l-0.5 -2.5l1.5 -5.5l3 -7.5l3 -6l4 -6.5l5 -7.5l9.5 -11l11.5 -10l7 -5l6.5 -4l5.5 -3l7.5 -3l7.5 -2zM666 1330.5l0.5 1.5v4l-3.5 11l-5 11l-7 11l-8 10l-10 10l-8 6l-3 1h-2l-0.5 -1l-0.5 -2l0.5 -2l1 -2l13.5 -14.5l6.5 -7.5l7 -10l12.5 -21.5l3 -4zM517.5 1400l2.5 -2l6 -1.5l6 0.5l5 2l2 1.5l1 1.5l0.5 4l2.5 2l5 2.5l1.5 1.5l1 4l-0.5 3.5l-1 1l-4 0.5l-13 -0.5l-6 -1l-5.5 -2.5l-2 -2l-1 -3v-2l2.5 -4l-0.5 -1l-1.5 -3z"/>
<path fill="#c7c7ff" d="M594 1189h3l6.5 2l6.5 3l7.5 4l12.5 9l11 10.5l10 12.5l8 13.5l3 6.5l3 8.5l1 6.5l-1 1l-2 -1l-3 -3l-15 -24l-5.5 -7l-6 -7l-6.5 -6.5l-7 -6l-22 -16.5l-3 -3l-1 -2zM438 1326h1l2 1l3 3.5l14 24.5l8 12l7 8l16 16l1 2l1 3v4.5h-1l-2 -0.5l-4 -1.5l-5.5 -3.5l-5 -4l-10.5 -10l-9 -11l-7 -11.5l-6 -12.5l-2 -6l-2 -8v-5zM596.5 1413l-0.5 1l-1 1l-5 2.5l-6 2l-6 1l-10 0.5l-8 -0.5l-3 -1l-0.5 -0.5l-1 -2l0.5 -3l1 -1.5l2 -2l6.5 -3.5l1 -1l1.5 -3l1.5 -2l4 -2l5.5 -1.5l7 0.5l3 0.5l2.5 1.5l1 2v4z"/>
<path fill="#ffc4c4" d="M508 1190l0.5 1l-0.5 1l-3 3l-21 15l-12 11l-10.5 12l-14.5 21l-3 3l-1 0.5l-1 -0.5l2 -7.5l6 -12l7 -10.5l10 -11.5l9 -8.5l11 -8l11.5 -6l5 -2zM665 1333.5l0.5 1.5l-0.5 4l-3 9.5l-5 10.5l-7 11l-7 8.5l-8 8.5l-8 6l-4 2h-1.5l-0.5 -1l-0.5 -2l1.5 -3l13 -14l6 -7l7.5 -11l11.5 -19l3 -3.5zM518.5 1400l1 -1l2 -1l5.5 -1l6 1l4 1.5l2 2.5l0.5 4l8.5 5l1.5 1l1 4l-0.5 3.5l-1 1l-3 0.5l-13 -0.5l-7 -1l-5 -2.5l-2.5 -2l-1 -3l0.5 -2l2.5 -4v-1l-2 -3z"/>
<path fill="#c4c4ff" d="M598 1191l2 -0.5l4.5 1.5l6.5 3l7 4l11 8l11 10l10 12l8 13l4 9l2 6l0.5 4l-0.5 1.5l-2 -1l-3 -3.5l-14.5 -22l-10.5 -13l-12 -11.5l-20.5 -15.5l-3 -3zM438 1329l1 -0.5l2 1l3 3.5l13.5 23l8.5 12.5l6.5 7.5l15 15l1.5 2.5l1 2.5l-0.5 3l-0.5 0.5l-2.5 -0.5l-4 -2l-10 -7l-9.5 -9.5l-8 -10l-7 -10.5l-6 -12.5l-3.5 -10.5l-0.5 -5zM596 1413v1l-1 1l-5 2.5l-6 2l-6 1l-10 0.5l-8 -0.5l-3 -1l-1.5 -2.5l0.5 -2.5l1 -2l3 -2l6.5 -3.5l1 -1l1.5 -3l1.5 -2l3.5 -1.5l5 -1.5l6 0.5l3 0.5l2.5 1l1.5 2l-0.5 4l4 5z"/>
<path fill="#ffc1c1" d="M502.5 1193l-1 2l-2.5 2l-17 13l-11 10l-9.5 11l-12.5 17.5l-2 2l-2 1.5v-2l1 -3.5l6 -11.5l7 -10l8 -9l10 -9l8 -6l10.5 -6l5 -2zM664 1338v2.5l-1 4l-3 7.5l-6 11l-6 9l-7 8l-8 8l-7 5l-2 0.5l-1 -0.5v-2l1.5 -3l17 -19l7 -10l10.5 -17l3 -3.5zM520 1400l1 -1l2 -1l4 -0.5l5 1l4.5 1.5l1.5 2l0.5 3l0.5 1l10 6l1.5 3l-0.5 4.5l-1 1h-3h-13l-7 -1l-5 -2.5l-2 -2l-1.5 -3l0.5 -2l3 -4v-1l-1.5 -3z"/>
<path fill="#c1c1ff" d="M603 1193h1.5l5.5 2l12 7l9 7l9 8.5l8 9.5l7 10.5l6 12.5l2 7.5l-1 0.5l-1 -1l-2 -1.5l-14.5 -21.5l-9.5 -12l-10 -9.5l-19.5 -15.5l-2 -2zM439 1332h1l2 1l3 3.5l12.5 21.5l8 11l6.5 7.5l14 14.5l2 4v3h-2l-3 -1l-4.5 -3l-5.5 -4l-9 -9l-9 -11l-7 -11l-5 -10l-2 -5.5l-2 -7zM596 1413l-0.5 1l-1 1l-4.5 2l-6 2.5l-6 1l-10 0.5l-8 -0.5l-3 -1l-1 -2.5l0.5 -3l1.5 -2l9 -5l1.5 -1l2 -4l1.5 -1l3 -1.5l4 -1l7 0.5l4 1.5l1 1.5v4l4 5z"/>
<path fill="#ffbebe" d="M493 1198l-2.5 3l-12.5 10l-8.5 8l-6 7l-10.5 13.5l-3 3l-0.5 -0.5l0.5 -2l4 -7l5 -7l7 -8l6 -6l7 -6l9 -6l4 -2zM661.5 1344v1l-0.5 3l-3 7l-4 7l-6 9l-7 8.5l-6.5 6.5l-6.5 5h-2l0.5 -2l1 -2l15 -17l6 -8l9.5 -15l2 -2.5zM521 1400l2 -1l4 -0.5h4l4 1.5l2 2v3l1 1l9 4.5l2 1.5l1 3v4.5l-1 0.5l-3 0.5h-12l-7 -1l-6 -2.5l-2 -2l-1 -3l0.5 -2l3.5 -4v-1l-1.5 -3v-1z"/>
<path fill="#bebeff" d="M610 1196.5l2 0.5l4 2l9 6l8.5 7l7.5 7.5l7 8.5l6 9l5 10l1 3v1.5l-2 -1l-2 -2.5l-10.5 -15l-8 -10l-9.5 -9.5l-16 -13.5l-2.5 -3zM440 1335.5h1l1 0.5l3 3l12.5 21l7.5 10l6 7l13.5 14l1.5 3v3h-1l-4 -2l-8.5 -6l-8.5 -8.5l-8 -9.5l-6 -9l-5 -9.5l-4 -10.5l-1 -4zM595.5 1413v1l-1 1l-4 2l-6.5 2.5l-6 1l-10 0.5l-8 -0.5l-3 -1l-1 -2.5l0.5 -3l1.5 -2l10 -5l1 -1l3 -4l1 -1l3 -1l4 -1l5 0.5l2.5 0.5l1.5 1l1 1l0.5 4l3.5 4z"/>
<path fill="#ffbaba" d="M655 1357v1.5l-2 3.5l-6 9l-8 9.5l-5 4.5h-0.5l12 -15zM522 1401l1 -1l4 -1l4 0.5l4 1.5l0.5 1l0.5 3l1 1l10 4.5l2 1.5l1 3v4l-1 1l-3 0.5h-12l-7 -1l-5.5 -2.5l-2 -2l-1.5 -3l1 -2.5l4 -3.5v-1l-1 -3z"/>
<path fill="#babaff" d="M623.5 1206h1.5l5 4l10 9.5l7 8.5l4 6l1.5 3l-0.5 0.5l-14 -17.5zM442 1340l2 1l2 2.5l10.5 16.5l7 10l6 7l12.5 13l2 3l-0.5 2h-1.5l-2 -1l-8 -6l-8 -8l-6 -7l-7 -10l-5 -9.5l-4 -10zM595 1413v1l-1 1l-4 2l-6 2l-6 1.5l-10 0.5l-8 -0.5l-3 -1.5l-1 -2l0.5 -3l2.5 -2.5l9.5 -4.5l1.5 -1l3 -4l1.5 -1l5.5 -1.5l5 0.5l3 1l1 1l0.5 4l4 4z"/>
<path fill="#ffb7b7" d="M518.5 1411l1.5 -2l4.5 -4l-1.5 -3l0.5 -1l2.5 -1.5l5 0.5l2 1l1 1l0.5 3l1.5 1l10 4.5l3 2l1 2.5v4l-1 1l-6 0.5h-9l-7 -1l-3.5 -1.5l-3 -2l-1.5 -2z"/>
<path fill="#b7b7ff" d="M445 1346.5l3 3l9.5 14.5l5 7l16.5 18l1 2v1.5l-3 -1.5l-6.5 -5l-6.5 -7l-6 -7l-5 -7l-5 -8.5l-3 -7l-0.5 -2.5zM595 1413l-0.5 1l-0.5 1l-5 2.5l-6 2l-6 1l-10 0.5l-7 -0.5l-3 -1.5l-1 -2l0.5 -3l2.5 -2.5l12 -5.5l2.5 -3l1.5 -1.5l5 -1h4l3 1l1 1.5l0.5 3l4.5 3.5z"/>
<path fill="#ffb4b4" d="M519 1411l2 -2.5l5 -3.5v-1l-1 -2l0.5 -1l2.5 -0.5l2 0.5l2 1l1 3l11 4.5l4.5 2.5l1.5 2.5v4l-1 1.5l-5 0.5h-9l-7 -1l-4.5 -1.5l-3 -2l-1.5 -2z"/>
<path fill="#b4b4ff" d="M594.5 1413l-1 2l-4 2l-6.5 2.5l-6 1h-10l-7 -0.5l-3 -1l-0.5 -2l0.5 -3l2 -2l11 -5l3.5 -2l2.5 -3l4 -1h3.5l2.5 1l2 4l5 4z"/>
<path fill="#ffafaf" d="M519 1411l2 -2.5l4 -2l3 -1h3l10 3l7 3l1.5 2.5l0.5 4.5l-1 1.5l-5 0.5h-9l-7 -1l-4 -1.5l-3 -2l-1.5 -2z"/>
<path fill="#afafff" d="M594.5 1413l-1 2l-4 2l-6.5 2.5l-6 1h-9h-7l-3.5 -1.5l-1 -2l0.5 -3l2 -2l14 -6l4 -3l3 -1l4 0.5l3 3.5l5.5 4z"/>
<path fill="#ffa9a9" d="M519.5 1412v-1l1.5 -2l3 -1.5l4 -1h5l10 3l5 2.5l1.5 2l0.5 4l-1 1.5l-4 1h-9l-7 -1l-4 -1l-3 -2l-2.5 -2.5z"/>
<path fill="#a9a9ff" d="M594 1413l-1 2l-4 2l-6 2l-6 1.5h-9l-7 -0.5l-3.5 -1l-1 -2l1 -3l2.5 -2.5l5 -2l14 -4.5l4 0.5l7 3l3 2.5z"/>
<path fill="#ffa3a3" d="M519.5 1412l1.5 -2l4 -2.5l5 -0.5l5 0.5l7 2l6 2.5l1.5 2l0.5 4l-1 1.5l-4 1h-8l-7 -1l-4 -1l-3 -1.5l-2.5 -2z"/>
<path fill="#a3a3ff" d="M593.5 1413l-1 2l-3.5 2l-7 2.5l-5 0.5l-9 0.5l-7 -0.5l-3 -1l-1 -2l0.5 -3l3.5 -2.5l8 -3l9 -2h5l6 2l3 2z"/>
<path fill="#ff9c9c" d="M520 1412l0.5 -1l1.5 -1.5l5 -2h5l5 1l7 2l4 2l1 1l0.5 1.5v3l-0.5 1.5l-4 1h-8l-7 -1l-4 -1l-3 -1.5l-2.5 -3z"/>
<path fill="#9c9cff" d="M593 1413l-1 2l-3.5 2l-6.5 2l-5 1l-9 0.5l-7 -0.5l-3 -1l-1 -2l1 -3l3 -2.5l9 -3l7 -1.5h6l5 1.5l3 1.5z"/>
<path fill="#ff9696" d="M520.5 1412l1.5 -2l4 -2h5l6 0.5l7 2l4 2l1.5 2.5v3l-0.5 1l-1 0.5l-3 0.5l-8 0.5l-7 -1l-4.5 -1.5l-3 -2l-1.5 -2z"/>
<path fill="#9696ff" d="M557.5 1417v-2l0.5 -1l3 -2l7 -2.5l9 -2h5l5 1l4 2.5l1.5 2l-1 2l-3.5 2l-6 2l-5 1l-8 0.5l-7.5 -0.5l-3 -1z"/>
<path fill="#ff8f8f" d="M521 1412l1.5 -2l3.5 -1.5l5 -0.5l5 0.5l7 2l5 2.5l1.5 2v3l-0.5 1l-1 0.5l-4 0.5h-7l-7 -0.5l-4 -1.5l-3.5 -2l-1.5 -2z"/>
<path fill="#8f8fff" d="M592 1413l-1 2l-3.5 2l-5.5 2l-5 1l-8 0.5l-7 -0.5l-3 -1l-1.5 -2l0.5 -2l0.5 -1l3.5 -2.5l7 -2l8 -1.5h5l5 1l3 1.5z"/>
<path fill="#ff8989" d="M521 1412l2 -2l4 -1.5h5l6 0.5l5 1.5l5 2.5l1 2l0.5 3l-1.5 1.5l-4 0.5h-7l-7 -1l-3.5 -1l-3.5 -2l-1.5 -2z"/>
<path fill="#8989ff" d="M557.5 1417l0.5 -2l0.5 -1l2.5 -1.5l5 -2l9 -2l6 -0.5l5 1l4 2l1.5 2l-1 2l-3 2l-5.5 2l-5 1l-7 0.5l-7 -0.5l-4 -1z"/>
<path fill="#ff8383" d="M521.5 1412l2.5 -2l4 -1l5 -0.5l5 1l6 1.5l3.5 2l1.5 2v3l-1 1.5l-4 0.5h-7l-6 -0.5l-4.5 -1.5l-3 -2l-1.5 -2z"/>
<path fill="#8383ff" d="M558 1417l0.5 -2l2.5 -2.5l6 -2.5l8 -1.5h6l5 0.5l3.5 2l1.5 2l-1 2l-3 2l-5 2l-5 0.5l-7 0.5h-7l-3.5 -1z"/>
<path fill="#ff7c7c" d="M522 1412l2 -2l3 -1h5l6 0.5l6 2l3 1.5l2 2v3l-1 1l-4.5 1h-6.5l-6 -1l-4 -1l-3.5 -2l-1.5 -2z"/>
<path fill="#7c7cff" d="M590.5 1413l-0.5 2l-3.5 2l-4.5 1.5l-5 1l-7 0.5h-7l-3.5 -1l-1.5 -2v-1l1 -1.5l3 -2.5l5 -1.5l8 -1.5l6 -0.5l5 1l3 1.5z"/>
<path fill="#ff7676" d="M522 1413l1 -2l3 -1.5l4 -0.5l6 0.5l5 1l5 2l2 1.5l1 1.5v1.5l-1 2l-3 1h-6l-6 -0.5l-4 -1l-3.5 -1.5l-2.5 -2z"/>
<path fill="#7676ff" d="M590 1413l-0.5 2l-3 2l-4.5 1.5l-5 1l-7 0.5l-7 -0.5l-3 -0.5l-1 -1l-0.5 -1l0.5 -2.5l3 -2l5 -2l7 -1.5h6l5 0.5l3.5 1.5z"/>
<path fill="#ff7070" d="M522.5 1413l1 -2l3.5 -1.5l4 -0.5l5 0.5l5 1l5 2l2 1.5l1 3l-1.5 2l-2.5 0.5l-6 0.5l-6 -0.5l-4 -1l-3 -1.5l-2.5 -2z"/>
<path fill="#7070ff" d="M558.5 1417l0.5 -2l3 -2.5l6 -2l6 -1l6 -0.5l5 0.5l3 1.5l1.5 2l-0.5 2l-3 2l-4 1.5l-5 1l-8 0.5l-6 -0.5l-2.5 -0.5l-1.5 -1z"/>
<path fill="#ff6969" d="M523 1413l1 -2l3 -1l4 -0.5l5 0.5l6 1l4 2l2.5 2l0.5 2l-0.5 1l-1 1l-2.5 0.5l-6 0.5l-6 -0.5l-4 -1l-3 -1.5l-2.5 -2z"/>
<path fill="#6969ff" d="M559 1417l0.5 -2l2.5 -2l6 -2.5l6 -1l5 -0.5l5 0.5l3.5 1.5l2 2l-1 2l-3 2l-4.5 1.5l-4 1l-7 0.5l-6 -0.5l-3 -0.5l-1.5 -1z"/>
<path fill="#ff6363" d="M523 1413l0.5 -1l1 -1l2.5 -1l4 -0.5l5 0.5l6 1.5l4 1.5l2 2l0.5 2v1l-1.5 1l-2 0.5l-6 0.5l-6 -1l-6.5 -2l-2.5 -2z"/>
<path fill="#6363ff" d="M559 1417l0.5 -2l2.5 -2l5 -2l7 -1.5h5l5 0.5l3 1l2 2l-0.5 2l-3 2l-8.5 2.5l-7 0.5l-6 -0.5l-3 -0.5l-1.5 -1z"/>
<path fill="#ff5c5c" d="M523.5 1413l0.5 -1l1 -1l3 -1l4 -0.5l5 0.5l5 1.5l3.5 1.5l2.5 2l0.5 2l-0.5 1l-1 1l-3 0.5h-5l-6 -0.5l-4 -1l-3 -1.5l-2 -1.5z"/>
<path fill="#5c5cff" d="M559.5 1417l0.5 -2l3 -2.5l6 -2l5 -0.5l5 -0.5l5 0.5l3 1.5l1.5 1.5l-0.5 2l-1 1l-4.5 2l-5.5 1l-7 1l-6 -0.5l-3 -1z"/>
<path fill="#ff5656" d="M524 1413l1 -1.5l3 -1.5h4l5 0.5l5 1l3.5 1.5l2 2l0.5 2l-1 1.5l-3 1h-5l-6 -0.5l-3.5 -1l-3.5 -1.5l-1.5 -1.5z"/>
<path fill="#5656ff" d="M588 1413l-0.5 2l-1 1l-4.5 2l-5 1l-7 0.5h-6l-3 -1l-1.5 -1.5l0.5 -2l2.5 -2l4.5 -1.5l6 -1.5h5h5l3 1z"/>
<path fill="#ff5050" d="M524 1413l1 -1.5l3 -1l4 -0.5l5 0.5l4 1l4 1.5l2.5 2l0.5 2l-1 1.5l-3 1h-5l-5.5 -0.5l-6.5 -2l-2 -2z"/>
<path fill="#5050ff" d="M588 1413l-0.5 2l-1.5 1l-4.5 2l-4.5 1l-6 0.5h-6l-3 -0.5l-1.5 -1l-0.5 -1l0.5 -2l2.5 -2l4 -1.5l6 -1l5 -0.5l5 0.5l3 1z"/>
<path fill="#ff4949" d="M524.5 1413l1.5 -1.5l3 -1l4 -0.5l4 0.5l4 1l4 1.5l2.5 2l0.5 2l-1 1l-3 1.5h-5l-5 -0.5l-4 -1l-3 -1.5l-2 -1.5z"/>
<path fill="#4949ff" d="M560 1417l0.5 -2l2.5 -2l4 -1.5l6 -1l5 -0.5l5 0.5l3 1l1.5 1.5v1l-0.5 1l-1 1l-5 2l-4 1l-6 0.5h-6l-3 -1l-1 -0.5z"/>
<path fill="#ff4343" d="M525 1413l1 -1.5l3 -1h4l4 0.5l4 0.5l4 2l2 1.5l0.5 2l-0.5 1l-3 1l-5 0.5l-4.5 -0.5l-4 -1l-3.5 -1.5l-1.5 -1.5z"/>
<path fill="#4343ff" d="M560.5 1417l0.5 -2l2 -1.5l4 -1.5l6 -1.5l5 -0.5l4 0.5l3 1l2 1.5v1l-0.5 1l-1 1l-4.5 2l-4.5 1l-5.5 0.5h-6l-3 -1z"/>
<path fill="#ff3d3d" d="M525 1413l1 -1l3 -1l4 -0.5l4 0.5l4 1l4 1.5l2 1.5l0.5 2l-1 1l-2.5 1l-5 0.5l-5 -0.5l-3.5 -1l-3.5 -2l-1.5 -1z"/>
<path fill="#3d3dff" d="M560.5 1417l0.5 -2l3 -2l5 -1.5l5 -1h5l4.5 0.5l2 1l1 1l0.5 1l-2 2l-2 1l-8 2l-6 0.5l-5 -0.5l-2.5 -1z"/>
<path fill="#ff3636" d="M525.5 1413l1.5 -1.5l3 -0.5l4 -0.5l4 0.5l4 1.5l3 1l1.5 1.5l0.5 2l-0.5 1l-2.5 1l-5 0.5l-5 -1l-4 -1l-3 -1.5l-1.5 -2z"/>
<path fill="#3636ff" d="M561 1417l0.5 -2l2.5 -2l5 -1.5l5 -1h5l4 0.5l2.5 1l0.5 1l0.5 1l-1.5 2l-2 1l-8 2l-6 0.5l-4.5 -0.5l-3 -1z"/>
<path fill="#ff3030" d="M526 1413l1 -1l3 -1h4l4 0.5l4 1l3 1.5l1.5 1l0.5 2l-1 1l-3 1h-5l-4 -0.5l-4 -1l-2.5 -1.5l-2 -2z"/>
<path fill="#3030ff" d="M561 1417v-1l0.5 -1l2.5 -1.5l5 -2l5 -0.5l5 -0.5l4 1l2 0.5l1 1v1l-1.5 2l-2 1l-8 2h-9.5l-3 -1z"/>
<path fill="#ff2929" d="M526 1413l1 -1l3 -1h4l4 0.5l4 1l3 1.5l1 1l0.5 2l-0.5 1l-3.5 1h-4.5l-4 -0.5l-4 -1l-2.5 -1.5l-1.5 -2z"/>
<path fill="#2929ff" d="M585.5 1414l-1.5 2l-2 1l-8 2h-8.5l-3 -1l-1 -1v-1l0.5 -1l2 -1.5l4 -1.5l5 -1h5h4l2.5 1l1 1z"/>
<path fill="#ff2323" d="M526.5 1413l1.5 -1l3 -1l7 0.5l4 1l2.5 1.5l1.5 1.5l0.5 1.5l-1.5 1l-3 1l-8 -0.5l-3 -1l-3 -1.5l-1.5 -2z"/>
<path fill="#2323ff" d="M585.5 1414l-1.5 2l-2 1l-8 2h-8l-3.5 -1l-0.5 -1l-0.5 -1l0.5 -1l2 -1.5l4 -1l5 -1l5 -0.5l4 0.5l2 0.5l1 1z"/>
<path fill="#ff1d1d" d="M526.5 1414l0.5 -1l2 -1.5l4 -0.5l4 0.5l4 1l3.5 1.5l1.5 1.5v1.5l-1 1l-2 0.5h-7l-6 -1.5l-2 -1z"/>
<path fill="#1d1dff" d="M562 1417v-1l0.5 -1l1.5 -1l4 -1.5l5 -1l5 -0.5l4 0.5l2 1l1 1.5l-1.5 2l-2 1l-6.5 1.5l-8 0.5l-4 -1z"/>
<path fill="#ff1616" d="M527 1414v-1l1 -0.5l2 -1h7l4 1l3 1.5l2 2v1l-1 1l-3 0.5h-7l-5 -1.5l-2.5 -2z"/>
<path fill="#1616ff" d="M562 1416l1 -1l3 -2l8 -1.5h4l4 0.5l2.5 1v1l-1.5 2l-2 1l-3 1l-5 1h-4l-4 -0.5l-2 -1l-0.5 -0.5z"/>
<path fill="#ff1010" d="M527 1414l0.5 -1l2.5 -1l3 -0.5l4 0.5l4 1l3 1l1 1l0.5 1v1l-1 1l-2.5 0.5h-7l-5 -2l-2.5 -1.5z"/>
<path fill="#1010ff" d="M562.5 1416l0.5 -1l3 -1.5l8 -2h7l3 1.5l0.5 1l-0.5 1l-1 1l-2 1l-8 1.5l-4 0.5l-4 -0.5l-2 -1z"/>
<path fill="#ff0a0a" d="M527.5 1414l0.5 -1l2 -1l3 -0.5l4 0.5l6.5 2l1.5 1.5l0.5 1.5l-1.5 1l-2 0.5l-7 -0.5l-5 -1.5l-2 -1.5z"/>
<path fill="#0a0aff" d="M563 1416l0.5 -1l2.5 -1.5l8 -2l7 0.5l2.5 1l0.5 1l-0.5 1l-1 1l-2 1l-7.5 1.5h-4l-4 -0.5l-2 -1z"/>
<path fill="#ff0303" d="M528 1414l0.5 -1l2 -1h6.5l6 2l2 2v1l-1.5 1l-2.5 0.5l-6 -0.5l-5.5 -2z"/>
<path fill="#0303ff" d="M563 1416l1 -1l3 -1.5l7 -1.5h6.5l2.5 1l0.5 1v1l-1.5 1l-2 1l-7 1.5h-4l-4 -0.5l-1.5 -1z"/>
<path fill="#ff0000" d="M528 1414l0.5 -1l2.5 -1h5l6 1.5l2.5 1.5l0.5 1l-0.5 1l-1.5 1l-6 0.5l-5.5 -1.5l-2 -1z"/>
<path fill="#0000ff" d="M583 1414v1l-1 1l-2.5 1l-6.5 1.5h-4l-4 -0.5l-1.5 -1v-1l0.5 -1l3 -1.5l7 -1.5h6l2.5 1z"/>
</g>
<linearGradient id="bwr912" x1="0" y1="0" x2="0" y2="1"><stop offset="0" stop-color="#ff0000"/><stop offset="0.5" stop-color="#ffffff"/><stop offset="1" stop-color="#0000ff"/></linearGradient>
<rect x="912.4" y="1017.5" width="66.5" height="600.4" fill="url(#bwr912)" stroke="#000" stroke-width="1.3"/>
<path d="M912.4 1092.17h10.5M978.9 1092.17h-10.5M912.4 1167.25h10.5M978.9 1167.25h-10.5M912.4 1242.33h10.5M978.9 1242.33h-10.5M912.4 1317.4h10.5M978.9 1317.4h-10.5M912.4 1392.47h10.5M978.9 1392.47h-10.5M912.4 1467.55h10.5M978.9 1467.55h-10.5M912.4 1542.62h10.5M978.9 1542.62h-10.5" stroke="#000" stroke-width="1.1" fill="none" opacity="0.8"/>
<text x="1017.38" y="1048.39" font-size="54" font-family='"DejaVu Sans","Bitstream Vera Sans",Verdana,sans-serif'>40</text>
<text x="1015.88" y="1115.89" font-size="54" font-family='"DejaVu Sans","Bitstream Vera Sans",Verdana,sans-serif'>30</text>
<text x="1016" y="1186.29" font-size="54" font-family='"DejaVu Sans","Bitstream Vera Sans",Verdana,sans-serif'>20</text>
<text x="1016.62" y="1261.49" font-size="54" font-family='"DejaVu Sans","Bitstream Vera Sans",Verdana,sans-serif'>10</text>
<text x="1016.8" y="1335.69" font-size="54" font-family='"DejaVu Sans","Bitstream Vera Sans",Verdana,sans-serif'>0</text>
<text x="994.67" y="1408.99" font-size="54" font-family='"DejaVu Sans","Bitstream Vera Sans",Verdana,sans-serif'>-10</text>
<text x="994.67" y="1483.69" font-size="54" font-family='"DejaVu Sans","Bitstream Vera Sans",Verdana,sans-serif'>-20</text>
<text x="994.67" y="1560.69" font-size="54" font-family='"DejaVu Sans","Bitstream Vera Sans",Verdana,sans-serif'>-30</text>
<text x="994.67" y="1631.29" font-size="54" font-family='"DejaVu Sans","Bitstream Vera Sans",Verdana,sans-serif'>-40</text>
<path d="M360.6 1623.3v-6.5M360.6 1013.9v6.5M551 1623.3v-6.5M551 1013.9v6.5M741.8 1623.3v-6.5M741.8 1013.9v6.5M246.4 1051.9h6.5M855.6 1051.9h-6.5M246.4 1242.7h6.5M855.6 1242.7h-6.5M246.4 1433.8h6.5M855.6 1433.8h-6.5" stroke="#000" stroke-width="1.8" fill="none"/>
<rect x="246.4" y="1013.9" width="609.2" height="609.4" fill="none" stroke="#000" stroke-width="2.2" stroke-linejoin="round"/>
<path d="M249.5 1421.5L856.6 1421.5" stroke="#000" stroke-width="2.6" fill="none"/>
<text x="262.25" y="1083.65" font-size="85" font-family='"DejaVu Sans","Bitstream Vera Sans",Verdana,sans-serif'>C</text>
<text x="556.37" y="1083" font-size="54.4" font-family='"DejaVu Sans","Bitstream Vera Sans",Verdana,sans-serif'>λ=442 nm</text>
<text x="258.25" y="1407.2" font-size="54" font-family='"DejaVu Sans","Bitstream Vera Sans",Verdana,sans-serif' letter-spacing="0.5">air</text>
<text x="259.4" y="1472.05" font-size="54" font-family='"DejaVu Sans","Bitstream Vera Sans",Verdana,sans-serif' letter-spacing="1.6">Si</text>
<text x="842.92" y="970.8" font-size="54" font-family='"DejaVu Sans","Bitstream Vera Sans",Verdana,sans-serif'>ρ [C/m<tspan dy="-21.06" font-size="37.8">3</tspan><tspan dy="21.06">]</tspan></text>
<text transform="translate(113.6 1394.15) rotate(-90)" font-size="53.3" font-family='"Liberation Sans",Arial,Helvetica,sans-serif' letter-spacing="0.8">z [nm]</text>
<text x="478.5" y="1742.1" font-size="53.3" font-family='"Liberation Sans",Arial,Helvetica,sans-serif' letter-spacing="0.42">y [nm]</text>
<text x="173.97" y="1072.44" font-size="55" font-family='"Liberation Sans",Arial,Helvetica,sans-serif'>20</text>
<text x="173.97" y="1262.14" font-size="55" font-family='"Liberation Sans",Arial,Helvetica,sans-serif'>10</text>
<text x="204.6" y="1452.94" font-size="55" font-family='"Liberation Sans",Arial,Helvetica,sans-serif'>0</text>
<text x="141.85" y="1643.84" font-size="55" font-family='"Liberation Sans",Arial,Helvetica,sans-serif'>−10</text>
<text x="298.4" y="1686.1" font-size="55" font-family='"Liberation Sans",Arial,Helvetica,sans-serif'>−10</text>
<text x="535.99" y="1686.1" font-size="55" font-family='"Liberation Sans",Arial,Helvetica,sans-serif'>0</text>
<text x="711.58" y="1686.1" font-size="55" font-family='"Liberation Sans",Arial,Helvetica,sans-serif'>10</text>
</g>
<g id="panelD">
<clipPath id="clip2368"><rect x="1357.1" y="1011" width="609.7" height="609.8"/></clipPath>
<g clip-path="url(#clip2368)">
<path fill="#fffcfc" d="M1650 1176.5l3.5 1.5l1.5 2l-0.5 6l-2 5l-2.5 4l-4 4l-9 8l-15.5 12l-4 4l-3.5 4l-5 8.5l-13 26.5l-4 9.5l-2.5 8.5l-2 8l-0.5 9l0.5 9l1.5 9l2 7l3 8l4 8l7 12l1.5 5l-0.5 2l-1 2l-8 9.5l-1.5 2.5l-1 3v3l0.5 4l5 12l-0.5 6l-0.5 1l-2 1l-5 -0.5l-8 -3l-7 -4l-8 -6.5l-6.5 -6l-7.5 -8l-5.5 -8l-5 -9l-4 -8l-4 -10l-3 -10l-2 -10l-1 -9l-0.5 -11l0.5 -10l1 -10l2 -10l3 -10l4 -10l4 -8l5 -9l5 -7l7.5 -9l6 -6l7 -6.5l10 -7l8 -5l10 -5l10 -4l10 -3l10 -2l10 -1zM1654.5 1421l1.5 -2.5l2 -9.5l2 -5l0.5 -3l-0.5 -4l-4 -5l-1.5 -3l0.5 -4l1.5 -5l3.5 -6l4 -3.5l6 -3l8 -2l10 -1h10l10 1l8 2l5 2.5l3 3l1 4l-0.5 7v3l2.5 4l3.5 3l3.5 0.5l15 -2.5h5l12.5 4l4 2l1.5 2v1l-0.5 1l-1.5 1l-3 1l-7 1l-9 0.5l-17 -0.5l-3 -1.5l-4 -3l-2 -0.5l-3.5 1l-3 2l-7.5 9l-5 4.5l-3 1.5l-5 0.5h-16l-9.5 0.5l-1 1l1.5 0.5l8.5 0.5l-2.5 1l-6 0.5h-13l-4 -0.5zM1712 1418l4 -1.5l8 -1l12 -1h13l20 1.5l7 1.5l1.5 0.5v1l-3 1l-6.5 0.5l-28 1l-22 -1l-6 -1.5z"/>
<path fill="#fcfcff" d="M1670 1176.5l6 -1h8l9 1l9 2l9 3l10 4l9 5l8 5l8 6.5l6 5l6.5 7l7 8l5 7l6 9l4 8l4 10l3 9l2 8l2 11l0.5 8v10l-0.5 9l-2 11l-2 9l-3 10l-4 9l-4 8l-5 8l-6 8l-8 9l-6.5 5.5l-4.5 2.5l-7 2l-5.5 0.5l-3 -0.5l-2.5 -2l-1.5 -2l-0.5 -3l2 -10l-1 -5l-2.5 -4l-8.5 -7l-1.5 -3l-0.5 -2l1 -3l8.5 -14l5 -11l3.5 -10l2 -10l0.5 -10l-1 -11l-3 -15l-4 -15l-3 -6.5l-4 -5.5l-23 -20.5l-26.5 -29.5l-3.5 -6l-1 -6l0.5 -3l1.5 -1.5zM1581 1402l0.5 -1l1.5 -0.5l10 2h4l3 -0.5l1 -1l1 -5l0.5 -3l-1 -3l-4 -8v-5l1 -3l2.5 -3l3 -2.5l4 -2l6 -2l6 -1l7 -1h8l7 1l6 1.5l4 2.5l2 2.5l0.5 2v3l-2.5 10l-0.5 4l1.5 3l5.5 6l1 2v2l-2.5 13l-1.5 4l-1.5 1.5l-2 1l-10 0.5l-14 -0.5l-11 -1l-7 -1.5l-10 -3.5l-10 -5l-6 -4.5l-2 -2zM1672 1420l0.5 -1l10.5 -0.5l11 0.5l0.5 1l-4.5 0.5h-15z"/>
<path fill="#fff9f9" d="M1646 1178.5l3 1.5l0.5 1v2l-1.5 4l-3 4l-7 6l-17 10l-5.5 4l-6.5 6l-5 6l-5 9l-13 28l-4 10l-2.5 8l-1.5 9l-1 9l0.5 9l1.5 10l2 8l3 8.5l4 9l6.5 12.5l1.5 5v4l-3 9v6l1.5 6l4 8l0.5 4l-0.5 3l-0.5 1.5l-2 0.5l-4 -0.5l-6 -2l-7 -4l-8 -6l-8 -7.5l-6 -7l-6.5 -9l-5.5 -9l-3.5 -8l-4 -10l-3 -10l-2 -11l-1 -8l-0.5 -9l0.5 -10l1 -9l2 -10l3 -11l3 -8l4 -9l4.5 -8l5.5 -8l5.5 -7l7 -7.5l8 -7l8 -6l10 -6l10 -5l9 -4l10 -3l9 -2l9 -0.5zM1655.5 1421l2.5 -12l2.5 -6l1 -3l-1 -4l-3.5 -5l-0.5 -2v-4l1 -4l3.5 -5l4 -3.5l6 -2.5l8 -2l10 -1.5h10l9 1l8 2l4.5 2.5l2.5 3l0.5 3l-0.5 6l0.5 3l2.5 4l4 3.5l3 0.5l13 -2h5l4 0.5l7 3l3 1.5l1.5 2l-0.5 1l-1.5 1l-3.5 1l-6 1h-9l-11 -0.5l-3 -1l-4 -3h-3l-3 0.5l-3 2l-10 10l-5 4l-4 2l-5 0.5l-23 0.5l-1 1l1 0.5l7 0.5l-5 1h-14l-3 -0.5zM1718 1419v-1l7 -1.5l9 -1l11 -0.5l11 0.5l9 1l7 1.5v1l-4 1l-5 0.5l-18 0.5l-18 -0.5l-5 -0.5z"/>
<path fill="#f9f9ff" d="M1675 1178.5l6 -1l8 0.5l10 1.5l8 2l10 4l8 4l9 5l7 5l8 7l7.5 7.5l7 8l6 8l5 8l4 7l4 9l3 8l2 8l2 11l1 9v10v9l-1.5 11l-2.5 10l-2 7l-4 10l-3.5 8l-5.5 9l-5 7l-6.5 8l-8 7.5l-5 3.5l-5 2l-5 1h-4l-3 -1.5l-2 -2.5l-0.5 -4l2.5 -9v-4l-0.5 -4l-3 -6l-0.5 -3v-2l1 -3l8 -15.5l5 -11.5l3 -11l1.5 -10l0.5 -10l-1 -11l-3 -15l-4.5 -19l-2 -5l-2.5 -4.5l-6 -7.5l-30.5 -26l-15.5 -12.5l-4.5 -4.5l-2.5 -4l-1.5 -5l0.5 -2zM1601 1373.5l4 -3l5 -2.5l6 -1.5l8 -1h8l7 0.5l6 2l4 2l2 2.5l1 3.5l-2 11l0.5 3l1.5 3l5.5 5l1.5 3v3l-2 11l-2 4.5l-1 1l-3 1l-5 0.5l-14 -0.5l-13 -1.5l-6 -1l-6 -2.5l-10 -5l-5 -3.5l-2 -2v-1l1 -1l8 -0.5l2 -1l1 -1.5l1 -6v-3l-3.5 -8l-1 -4l0.5 -3.5zM1672.5 1420l0.5 -1l4 -0.5l15.5 0.5v1l-5.5 0.5h-10z"/>
<path fill="#fff7f7" d="M1640 1180l3 1l0.5 2l-1 3l-2.5 3.5l-6 4.5l-16.5 10l-7 5l-6.5 6l-6 8l-7 11.5l-10 20l-5 12l-3.5 12.5l-1.5 9l-0.5 10l0.5 10l1.5 10l2.5 8.5l3 8.5l12 24l1 5l0.5 10l0.5 5l1.5 4l3.5 7l1 3v3l-1 3l-2 0.5l-3 -0.5l-6 -2l-7 -4.5l-8 -6l-7 -6.5l-5 -6l-5.5 -7l-5 -8l-5.5 -10l-3.5 -9l-3 -10l-2 -9l-1.5 -10l-1 -10l0.5 -10l1 -10l1 -8l3 -11l3 -8l3 -8l5 -9l5 -8l6 -8l6.5 -7l6 -5.5l7 -6l9 -6l9 -5l11 -5l9 -3.5l9 -2l8 -1zM1655.5 1420l3 -11l2.5 -6l1 -4l-0.5 -3l-3 -6l-0.5 -2v-3l1 -3l3 -4.5l4 -3.5l6 -2.5l7 -2l9 -1l10 -0.5l8 1l8 1.5l4 2l3 2.5l1 3v7l1 3l2 3l5 4.5h3l11 -2h5l4 1l4.5 1.5l3.5 2l1 1v1l-0.5 1l-3.5 1l-6 1h-8l-9 -0.5l-3 -1.5l-3 -2.5l-1 -0.5l-2 0.5l-4.5 1.5l-3.5 2l-11 10.5l-6 4l-3 1.5l-4 0.5l-22 0.5l-1 1l1 0.5l5 0.5l-5 0.5h-13l-3 -0.5zM1722 1419v-1l6 -1.5l17 -1l17 1l6 1.5v1l-8 1.5h-15h-15z"/>
<path fill="#f7f7ff" d="M1679 1180l5 -1l8 0.5l8 1.5l9 2.5l10 4l8 4l8 5l7 5l7 6l7.5 7.5l6 7l6.5 9l5.5 8l4 8l4 9l3 9l3 16l1 10l0.5 10l-0.5 8l-1 9l-2 9l-3 10l-3 8l-4 9l-6 10l-5 7l-7 8l-7.5 7.5l-5 3.5l-5 2l-5 1l-3 -0.5l-3.5 -2.5l-1 -2v-2l3.5 -13v-10l0.5 -4l2 -5l7.5 -14.5l3.5 -8.5l3.5 -11.5l2 -11l0.5 -11.5l-0.5 -11l-2 -12l-5 -20l-2 -6l-2.5 -6l-2.5 -4l-3.5 -5l-10 -9l-41.5 -32.5l-3 -3.5l-2 -4v-3zM1602 1374.5l3 -2.5l5 -2l6 -2l7 -0.5h8l7 0.5l5 1.5l4 2.5l2 2.5l1 3.5l-1.5 10v2l2.5 3l6 5.5l1 1.5l0.5 2l-2 13l-1.5 4.5l-2 1l-7 1h-12l-12 -1l-5 -1l-5 -2l-9 -4.5l-6 -4l-1.5 -2l0.5 -1l4 -1.5l2 -1.5l0.5 -1l2 -8l-0.5 -3l-3.5 -7l-0.5 -3v-3zM1672.5 1420l0.5 -1l4 -0.5l14.5 0.5l-0.5 1l-5 0.5h-9z"/>
<path fill="#fff5f5" d="M1635 1182l1.5 1v1l-0.5 2l-2 3l-5 4l-14 9l-8 6l-7 7l-7 9l-9 15l-8 15.5l-5 12.5l-3.5 13l-1.5 10l-0.5 9l0.5 9l2 10l2 9l4 10.5l4 8.5l9 17l4 17l5.5 12l0.5 3l-1 3l-2 0.5h-2l-6 -2.5l-7 -4l-8 -6.5l-7 -6.5l-7 -8l-4.5 -7l-5 -8l-4 -8l-3.5 -8l-2.5 -9l-2.5 -11l-1.5 -9l-0.5 -9v-9l0.5 -9l2 -11l2 -9l3 -9l4 -9l4 -8l5 -8l5.5 -7l6 -7l6 -6l7 -5.5l7 -5l8 -5l10 -5l10 -4l9 -2.5l7 -1zM1719.5 1376l1 3l0.5 5l0.5 3l2 3l4 4l0.5 2l-0.5 1l-6.5 2.5l-3.5 2.5l-8.5 8l-4 3.5l-5 3l-4.5 1.5l-23.5 1l-1.5 1l1.5 0.5l3.5 0.5l-1.5 0.5h-13h-3l-2 -1.5l2.5 -11l3.5 -7l1 -4l-0.5 -3l-3 -6v-4l2 -5l4.5 -4l5 -2.5l7 -2.5l9 -1l9 -0.5l8 0.5l7 1l5 2zM1730.5 1398l0.5 -1l2.5 -1l8.5 -1.5l5 -0.5l4 0.5l4 1.5l3 2l1 1l-0.5 1l-3.5 1.5l-6 1h-7l-5 -0.5l-3 -1l-2 -1zM1725 1419l0.5 -1l4.5 -1l15 -1l15 1l4.5 1l0.5 1l-7 1l-13 0.5l-13 -0.5z"/>
<path fill="#f5f5ff" d="M1684 1181l5 -0.5l8 1l8 1.5l8 3l8 3l8 4.5l8 5.5l7 5l7.5 7l7.5 8l6.5 8l5 7l5 9l4 8l3 8l3 9l2 9l1 9l0.5 9v9l-0.5 9l-2 10l-2 9l-3 9l-4 9l-4 8l-5 8l-5.5 7l-7 8l-6.5 6l-4.5 3l-5 2l-4 0.5l-3 -0.5l-1.5 -1l-1.5 -2l-0.5 -3l3.5 -12l2.5 -12l2.5 -5l7 -13l4 -9l3.5 -11l2.5 -10l1 -12v-12l-2 -13l-3 -13.5l-3 -10.5l-3 -8l-3.5 -7l-4.5 -6l-5 -5.5l-6.5 -5.5l-33.5 -25l-5.5 -5l-3 -3l-1.5 -3v-3zM1603 1376l3 -2.5l5 -2.5l6 -1.5l6 -0.5h7l6 0.5l5 1.5l4 2.5l2.5 2.5l0.5 3v3l-1 6l0.5 3l2 2l6.5 5l1.5 2l0.5 2v2l-1 10l-2 5l-3 2l-7 0.5h-10l-12 -1l-5 -1.5l-5 -1.5l-7 -4l-5 -3.5l-1.5 -2v-1l4 -4l2 -10l-0.5 -3l-3 -5l-0.5 -3v-3zM1673 1420v-1h3h15l-1 1l-4 0.5h-9z"/>
<path fill="#fff3f3" d="M1627 1184l2 1l-0.5 2l-1 2l-4.5 4l-13 9l-7 6l-8 9.5l-8 11l-9 15.5l-7 14l-4 11l-3 13l-1 9l-0.5 10l1 9l1.5 10l3 10l3 8l5 10.5l9.5 16.5l5 16l4.5 10l0.5 3l-0.5 3l-1 0.5h-2l-6 -2l-6 -3.5l-7 -5.5l-7 -6.5l-6.5 -7l-5 -7l-5 -8l-4 -7l-4 -9l-3 -9l-2 -8l-2 -9l-1 -10v-9v-9l1.5 -9l1.5 -9l2.5 -8l2.5 -8l4 -9l3.5 -7l5.5 -8l5 -7l6.5 -7l7 -7l6 -4.5l7 -5l9 -5l9.5 -4.5l8.5 -3l7 -2zM1718 1377l1 2l0.5 5l1 3l6.5 8v1l-1.5 1l-5.5 3l-3 2l-9 8.5l-4 3l-5 3l-4.5 1.5l-23 1l-1 1l1.5 1h2l-13 0.5l-4 -0.5l-1 -1l2.5 -11l4 -7l1.5 -5v-3l-3 -6l0.5 -4l2 -4l3.5 -3l5 -2.5l6 -2l8 -1.5l9 -0.5l8 0.5l7 1.5l5 2zM1732 1398l1 -1l2.5 -1l5.5 -1l5 -0.5l6 1.5l3.5 2l0.5 1l-0.5 1l-3.5 1l-11 0.5l-6 -1l-2 -1zM1728 1419l0.5 -1l4.5 -1l12 -0.5l12 0.5l4.5 1l0.5 1l-8 1h-9h-9z"/>
<path fill="#f3f3ff" d="M1689 1182h5l8 1.5l8 2l8 3l8 4l7 4.5l7 5l7 6l7 6.5l6.5 7.5l6.5 8l4.5 7l4 7l4 8l3 8l3 10l2 10l1 8v9v9l-1 9l-2 10l-2 8l-3 9l-4 9l-4 7l-5 8l-5 7l-7.5 8l-6.5 6l-4.5 3l-5 1.5l-4 0.5l-2.5 -1l-1.5 -2l-0.5 -3l7 -22l13.5 -26l3 -8l3 -10l2 -12.5l0.5 -11.5l-1 -12l-2.5 -13l-3 -11.5l-4 -11.5l-4 -9l-4 -6l-5 -6l-6.5 -6l-32 -24l-6 -5l-2.5 -3l-1.5 -3l-0.5 -3zM1604 1377l3 -2.5l4 -2l5 -1.5l6 -1h6l6 1l5 1l4 2l2 2l1.5 3v3l-1 7l0.5 2l2 2l7 5l2 2l0.5 2l0.5 3l-1 9l-2 5l-3 1.5l-6 1h-9l-12 -1l-5 -1l-5 -2l-6 -3l-4.5 -3.5l-2 -2l-0.5 -2l2 -3l1 -5l1.5 -6l-0.5 -3l-2.5 -5l-1 -3l0.5 -3zM1673 1420l0.5 -1h2.5h14l-0.5 1l-4.5 0.5h-8z"/>
<path fill="#fff0f0" d="M1619 1187.5l0.5 0.5v1l-2 3l-13.5 12l-9 10l-8 11l-8 12.5l-7 13l-5 11.5l-4 13l-2 10.5l-0.5 9.5v10l1.5 11l2 9l3 9l3 7.5l4 8l10 17l5.5 15.5l4 8l1 3l-0.5 3l-2 0.5l-5 -1.5l-6 -3l-7 -5l-7 -6.5l-6 -6.5l-5.5 -7l-5 -8l-4 -7l-4 -9l-3 -8l-2 -8l-2 -9l-1 -9l-0.5 -9l0.5 -17l2 -10l2 -8l3 -9l3 -8l4 -8l5 -8l9.5 -12l6 -6.5l6 -5l7 -5.5l7 -4.5l9 -4.5l9.5 -4l6.5 -2zM1726 1395l-0.5 1l-1 1l-8.5 5l-11 10.5l-5 3l-4 2l-5 0.5l-19.5 1l-1.5 1l1 0.5l2 0.5l-3 0.5h-9l-3 -0.5l-1.5 -1l2 -11l4.5 -7l2 -6v-3l-2.5 -6l1 -4l1 -2l2.5 -2.5l3 -2l4 -1.5l9 -2.5l10 -1l10 0.5l8 2l3 1.5l2 2l1 1.5l2 7zM1733.5 1398l1 -1l2.5 -1l8 -1l4 1l3 1l1 1v1l-1 1l-3 0.5l-8 0.5l-5.5 -1l-1.5 -1zM1731 1419l0.5 -1l2.5 -0.5l11 -0.5l11 0.5l2.5 0.5l0.5 1l-14 1z"/>
<path fill="#f0f0ff" d="M1693 1184l5 -0.5l7 1.5l8 2.5l8 3l7 4l8 5l6 4.5l7 6.5l7 7l6.5 7.5l5 7l5.5 8l3.5 7l4 9l2.5 8l2.5 8l1.5 8l1 9v9v9l-2.5 17l-2 8l-3 9l-4 9l-4 7l-4 7l-6 8l-6.5 7.5l-7 6.5l-5 3.5l-5 2h-3l-2 -0.5l-2 -2l-0.5 -3l1 -4l7 -17l9.5 -17.5l4 -8.5l3 -8l3 -10l2 -11l1 -12l-1 -12l-2 -12l-4 -15l-4 -11.5l-4 -9l-4 -6.5l-5.5 -6l-6 -6l-29 -22l-6 -5l-2.5 -3l-1.5 -3l-0.5 -2zM1606 1377l3 -2l4 -2l5 -1l6 -0.5h6l5 1l4 1.5l3 1.5l2 2.5l0.5 2l0.5 3l-1 6l0.5 2l2 2l8.5 6l2 3l0.5 3l-0.5 8l-0.5 3l-1.5 3l-3 1.5l-7 1l-19 -1l-5 -1l-5 -2l-5 -2.5l-4 -3l-2 -2l-1 -2l1 -4.5l0.5 -3.5l2 -7l-0.5 -3l-2.5 -5l-0.5 -3l0.5 -3zM1673.5 1420v-1h2.5h13.5l-1 1l-3.5 0.5h-7z"/>
<path fill="#ffeeee" d="M1606 1192.5l1.5 0.5l-1 3l-12.5 16l-8 11l-9 14.5l-7 12.5l-5 11.5l-3 9l-2 9.5l-1.5 11l-0.5 9l1 10l1.5 9l2.5 10l3 8l4 9l11.5 20l3 6l8 19v2v2l-1.5 0.5l-4 -1l-6 -3.5l-7 -5l-6.5 -6l-6 -6l-5.5 -7l-8.5 -14l-6 -14l-3 -9l-2 -8l-2 -16v-17l2 -15l2 -8l3 -9l3 -8l4 -8l5 -8l4 -6l10.5 -11.5l6 -5.5l6 -4.5l7 -4.5l7 -4l7.5 -3zM1724.5 1394v1v1l-8.5 5.5l-12 11l-7.5 4.5l-5.5 1l-19.5 1l-1.5 1l1.5 1h-10.5l-3 -0.5l-1.5 -0.5l0.5 -3l2 -8l4.5 -7l3 -7v-3l-2 -5l0.5 -3.5l1.5 -2.5l2.5 -2l5.5 -3l8.5 -2l9 -1h9l8 1.5l3 1.5l2 2l3.5 8zM1735.5 1398l1 -1l1.5 -0.5l5 -1l4 0.5l2 1l1 1v1l-2 1l-6 0.5l-5 -1l-1 -0.5zM1734 1419l1 -1l10 -0.5l10 0.5l1 1l-11 0.5z"/>
<path fill="#eeeeff" d="M1699 1185.5l5 0.5l7 1.5l8 3l7 3.5l7 4.5l6.5 4.5l6.5 5.5l6.5 6.5l6.5 7l6.5 8l5 7l4 7l4 8l3 8l4 15l1.5 8l0.5 9v9l-0.5 8l-1 8l-1.5 9l-3 10l-3 8l-4 9l-4 7l-5 7l-5.5 7l-6 6.5l-7 6.5l-4 2.5l-4.5 1.5h-3l-2 -2l-0.5 -2l0.5 -3l7.5 -18l10 -18l4 -8.5l4 -10.5l3 -11l1.5 -10l0.5 -10l-0.5 -10l-1.5 -10l-3 -12.5l-5 -15.5l-4 -9.5l-5 -8.5l-4.5 -6l-6 -6l-25.5 -20l-7 -6l-4 -5v-3zM1607.5 1378l2.5 -2l4 -1.5l5 -1.5l5 -0.5l5 0.5l5 0.5l4 1.5l2.5 2l1.5 2l1 2v2l-1 6l0.5 2l2 2l9.5 5.5l2.5 3.5l0.5 3v8l-1 3l-1.5 3l-2.5 1.5l-7 0.5l-18 -0.5l-5 -1l-5 -2l-5 -2.5l-4 -3l-2 -3l-0.5 -2l0.5 -7l3 -8l-0.5 -2l-3 -7l0.5 -3zM1673.5 1420v-1h1.5h14l-1 1l-4 0.5h-6z"/>
<path fill="#ffebeb" d="M1598 1197.5l0.5 0.5v1l-1.5 4l-21 33l-6 10.5l-4 8.5l-4 10l-2.5 9l-2 9l-1 10v10l1 9l1.5 9l3 10l3 8l4 8.5l11.5 19.5l3.5 7l6.5 17l0.5 2l-0.5 1h-1.5l-4 -1.5l-6 -3.5l-6 -4.5l-6 -5.5l-9.5 -11l-9 -14l-6 -14l-5 -16l-2 -15l-0.5 -16l1.5 -16l4 -15l5 -14l8 -14l9.5 -12.5l11 -11l6 -4.5l7 -4l8 -4zM1723.5 1394v1v1l-7.5 5l-10 9.5l-4 3l-6.5 3.5l-5.5 1l-19 1l-1.5 1v1h-9.5l-3 -1v-3l2 -8l5 -7l4.5 -8v-2l-2 -6l0.5 -2.5l1 -1.5l2 -2l5.5 -3l7.5 -2l9 -1h8l7 1.5l3 1.5l2.5 2l4 7zM1737.5 1398l1.5 -1l3 -0.5l4 0.5l1 1l-1 1l-4 0.5l-3.5 -0.5zM1738 1419l1.5 -1h5.5h5.5l1.5 1z"/>
<path fill="#ebebff" d="M1704 1187.5l4.5 0.5l6.5 2l7.5 3l7 4l7.5 5l6 5l13 12.5l11 13.5l4.5 7l4 7l3 7l3 8l4 16l1 8l0.5 9l-0.5 16l-1 8l-2 9l-5 15l-4 9l-4 7l-9 13l-6.5 7l-7 6.5l-5 3.5l-4 1.5l-3 -0.5l-1.5 -1l-0.5 -2l1 -4l7 -16l10 -17.5l4 -8l4 -10.5l3 -10.5l2 -10.5l0.5 -10l-0.5 -10l-1 -10l-3 -13.5l-5 -15.5l-4.5 -11l-4.5 -8.5l-4 -5.5l-6 -6l-23.5 -19l-6.5 -6l-2.5 -3l-1 -2v-2zM1608.5 1379l2.5 -2l4 -1.5l4 -1l5 -0.5h5l4 1l3 1l3 2l1.5 2l0.5 2l-1 7l1 2l2 2l10 5.5l2 2l1.5 2.5l0.5 3l-0.5 7l-0.5 3.5l-1.5 2.5l-2.5 1.5l-4 0.5h-11l-9 -0.5l-5 -1l-4 -1.5l-5 -2.5l-3.5 -2.5l-3 -3l-1 -3l0.5 -7l3.5 -8l-0.5 -2l-2.5 -7v-2zM1674 1419h14.5l-1.5 1l-7 0.5l-6 -0.5z"/>
<path fill="#ffe9e9" d="M1592 1201.5l0.5 0.5v2l-2 5l-18.5 31l-5 9.5l-4 8.5l-3 9l-2.5 10l-1.5 9l-1 9v8l1 9l2 10l2 8l3 8l4 9l12.5 21l3.5 7.5l5.5 14.5v2l-1.5 0.5l-4 -1.5l-6 -4l-6 -5l-5 -4.5l-9.5 -11.5l-8 -13l-6 -14l-4 -14l-2.5 -15l-1 -15l1.5 -15l3 -14l5 -14l7 -14l9 -13l10.5 -11l6 -5l6 -4l6 -3zM1722.5 1394v1l-0.5 1l-7 5.5l-10 9.5l-5 3.5l-5 2.5l-5 1l-19 1l-3 2h-7l-3.5 -1l-0.5 -3l2 -8l11.5 -16v-2l-1.5 -5v-2l2 -3l5 -3l7 -2l8 -1h8l6 1.5l3 1l2 1.5l4 6l7 7z"/>
<path fill="#e9e9ff" d="M1710 1190l5.5 1l7 3l7.5 4l6 4l12 10l13 14.5l9.5 12.5l7 13l5 14l3 15l1.5 16l-0.5 9l-1 8l-3 16l-5 14l-7 14l-5 8l-5 6l-6.5 7l-6 5.5l-5 3.5l-4 1.5h-2l-1 -1.5l-0.5 -2l1.5 -4l6 -14l10 -17.5l4 -8l4 -10l3 -9.5l2 -10l1 -10v-10l-1 -10l-3 -14l-4 -14l-5 -13.5l-4.5 -9.5l-4.5 -6.5l-5.5 -5.5l-21.5 -18l-5.5 -5l-2.5 -3l-1 -2v-1zM1611 1379l2 -1.5l3 -1l8 -1.5l8 1l3 1.5l2 1.5l2 3v2l-1 5l1 2l2.5 2l10.5 5.5l2.5 2.5l1.5 2l0.5 4v6l-0.5 3l-1.5 3l-2.5 1.5l-4 0.5h-11l-8 -0.5l-9 -2l-4.5 -2.5l-4.5 -3l-2 -2l-1 -2l-0.5 -7l0.5 -3l4 -7v-2l-2.5 -5v-2v-2zM1674 1419h14l-1.5 1l-6.5 0.5l-5.5 -0.5z"/>
<path fill="#ffe6e6" d="M1587 1204.5l0.5 0.5l0.5 2l-1.5 5l-18.5 32.5l-4 8.5l-4 9.5l-3 9.5l-1.5 8l-1.5 9v8v8l1 9l2 9.5l2.5 8.5l2.5 7l4 9l12.5 21l3.5 7l4 12v2l-1 0.5l-4 -1.5l-4 -2.5l-6 -5l-5 -5l-9 -11l-8 -12.5l-6 -14l-4.5 -14l-2 -14l-1 -14l1 -15l3 -14l4 -13l6.5 -14l8.5 -13l9.5 -10.5l10.5 -8.5l5 -3zM1721.5 1394v2l-6.5 5l-10 9.5l-6 4l-4.5 2.5l-5 1l-18.5 1l-3 1.5h-9l-1.5 -0.5l-0.5 -1l1 -6l1.5 -4l12 -15l1 -2v-2l-1.5 -4l1 -3l2 -2.5l4 -2l6 -1.5l8 -1l7 0.5l5 1l4 2.5l4 5l7 6z"/>
<path fill="#e6e6ff" d="M1716 1193l4 1l6.5 3l7 4l5 4l12.5 11.5l13 14.5l8 12l6.5 13l4 13l3 15l1 16l-1.5 15l-3.5 16l-5 14l-7 14l-4.5 6.5l-5 6.5l-5 5.5l-6 5.5l-5 4l-4 1.5h-2l-0.5 -1.5v-2l1 -4l6 -13l9.5 -16l4 -8l4 -10l2.5 -9l2.5 -10l1 -10v-10l-0.5 -10l-2.5 -13.5l-4 -14.5l-5 -14.5l-5 -11l-4 -6.5l-5 -5.5l-18.5 -15.5l-5 -5l-3 -4v-1zM1613 1380l4 -2.5l7 -1l7 1l4.5 2.5l1.5 3l-1 6l1 2l2.5 2l11.5 5.5l3 2.5l1.5 2l1 4v6l-0.5 3l-1.5 3l-3.5 1.5l-4 0.5h-10l-8 -1l-5 -0.5l-4 -1.5l-5 -2.5l-3 -2.5l-3 -4l-1 -7l1 -3.5l4 -5.5l1 -2l-0.5 -2l-2 -5v-2zM1674.5 1419h13l-2 1l-5.5 0.5l-5 -0.5z"/>
<path fill="#ffe4e4" d="M1583 1208l1 1v1l-1 5l-17 30.5l-4 8.5l-4 10l-2 8l-2 9l-1 8l-0.5 9l0.5 9l1 8l2 9l2 8l3 8l4 9l15 26l3 9l0.5 4l-0.5 0.5l-3 -1l-5 -3.5l-5 -4l-5 -5l-8.5 -11l-7.5 -12l-5.5 -13l-4 -13l-2.5 -14l-1 -14l1 -14l2.5 -14l4 -14l5.5 -12l7 -11.5l9 -11l10 -9l5 -3.5zM1720.5 1394v2l-6.5 5.5l-9 8.5l-5 4l-6 3l-5.5 1l-18 1l-2.5 1.5l-2 0.5l-7 -0.5l-1 -0.5l-0.5 -1l-0.5 -2l1 -3.5l1.5 -4.5l7.5 -9l7.5 -8l0.5 -2l-1.5 -4l0.5 -2l2 -2.5l4 -2l5 -1.5l6 -1l6 0.5l5 1l3 1.5l5 5l8.5 6z"/>
<path fill="#e4e4ff" d="M1724 1197.5l4 1.5l5 3l9 7l16 16l10 12.5l6.5 10.5l5 12l4 13l2 14l0.5 15l-1.5 15l-3 14l-5.5 14l-7 14l-8.5 12l-5.5 6l-5 4.5l-6 4.5l-3 1.5l-1.5 -0.5v-2l1.5 -6l5 -11l12 -22l4 -9l3.5 -10l2 -10l1.5 -9.5l0.5 -9.5l-0.5 -10l-2 -13l-3.5 -14l-6 -19l-5 -12l-3.5 -6l-4 -5l-19.5 -17l-2 -3l-0.5 -1zM1615 1381l3 -2l6 -1l6 1l3 2l1 1l0.5 2l-1.5 5l1.5 2l3 2l12.5 5.5l3 2l2 2.5l1 4l0.5 5l-0.5 4l-2 3l-3 1.5l-4 0.5h-9l-8 -1l-5 -0.5l-4 -1.5l-5 -2.5l-3.5 -2.5l-2 -2l-1 -2l-0.5 -7l1.5 -4l5.5 -7v-2l-2 -5v-2zM1674.5 1419h12.5l-2 1l-5 0.5l-5 -0.5z"/>
<path fill="#ffe1e1" d="M1579 1211l1 0.5l0.5 1.5l-1 5l-16 30l-4 9l-3 9l-2.5 8l-1.5 8l-1 8v9l0.5 9l1 8l1.5 8l2.5 8l3 8.5l4 8.5l14.5 26l2.5 8v2l-1 1l-3 -1.5l-4 -3l-9 -8.5l-8 -10l-7 -12l-5 -12l-4 -13l-2.5 -13l-1 -14l0.5 -13l2.5 -14l3.5 -13l5 -12l7 -12l7 -9.5l9 -9l4 -3zM1720 1394l-0.5 2l-5.5 5l-9 9l-5 3.5l-6 3.5l-6 1l-17.5 1l-2.5 1l-2 0.5h-6l-1.5 -0.5l-1 -1v-2l0.5 -4l2 -4.5l8 -9l8 -7.5l1.5 -3l-1 -3v-2l2 -2l3.5 -2l4 -1l5 -0.5h5l4 1l3 1.5l4.5 4l8.5 5l2.5 2z"/>
<path fill="#e1e1ff" d="M1754 1223l7 6.5l7 9l6 10l4.5 10.5l3.5 11l2.5 12l1 12v12l-1.5 12l-3 12l-4 12l-5 11l-7 11l-7 9l-8 7.5l-4 3l-3 2l-1 -0.5v-2l2 -7l3.5 -8l11 -20l6 -14l4 -14l2 -15v-15l-2.5 -15l-4.5 -19l-9.5 -30l-0.5 -2zM1617.5 1382l2.5 -1.5l3 -0.5h3l3 1l1.5 1l0.5 2l-1.5 5l0.5 1l3 2l16 6.5l4 3l2.5 3.5l1 6l-0.5 5l-2 3l-3 1l-5 1l-10 -0.5l-8 -0.5l-4 -1l-4 -1.5l-4 -2l-3 -2.5l-1.5 -2l-1 -2l-1 -7l1 -3l1.5 -2l5.5 -5l2 -2v-1l-2.5 -4v-2zM1675 1419h11.5l-2 1h-4.5h-4.5z"/>
<path fill="#ffdede" d="M1575 1215.5l1 0.5v1l-1 5l-14 28l-3.5 9l-3 8l-3.5 16l-0.5 8l-0.5 8l0.5 9l1 8l4 16l3 9l4 8l13.5 25l1.5 5v2l-0.5 1.5l-2 -0.5l-4 -3l-9 -9l-8 -11.5l-6 -11l-5 -12l-3 -10.5l-2.5 -13l-0.5 -13l0.5 -13l2 -12l3.5 -13l4 -10.5l6 -11.5l7 -10l8 -9l4 -3zM1719 1394v1l-1.5 2l-12 12l-5.5 4l-6 3.5l-6 1.5l-18 1l-3 1.5h-2l-6.5 -0.5l-1 -1v-2l1 -4l1.5 -4.5l9 -9.5l10.5 -8l1.5 -3l0.5 -4l2.5 -2l3 -1l4 -0.5l6 0.5l7 4l10 4.5l3.5 2.5z"/>
<path fill="#dedeff" d="M1761 1232.5l2 1l3 3.5l6 9l5 10l3 9l3 11l1.5 11l0.5 11l-0.5 12l-1.5 10l-3 12l-4 11l-4 8.5l-6 10.5l-7 9l-7 7l-4 3l-2 1l-0.5 -1v-2l2.5 -7l11.5 -23l6 -14l4 -13l2 -13l0.5 -13l-1 -13l-3 -15l-7 -28l-1 -5l0.5 -2zM1610.5 1401l1.5 -2.5l3 -3l4 -2.5l4 -1l4 -0.5l10 3l11 4l5 3.5l2 3l1 3.5l0.5 4.5l-1 3l-1 2l-1.5 1.5l-5 1h-14l-7 -1l-4 -1l-7 -3.5l-4 -4l-1.5 -4l-0.5 -4zM1675 1419h11l-2.5 1h-3.5h-4z"/>
<path fill="#ffdada" d="M1571 1220l0.5 2l-1 4l-12 26l-5.5 16l-3.5 16l-1 15l1.5 16l3.5 16l3 8l3.5 9l12.5 24l1 4v2l-0.5 0.5l-2 -1l-4 -3.5l-8 -9l-6 -9l-6 -12l-4 -10.5l-3 -11l-2 -12.5l-0.5 -11l0.5 -12l1.5 -11l2.5 -10.5l4 -11.5l5 -10.5l7 -11l8 -9.5l3 -2.5zM1717.5 1394l0.5 1l-1.5 2l-11.5 12l-6 4.5l-6 3l-6 1.5l-17 1l-5 1.5l-5 -0.5l-2 -1l-0.5 -2l1 -5l2.5 -4.5l10 -9.5l12 -8l6 -5l2 -0.5h3l13 3l7 3l2 1.5z"/>
<path fill="#dadaff" d="M1765 1239.5h1l3 3.5l5 8l4 9l3 9.5l2 9.5l1 10l0.5 10l-0.5 11l-1.5 11l-2.5 9.5l-4 11.5l-4 8.5l-5 8.5l-6 8.5l-7 7.5l-3 2l-1 0.5l-0.5 -2.5l1.5 -5l11.5 -23l5 -13l3 -12l2 -12l1 -12l-1 -13l-2 -13l-6 -25l-0.5 -5zM1611.5 1401l1 -2l2.5 -2.5l4 -2l4 -1h7l11 3l8 3l4 3.5l2 3l1 3.5v3.5l-0.5 3l-1 2l-1.5 1.5l-5 1h-13l-7 -1l-4 -1l-7.5 -3.5l-4 -4l-1 -4l-0.5 -4zM1675.5 1419h10l-2.5 1h-6z"/>
<path fill="#ffd7d7" d="M1566 1225.5l0.5 0.5l0.5 1l-1 4l-10.5 24l-5 16l-2.5 15l-1 14l1.5 15l3 14l6 17l10.5 22l1 4l-1 1l-5 -4.5l-6 -7.5l-6 -10l-5 -10.5l-3 -8.5l-3 -12.5l-1.5 -9.5l-0.5 -10l0.5 -11l1.5 -12l2 -9.5l3 -9.5l5 -11.5l5 -8.5l6 -8l3 -3zM1716.5 1394l0.5 1l-1.5 2l-10 11l-5.5 4.5l-7 4l-6 1.5l-17 1l-2 1l-4 0.5l-5 -1l-1.5 -1.5l1.5 -7l1 -2l3 -3l6 -5.5l5 -3.5l9 -5.5l6 -3l4 -1l3 -0.5l9 1l8 3l2 1z"/>
<path fill="#d7d7ff" d="M1769 1246l3 3.5l4 7.5l3 8l3 11.5l1.5 8.5l0.5 10v8l-1 9l-1 7.5l-2 9l-3 9l-4 9.5l-4 7.5l-5 8l-5 6l-4 3.5l-0.5 -1l-0.5 -1l1 -3.5l9.5 -20.5l5 -13l3 -12l1.5 -11l1 -10l-0.5 -11l-2 -14l-4.5 -23v-5zM1612 1401l2 -2.5l3 -2l4 -1.5l3 -1l8 0.5l11 3l6 3l4.5 3.5l1.5 3l1 3v3l-0.5 3l-1 2l-1.5 1.5l-6 1h-13l-6 -1l-4 -1l-7 -3.5l-4 -4l-0.5 -2l-1 -4zM1676 1419h8.5l-4.5 1l-3 -0.5z"/>
<path fill="#ffd4d4" d="M1560 1233.5l1 0.5l-0.5 4l-8 20l-4 15l-2.5 12l-0.5 14l1 13l2 13l5 16l7.5 19l1 3l-1 1l-4 -5l-4 -6l-4 -7.5l-4 -10l-3 -10l-2 -9.5l-1 -8.5l-0.5 -8.5l0.5 -10.5l1 -8.5l2 -10l2 -7l3 -8l4 -8.5l5 -8.5zM1715.5 1394v1l-0.5 2l-10 11l-5 4.5l-8 4.5l-5 1l-17.5 1l-2.5 1l-3 0.5l-4 -0.5l-1.5 -1l-0.5 -1l1 -7l1.5 -2l2.5 -3l11 -8.5l7 -4l6 -3l8 -2h8l8 2l2.5 1.5z"/>
<path fill="#d4d4ff" d="M1773 1254l2 3l3 7.5l2 6.5l2 9.5l1.5 13.5l-0.5 14l-2 13.5l-2 8l-3 9l-3 7l-4 7.5l-5 7.5l-3 3l-0.5 -1.5l0.5 -2l7.5 -19l3.5 -10l2.5 -11l1.5 -9l0.5 -9v-10l-1 -11l-3.5 -22v-4zM1612.5 1402l1 -2l2.5 -2l3 -2l4 -1h8l10 2.5l7 3l3 2l2 2l2 3l1 2.5l-0.5 5l-0.5 2l-2 2l-5 1.5h-12l-7 -1l-4 -1l-6 -2.5l-4.5 -4l-2 -4v-4zM1676 1419h8l-4 1h-2z"/>
<path fill="#ffd1d1" d="M1552 1249l-1 5l-3.5 12l-2 9l-2 11l-0.5 9l0.5 10l1 10l2 12l3.5 13.5l0.5 2.5l-0.5 1l-4 -8.5l-4 -14l-2 -13l-0.5 -13.5l0.5 -7.5l1 -8l2 -9.5l2 -7l3 -7.5l3 -6zM1714.5 1394v1l-0.5 2l-9 11l-6 5l-7 3.5l-5 1.5l-17.5 1l-5.5 1h-4l-1.5 -1l-0.5 -1l1 -6l1 -2.5l2 -2l11 -9l5 -3l7 -3l9 -3h8l8 1.5l3 1.5z"/>
<path fill="#d1d1ff" d="M1777 1268.5l1 0.5l2 6.5l2 12.5l0.5 10l-0.5 10l-1 8l-2 9.5l-3 10l-4 8.5l-0.5 -1l5 -22l2 -15l0.5 -15l-2 -18.5zM1613.5 1402l1 -2l2.5 -2l3 -1.5l3 -0.5l7 -0.5l10 2l7 3l5 3.5l2 2.5l1.5 2.5l0.5 3l-0.5 3l-0.5 2l-2 2l-5 1.5h-12l-10 -1.5l-6.5 -3l-4.5 -4l-1.5 -2l-0.5 -5zM1676.5 1419h7l-3.5 0.5z"/>
<path fill="#ffcece" d="M1713.5 1394v1l-0.5 2l-7.5 10l-6.5 5.5l-7 4l-5 1l-18 1.5l-5 1l-4 -0.5l-2 -1.5l1 -6l1 -2l2 -2.5l10 -7.5l10 -5.5l9 -3.5l9 -1l8 1l3 1z"/>
<path fill="#ceceff" d="M1614 1403l1 -2.5l2 -1.5l3 -1.5l3 -1h8l9 1.5l7 2.5l5 4l2 2.5l1.5 3l0.5 3l-0.5 2l-1 2l-1.5 2l-5 1l-11 0.5l-7 -1l-4 -1l-6 -2.5l-4.5 -4l-2 -4zM1677 1419h6l-3 0.5z"/>
<path fill="#ffcaca" d="M1712.5 1395l-1 3l-4 6l-3.5 4l-5 4.5l-8 4l-5 1.5l-17 1l-5 1l-4 -0.5l-2 -1.5v-2l1 -4l1 -2l2 -2l11 -8.5l10 -5l9 -3l9 -1l4 0.5l4 1l2 1z"/>
<path fill="#cacaff" d="M1614.5 1403l1 -2l2.5 -2l5 -2h8l9 1.5l7 2.5l5 4l2 2.5l1.5 2.5v3v2l-1 2l-1.5 2l-5 1h-11l-10 -1l-6.5 -3l-3 -2l-2 -2l-1 -2l-0.5 -2z"/>
<path fill="#ffc7c7" d="M1711.5 1395v2l-5 8l-2.5 3l-6 5l-7 3.5l-5 1l-17.5 1.5l-4.5 1l-4 -0.5l-1.5 -1.5v-2l1 -4l2.5 -4l10 -7.5l10 -5l9 -3l9 -1.5l4 0.5l4 1l2 0.5z"/>
<path fill="#c7c7ff" d="M1615 1404l0.5 -2l2 -2l2.5 -1.5l3 -1l7 -0.5l9 1.5l8 3l5 4l2 2l1 2.5l0.5 2v3l-1 2l-1.5 1.5l-4 1.5h-11l-6 -0.5l-5 -1l-7 -3l-4 -3.5l-1.5 -3z"/>
<path fill="#ffc4c4" d="M1710.5 1395v2l-1 2l-5 8l-5.5 5l-8 4.5l-5 1l-17 1.5l-5 1l-4 -1l-1.5 -1v-2l1 -4l2.5 -4l9 -6.5l9 -5l9 -3l9 -1.5l8 0.5l3 1z"/>
<path fill="#c4c4ff" d="M1615.5 1404l1 -2l2 -2l5.5 -2l7 -0.5l9 2l7 2.5l5 3.5l3 4.5l0.5 2v3l-1 2l-1.5 1.5l-4 1.5h-10l-11 -1l-6 -2.5l-5 -3.5l-1 -2l-1 -2v-3z"/>
<path fill="#ffc1c1" d="M1709.5 1395l0.5 2l-1 2l-2.5 5l-2.5 3l-5.5 5l-7.5 4.5l-5 1l-22 2h-3l-2.5 -1.5v-2l1 -4l2.5 -3.5l8 -6l9 -5l9 -3.5l9 -1.5h8l3 1z"/>
<path fill="#c1c1ff" d="M1615.5 1405l1 -2l2 -2l4.5 -2l7 -1l9 1.5l8 3l5 3.5l2 2.5l1 2l0.5 2.5l-0.5 2l-0.5 2l-1.5 1.5l-4 1.5h-10l-11 -1.5l-6 -2l-4.5 -3.5l-1.5 -2l-0.5 -2z"/>
<path fill="#ffbebe" d="M1709 1396v2l-1.5 3l-3.5 6l-6 5l-7 4l-5 1.5l-21 2h-4l-2 -1.5l-0.5 -2l1 -3l0.5 -2l2 -2.5l9 -6.5l9 -4.5l9 -3l9 -1.5l7 0.5l3 1z"/>
<path fill="#bebeff" d="M1616 1405l1 -2l2 -2l5 -2l7 -0.5l8 1.5l7 2.5l6 4l2 2l1 2.5v4l-2 3.5l-4 1.5h-10l-10 -1l-6 -2.5l-5 -3.5l-1.5 -2l-0.5 -2z"/>
<path fill="#ffbaba" d="M1708 1396v2l-0.5 2l-2 4l-2 3l-5.5 5l-8 4.5l-5 1l-21 2l-3 -0.5l-2 -1l-0.5 -2l1 -3l0.5 -2l2 -2.5l7 -5l10 -5l10 -4l8 -1h7l3 1.5z"/>
<path fill="#babaff" d="M1616.5 1406l0.5 -2l2 -2l4 -2l7 -1l8 1l8 2.5l6 4l2 2.5l1 2v4l-2 3l-4 1.5l-10 0.5l-10 -1l-6 -2.5l-5 -3.5l-1.5 -3z"/>
<path fill="#ffb7b7" d="M1707 1396l0.5 2l-1 3l-3.5 6l-5.5 5l-6.5 4l-3 1l-3 0.5l-20 2l-4 -0.5l-2 -1v-2l0.5 -3l1 -2l1.5 -2l6 -4.5l11 -6l9 -3l8 -1.5h7l3 1z"/>
<path fill="#b7b7ff" d="M1617 1406l1 -2.5l1.5 -1.5l4.5 -2l6 -0.5l8 1l7 2l4 2.5l3 2l2 2l1 2v4l-2 3l-1.5 1l-2.5 0.5l-10 0.5l-9 -1l-7 -2.5l-4.5 -3.5l-2 -3z"/>
<path fill="#ffb4b4" d="M1706.5 1397v2l-1 3l-2.5 5l-5.5 5l-7.5 4l-6 1.5l-19 1.5h-4l-2 -1v-2l0.5 -3l2.5 -4l6 -4.5l10 -5l10 -4l8 -1h7l2 1z"/>
<path fill="#b4b4ff" d="M1617 1406l1.5 -2l1.5 -1.5l4 -2l6 -1l8 1l8 3l6 3.5l2.5 4l0.5 4l-2 3l-4 1.5l-10 0.5l-9 -1l-6 -2.5l-5 -3.5l-2 -3z"/>
<path fill="#ffafaf" d="M1705.5 1397l0.5 2l-0.5 2l-1 3l-2 3l-4.5 4.5l-7 4l-3.5 1.5l-2.5 0.5l-20 1.5h-4l-1.5 -1l-0.5 -2l0.5 -3l2.5 -4l7 -4.5l9 -5l9 -3l8 -1.5h7l2 0.5z"/>
<path fill="#afafff" d="M1617.5 1407l0.5 -2l2 -2l4 -2l6 -1l7 1l8 2l6 3.5l2 2l1.5 2.5l0.5 2l-0.5 2l-1.5 3l-4 1.5l-9 0.5l-9 -1l-6 -2l-5 -3l-2.5 -3l-0.5 -2z"/>
<path fill="#ffa9a9" d="M1704.5 1398v2l-0.5 3l-3 5l-5 4.5l-7 4l-6 1l-19 1.5l-3 -0.5l-1.5 -0.5l-0.5 -1l1.5 -5l2.5 -3.5l6 -4l9 -4.5l8 -2.5l9 -2l6 0.5l2 0.5z"/>
<path fill="#a9a9ff" d="M1618 1407l1 -2l2 -1.5l4 -2l6 -0.5l7 0.5l8 2.5l6 4l2.5 3v2v2l-2 3l-3.5 1.5l-9 0.5l-9 -1l-6 -2.5l-4.5 -2.5l-2.5 -3v-2z"/>
<path fill="#ffa3a3" d="M1703 1399l0.5 2v2l-1.5 3l-1.5 2l-5.5 5l-7 3.5l-6 1l-17 1.5l-4 -0.5l-1 -0.5l-0.5 -1v-2l1 -3l2.5 -3l7 -4.5l8 -4l9 -3l8 -1h3l3 0.5z"/>
<path fill="#a3a3ff" d="M1618.5 1408l1.5 -3l4 -2.5l5 -1l7 0.5l7 1.5l7 3.5l3.5 3l1 2v2l-1.5 3.5l-2 1l-2 1l-8 0.5l-8 -1l-6 -1.5l-5 -3l-2 -1.5l-1 -2z"/>
<path fill="#ff9c9c" d="M1702.5 1400v2v2l-2 4l-5.5 4.5l-7 4l-6 1l-17 1.5l-4 -0.5l-1.5 -1.5l1 -4l2.5 -4l6 -3.5l8 -4l9 -3l8 -1.5h3l3 1l2 1z"/>
<path fill="#9c9cff" d="M1619 1408l2 -3l4 -2l5 -1l7 0.5l7 2l6 2.5l3 3l1 2l0.5 2l-1.5 3l-2 1.5l-2 0.5l-7 0.5l-8.5 -0.5l-6.5 -2l-5 -2.5l-2.5 -3.5z"/>
<path fill="#ff9696" d="M1701.5 1401l0.5 2l-0.5 2l-2.5 4l-5 4l-7 3.5l-6 1l-16 1l-4 -0.5l-1 -1l0.5 -4l2.5 -3.5l6 -4l9 -4l9 -3l7 -1l5 1l2 1.5z"/>
<path fill="#9696ff" d="M1619.5 1408l2.5 -3l4 -2l6 -0.5l6 0.5l6 1.5l6 3l3 2.5l1 2v2l-1 3l-2 1.5l-2 0.5l-7 0.5l-8 -0.5l-6 -1.5l-6 -3.5l-2.5 -3z"/>
<path fill="#ff8f8f" d="M1701 1402v3l-2.5 4l-5 4l-6.5 3.5l-6 1l-15 1h-4l-2 -1.5l0.5 -4l1.5 -2l2 -2l6 -3.5l9 -4l8 -2.5l7 -0.5h3l2 1z"/>
<path fill="#8f8fff" d="M1620 1409l1.5 -3l4.5 -2.5l5 -0.5l6 0.5l8 2l5 2.5l3 2.5l0.5 1.5l0.5 2l-1.5 3l-1.5 1l-2 1l-6 0.5l-8 -0.5l-6 -1.5l-5 -2.5l-3.5 -3z"/>
<path fill="#ff8989" d="M1700 1402l0.5 3l-2.5 4l-5 4l-7 3.5l-6 1l-14 1l-4 -0.5l-1.5 -1v-2l0.5 -2l2 -3l5 -3.5l9 -4l9 -2.5l7 -1l5 1z"/>
<path fill="#8989ff" d="M1620.5 1409l1.5 -2.5l4 -2.5l5 -0.5h6l7 2l6 2.5l3 3l1 3l-1.5 3l-3.5 2l-6 0.5l-8 -0.5l-6 -1.5l-5 -2.5l-3 -3z"/>
<path fill="#ff8383" d="M1699.5 1403v3l-3 4l-4.5 3.5l-6 3l-6 1l-13 1l-5 -0.5l-1.5 -1v-2l0.5 -2l3 -3.5l6 -3.5l8 -3.5l8 -2l7 -1l4 1l2 1z"/>
<path fill="#8383ff" d="M1621 1409l2 -3l4 -1.5l5 -0.5h6l6 1.5l6 3l3 2.5l0.5 3l-1.5 3l-3 1.5l-6 1l-8 -0.5l-6 -2l-4.5 -2l-3 -3z"/>
<path fill="#ff7c7c" d="M1699 1403v3l-1 2l-1.5 2l-4.5 3l-6 3l-5 1.5l-13 1l-5 -0.5l-2 -1l-0.5 -2l1 -2l2 -3l5.5 -3.5l7 -3l7 -2l8 -1.5l5 0.5l2 1z"/>
<path fill="#7c7cff" d="M1621.5 1409l1.5 -2.5l4 -1.5l5 -1l6 0.5l7 2l5 2l2.5 2.5l1 3l-1.5 3l-3 1.5l-6 0.5l-8 -0.5l-5 -1l-5 -2.5l-3 -3z"/>
<path fill="#ff7676" d="M1698.5 1404l-0.5 3l-2 3l-5 3.5l-6 3l-6 1l-12 1l-4 -0.5l-2 -1v-2l0.5 -2l2.5 -3l5 -3.5l8 -3l8 -2.5l7 -0.5l4 1l2 1z"/>
<path fill="#7676ff" d="M1622 1409l1.5 -2l3.5 -2l5 -0.5l6 0.5l6 1l5 2.5l3.5 2.5l0.5 3l-1 2.5l-3 2l-6 0.5l-7 -0.5l-6 -1.5l-4.5 -2l-3.5 -3z"/>
<path fill="#ff7070" d="M1698 1404v3l-2.5 3l-4.5 3.5l-6 2.5l-5 1.5l-12 1l-5 -0.5l-1.5 -1l-0.5 -2l0.5 -2l2.5 -3l6 -3.5l7 -3l8 -2l6 -0.5l5 1z"/>
<path fill="#7070ff" d="M1622 1410l1 -2l1 -1l3 -1.5l5 -1l6 0.5l6 1.5l5 2l3 2.5l1 3l-1 2.5l-3 2l-5 0.5l-7 -0.5l-6 -1l-5 -2.5l-2.5 -2z"/>
<path fill="#ff6969" d="M1697.5 1404v1v2l-2 3l-5.5 4l-6 2.5l-6 1l-12 0.5h-3l-1.5 -1v-1l0.5 -3l3 -3.5l5 -3l8 -3l7 -1.5l6 -0.5l4 0.5z"/>
<path fill="#6969ff" d="M1622.5 1410v-1l1.5 -1.5l3 -1.5l5 -1l6 0.5l6 1l5 2.5l3 2l1 3l-1 2l-3 2l-5 1l-7 -0.5l-6 -1l-5 -2.5l-2.5 -2z"/>
<path fill="#ff6363" d="M1697 1405l-0.5 3l-2.5 3l-5 3l-6 2.5l-7 1l-10 0.5l-3 -0.5l-1 -0.5l-0.5 -1l0.5 -3l3 -3.5l6 -3l7 -2.5l7 -2l6 -0.5l4 1l1.5 1.5z"/>
<path fill="#6363ff" d="M1623 1410l1 -2l4 -2l5 -1l5 0.5l6 1.5l5 2l2.5 2l1 3l-0.5 2l-1 1l-3 1.5l-5 0.5l-6 -0.5l-6 -1.5l-4.5 -2l-2.5 -2l-0.5 -1z"/>
<path fill="#ff5c5c" d="M1696.5 1405l-0.5 3l-2.5 3l-4.5 3l-6 2.5l-6 1l-10 0.5l-4 -0.5l-1 -1.5l0.5 -3l2.5 -3l6 -3.5l6 -2l7 -2l6 -0.5l4 0.5l2 1.5z"/>
<path fill="#5c5cff" d="M1623 1410l1.5 -2l3.5 -2l5 -0.5l5 0.5l7 1.5l4 1.5l2 2l1.5 3l-1.5 2.5l-3 1.5l-5 1l-6 -0.5l-5 -1l-5 -2.5l-2.5 -2l-1 -1z"/>
<path fill="#ff5656" d="M1696 1405l0.5 1l-0.5 2l-3 3l-4.5 3l-5.5 2.5l-5 1l-11 0.5l-4 -0.5l-1 -1.5l0.5 -3l2.5 -3l5 -3l7 -2.5l7 -1.5l6 -0.5l4 0.5z"/>
<path fill="#5656ff" d="M1623.5 1410l1.5 -2l4 -2l5 -0.5l5 0.5l6 1.5l4 2l2.5 2.5l0.5 2l-1 2.5l-3 1.5l-5 0.5h-6l-5 -1.5l-5 -2l-2.5 -2l-1 -2z"/>
<path fill="#ff5050" d="M1695.5 1405l0.5 1l-0.5 2l-2.5 3l-4.5 3l-5.5 2.5l-4 0.5l-11 1l-4 -0.5l-1 -0.5l-0.5 -1v-3l3 -3l4.5 -2.5l7 -3l6 -1.5l6 -0.5l4 0.5z"/>
<path fill="#5050ff" d="M1624 1410l1.5 -2l3.5 -1.5l5 -0.5l5 0.5l5 1l5 2l2.5 2.5l0.5 2l-1 2l-3 2l-5 0.5l-6 -0.5l-5 -1l-4.5 -2l-2.5 -2l-0.5 -1z"/>
<path fill="#ff4949" d="M1695.5 1406l-0.5 2l-2.5 3l-4.5 3l-6 2.5l-5 1l-9 0.5l-4 -0.5l-1 -0.5l-0.5 -1l0.5 -3l2.5 -3l5.5 -3l7 -2.5l6 -1.5h6l4 1z"/>
<path fill="#4949ff" d="M1624.5 1410l1.5 -2l3 -1.5l5 -0.5l5 0.5l5 1l5 2.5l2.5 2l0.5 2l-1 2l-1 1l-2.5 1l-4.5 0.5l-6 -0.5l-5 -1l-4 -2l-2.5 -2l-1 -2z"/>
<path fill="#ff4343" d="M1695 1406l-0.5 2l-2 3l-5 3l-5.5 2.5l-4 0.5l-10 1l-4 -0.5l-1.5 -1.5l0.5 -3l2 -2l5 -3.5l6 -2l7 -2l6 -0.5l4 1z"/>
<path fill="#4343ff" d="M1624.5 1410l2 -2l3.5 -1.5h4h5l5 1.5l4 1.5l3 2.5l0.5 2l-0.5 1.5l-1 1l-3 1.5l-5 0.5l-5 -0.5l-5 -1l-4 -2l-2.5 -2l-1 -2z"/>
<path fill="#ff3d3d" d="M1694.5 1406v2l-2.5 3l-4.5 3l-5.5 2l-4 1l-10 0.5l-4 -0.5l-1 -1v-2l2 -3l4 -2.5l7 -3l7 -1.5l5 -0.5l4 0.5l1.5 1z"/>
<path fill="#3d3dff" d="M1625 1410l2 -2l3 -1l4 -0.5l5 0.5l4 0.5l5 2l3 2.5l0.5 2l-1 2l-3.5 2l-5 0.5l-5 -0.5l-5 -1.5l-4 -2l-3 -2.5z"/>
<path fill="#ff3636" d="M1694 1406v2l-2.5 3l-4.5 3l-4.5 2l-4 1l-9.5 0.5l-5 -0.5l-1 -1v-2l2 -3l4 -2.5l7 -3l6 -1.5l6 -0.5l4 1z"/>
<path fill="#3636ff" d="M1625.5 1410l1.5 -1.5l3 -1.5l5 -0.5l5 0.5l5 1.5l3.5 1.5l2 2l0.5 2l-0.5 2l-3.5 1.5l-5 0.5h-5l-5 -1.5l-4 -2l-2.5 -2.5z"/>
<path fill="#ff3030" d="M1693.5 1406v2l-2 3l-4.5 3l-5 2l-4 1l-9 0.5l-4 -0.5l-1.5 -1v-2l2 -3l3.5 -2.5l6 -2.5l6 -1.5l6 -0.5l4 0.5z"/>
<path fill="#3030ff" d="M1625.5 1411l1 -2l2.5 -1.5l4 -0.5h5l4 0.5l5 2l3 2l1 2.5l-1 2l-2 1.5l-4 0.5h-5l-5 -1l-5 -2l-2.5 -2z"/>
<path fill="#ff2929" d="M1693.5 1407l-0.5 2l-3 3l-4 2l-4.5 2l-4 1l-8.5 0.5l-4 -0.5l-1.5 -1v-1l0.5 -2l2 -2l5 -3l6 -2.5l6 -1l5 -0.5l3.5 1l1.5 1z"/>
<path fill="#2929ff" d="M1626 1411l1 -2l2 -1l4 -1h5l5 1l4 1.5l3 2.5l1 2l-1 2l-3 1.5l-3.5 0.5h-4.5l-5 -1l-4.5 -2l-2.5 -2z"/>
<path fill="#ff2323" d="M1693 1407l-0.5 2l-3 3l-4.5 2.5l-5 2l-6 1h-7l-2 -0.5l-1 -1l-0.5 -1l1.5 -3l2.5 -2l4.5 -2.5l6 -2l5 -1h5l3 0.5l1.5 1z"/>
<path fill="#2323ff" d="M1626 1411l1.5 -2l2.5 -1l4 -1l5 0.5l5 1l3.5 1.5l2.5 2l0.5 2l-1 2l-2.5 1.5l-4 0.5h-4l-5 -1l-4.5 -2l-2.5 -2z"/>
<path fill="#ff1d1d" d="M1692.5 1407l-0.5 2l-3 3l-4 2.5l-5 1.5l-4 1l-8 0.5l-2.5 -0.5l-1 -1l-0.5 -1l1 -3l2.5 -2l4.5 -2l6 -2l5 -1l5 -0.5l3 1z"/>
<path fill="#1d1dff" d="M1626.5 1411l1.5 -2l2 -1l4 -0.5h5l4 1l4 1.5l2.5 2l1 2l-1 2l-2.5 1l-4 1l-4 -0.5l-5 -1l-4 -1.5l-2.5 -2z"/>
<path fill="#ff1616" d="M1692 1407v2l-3 3l-4 2l-4.5 2l-4.5 1l-8 0.5l-2 -0.5l-1.5 -1l-0.5 -1l0.5 -2l2.5 -2.5l4 -2l6 -2.5l5 -1h5l3 0.5z"/>
<path fill="#1616ff" d="M1627 1411l1 -2l2.5 -1l4.5 -0.5l4 0.5l4 0.5l4 1.5l2.5 2l0.5 2l-1 2l-2 1l-4 0.5h-4l-5 -1l-4 -1.5l-2.5 -2z"/>
<path fill="#ff1010" d="M1691.5 1407v2l-3 3l-3.5 2l-5 2l-4.5 1h-7.5h-2l-1 -1l-0.5 -1l0.5 -2l2 -2l4 -2.5l5 -2l5 -1l5 -0.5l4 0.5z"/>
<path fill="#1010ff" d="M1627 1411l0.5 -1l1 -1l2.5 -1l4 -0.5l4 0.5l4 0.5l4 2l2 1.5l1 2l-1 2l-2 1l-4 0.5h-5l-4 -1l-3.5 -1.5l-2.5 -2z"/>
<path fill="#ff0a0a" d="M1691 1407v2l-2.5 3l-3.5 2l-5.5 2l-4.5 1h-7l-2 -0.5l-1.5 -1.5l0.5 -2l2 -2l4 -2.5l5 -1.5l5 -1.5l5 -0.5l3 0.5z"/>
<path fill="#0a0aff" d="M1627.5 1411l1.5 -2l2 -0.5l4 -0.5h4l4 1l4 1.5l2 1.5l1 2l-1.5 2l-2 1l-3.5 0.5l-5 -0.5l-7 -2l-3 -2z"/>
<path fill="#ff0303" d="M1691 1407.5l-0.5 2.5l-2.5 2l-4 2.5l-4.5 1.5l-5.5 1h-5l-3 -0.5l-1 -1.5l0.5 -2l1.5 -2l4 -2l6 -2.5l5 -1h5l2.5 0.5z"/>
<path fill="#0303ff" d="M1628 1411l1 -1.5l2 -1l4 -0.5h4l5 1.5l3 1l1.5 1.5l1 2l-1 2l-2.5 1l-4 0.5l-4 -0.5l-7 -2l-2.5 -2z"/>
<path fill="#ff0000" d="M1690.5 1408l-0.5 2l-2 2l-4 2l-5 2l-6 1h-4l-3 -1l-1 -1l0.5 -2l2 -2l4.5 -2.5l5 -1.5l5 -1.5h4l3 0.5l1.5 1z"/>
<path fill="#0000ff" d="M1628 1411l1 -1.5l3 -1h7l5 1l3 1.5l1.5 1l1 2l-1.5 2l-2 1l-4 0.5l-4 -0.5l-4 -1l-3 -1.5l-2.5 -1.5z"/>
</g>
<linearGradient id="bwr2033" x1="0" y1="0" x2="0" y2="1"><stop offset="0" stop-color="#ff0000"/><stop offset="0.5" stop-color="#ffffff"/><stop offset="1" stop-color="#0000ff"/></linearGradient>
<rect x="2033.6" y="1017.5" width="65.9" height="600.4" fill="url(#bwr2033)" stroke="#000" stroke-width="1.3"/>
<path d="M2033.6 1092.17h10.5M2099.5 1092.17h-10.5M2033.6 1167.25h10.5M2099.5 1167.25h-10.5M2033.6 1242.33h10.5M2099.5 1242.33h-10.5M2033.6 1317.4h10.5M2099.5 1317.4h-10.5M2033.6 1392.47h10.5M2099.5 1392.47h-10.5M2033.6 1467.55h10.5M2099.5 1467.55h-10.5M2033.6 1542.62h10.5M2099.5 1542.62h-10.5" stroke="#000" stroke-width="1.1" fill="none" opacity="0.8"/>
<text x="2137.88" y="1048.39" font-size="54" font-family='"DejaVu Sans","Bitstream Vera Sans",Verdana,sans-serif'>40</text>
<text x="2136.38" y="1115.89" font-size="54" font-family='"DejaVu Sans","Bitstream Vera Sans",Verdana,sans-serif'>30</text>
<text x="2136.5" y="1186.29" font-size="54" font-family='"DejaVu Sans","Bitstream Vera Sans",Verdana,sans-serif'>20</text>
<text x="2137.12" y="1261.49" font-size="54" font-family='"DejaVu Sans","Bitstream Vera Sans",Verdana,sans-serif'>10</text>
<text x="2137.3" y="1335.69" font-size="54" font-family='"DejaVu Sans","Bitstream Vera Sans",Verdana,sans-serif'>0</text>
<text x="2115.18" y="1408.99" font-size="54" font-family='"DejaVu Sans","Bitstream Vera Sans",Verdana,sans-serif'>-10</text>
<text x="2115.18" y="1483.69" font-size="54" font-family='"DejaVu Sans","Bitstream Vera Sans",Verdana,sans-serif'>-20</text>
<text x="2115.18" y="1560.69" font-size="54" font-family='"DejaVu Sans","Bitstream Vera Sans",Verdana,sans-serif'>-30</text>
<text x="2115.18" y="1631.29" font-size="54" font-family='"DejaVu Sans","Bitstream Vera Sans",Verdana,sans-serif'>-40</text>
<path d="M1470.8 1620.8v-6.5M1470.8 1011v6.5M1662 1620.8v-6.5M1662 1011v6.5M1852.4 1620.8v-6.5M1852.4 1011v6.5M1357.1 1049h6.5M1966.8 1049h-6.5M1357.1 1240.1h6.5M1966.8 1240.1h-6.5M1357.1 1430.6h6.5M1966.8 1430.6h-6.5" stroke="#000" stroke-width="1.8" fill="none"/>
<rect x="1357.1" y="1011" width="609.7" height="609.8" fill="none" stroke="#000" stroke-width="2.2" stroke-linejoin="round"/>
<path d="M1362 1421.2L1972 1421.2" stroke="#000" stroke-width="2.6" fill="none"/>
<text x="1380.83" y="1083.1" font-size="85" font-family='"DejaVu Sans","Bitstream Vera Sans",Verdana,sans-serif'>D</text>
<text x="1665.57" y="1082" font-size="54.4" font-family='"DejaVu Sans","Bitstream Vera Sans",Verdana,sans-serif'>λ=470 nm</text>
<text x="1371.15" y="1405.1" font-size="54" font-family='"DejaVu Sans","Bitstream Vera Sans",Verdana,sans-serif' letter-spacing="0.5">air</text>
<text x="1370.1" y="1475.55" font-size="54" font-family='"DejaVu Sans","Bitstream Vera Sans",Verdana,sans-serif' letter-spacing="1.6">Si</text>
<text x="1998.12" y="970.8" font-size="54" font-family='"DejaVu Sans","Bitstream Vera Sans",Verdana,sans-serif'>ρ [C/m<tspan dy="-21.06" font-size="37.8">3</tspan><tspan dy="21.06">]</tspan></text>
<text transform="translate(1224.5 1392.2) rotate(-90)" font-size="53.3" font-family='"Liberation Sans",Arial,Helvetica,sans-serif' letter-spacing="0.8">z [nm]</text>
<text x="1589.4" y="1739.8" font-size="53.3" font-family='"Liberation Sans",Arial,Helvetica,sans-serif' letter-spacing="0.42">y [nm]</text>
<text x="1284.78" y="1069.24" font-size="55" font-family='"Liberation Sans",Arial,Helvetica,sans-serif'>20</text>
<text x="1284.78" y="1259.94" font-size="55" font-family='"Liberation Sans",Arial,Helvetica,sans-serif'>10</text>
<text x="1315.4" y="1450.24" font-size="55" font-family='"Liberation Sans",Arial,Helvetica,sans-serif'>0</text>
<text x="1252.65" y="1640.84" font-size="55" font-family='"Liberation Sans",Arial,Helvetica,sans-serif'>−10</text>
<text x="1409.3" y="1683.1" font-size="55" font-family='"Liberation Sans",Arial,Helvetica,sans-serif'>−10</text>
<text x="1646.69" y="1683.1" font-size="55" font-family='"Liberation Sans",Arial,Helvetica,sans-serif'>0</text>
<text x="1822.08" y="1683.1" font-size="55" font-family='"Liberation Sans",Arial,Helvetica,sans-serif'>10</text>
</g>
</svg></body></html>
